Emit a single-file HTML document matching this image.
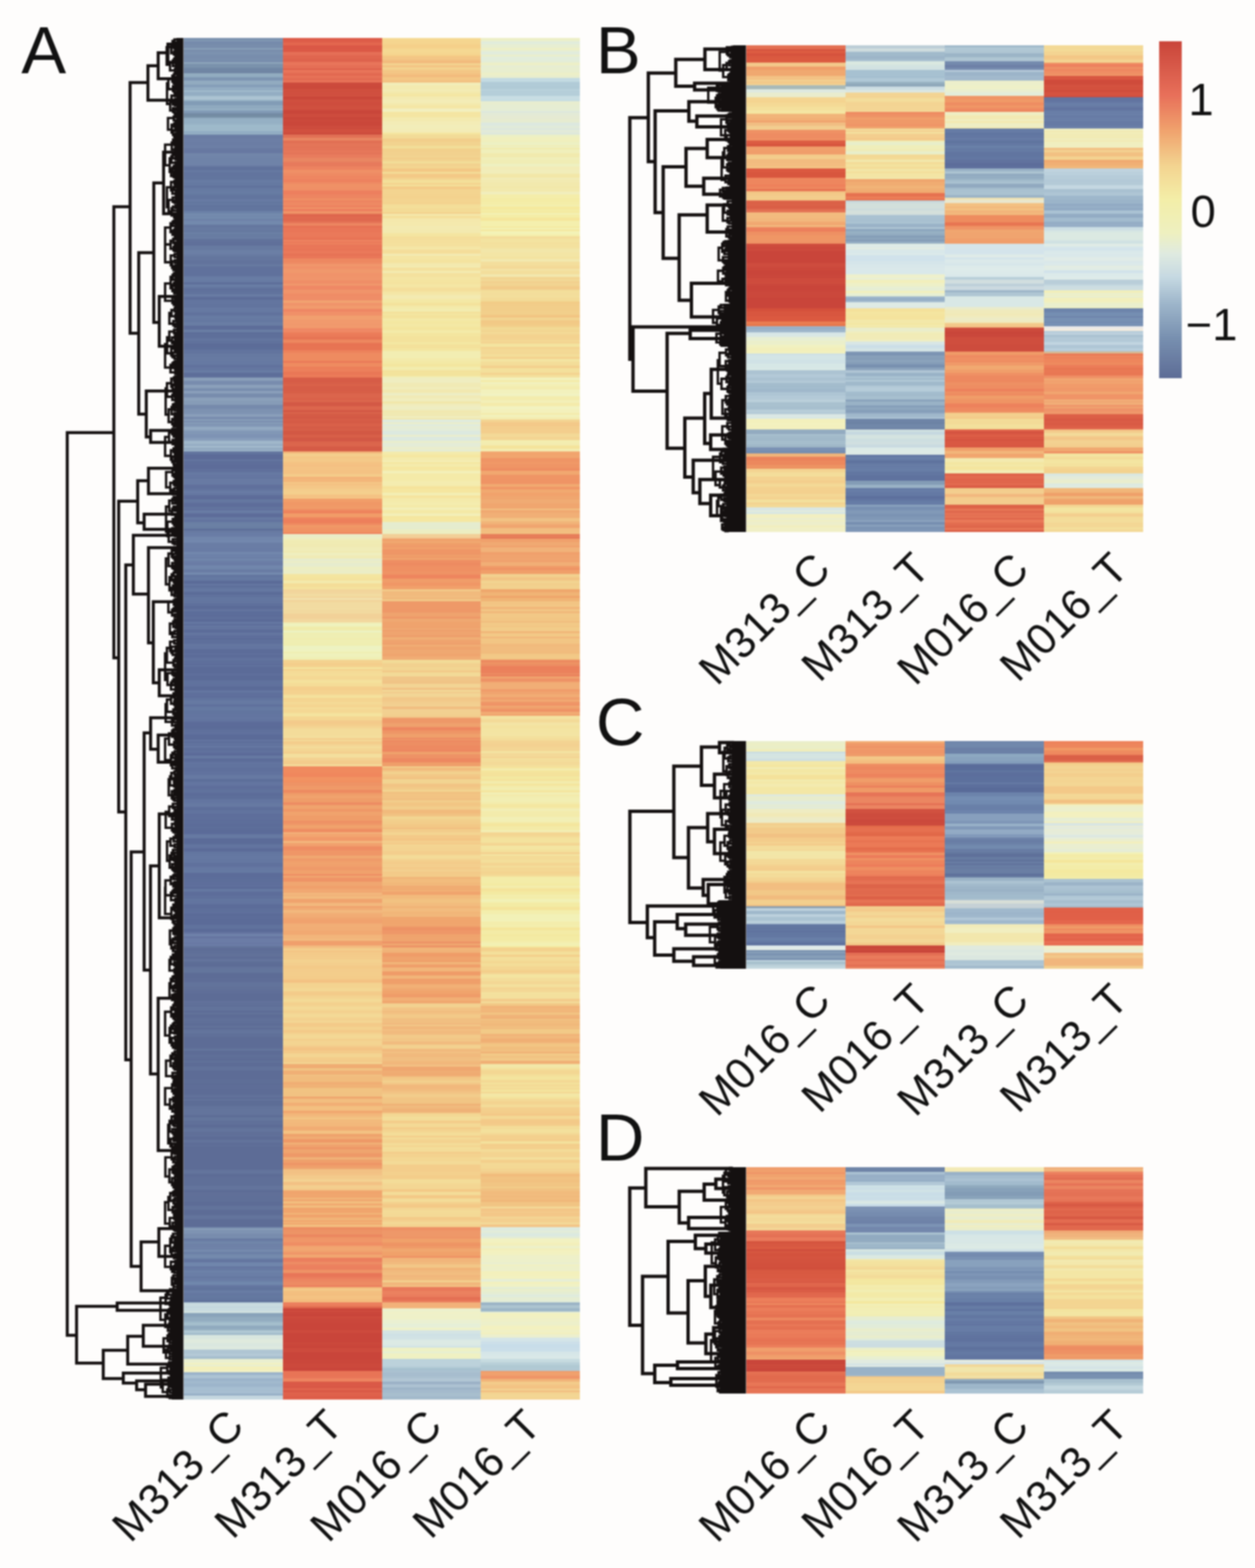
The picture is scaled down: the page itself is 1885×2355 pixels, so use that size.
<!DOCTYPE html>
<html><head><meta charset="utf-8"><title>Heatmaps</title>
<style>html,body{margin:0;padding:0;background:#fefdfc;}svg{display:block;}#wrap{filter:blur(1px);}</style></head>
<body><div id="wrap"><svg width="1885" height="2355" viewBox="0 0 1885 2355" >
<rect width="1885" height="2355" fill="#fefdfc"/>
<g shape-rendering="crispEdges">
<g transform="translate(276.00,0) scale(149.15,1)">
<rect y="57" width="1" height="3.4" fill="#798fad"/>
<rect y="60" width="1" height="2.4" fill="#8198b3"/>
<rect y="62" width="1" height="5.4" fill="#768bab"/>
<rect y="67" width="1" height="5.4" fill="#788dac"/>
<rect y="72" width="1" height="3.4" fill="#869db6"/>
<rect y="75" width="1" height="2.4" fill="#7589a9"/>
<rect y="77" width="1" height="5.4" fill="#7c92af"/>
<rect y="82" width="1" height="2.4" fill="#788ead"/>
<rect y="84" width="1" height="4.4" fill="#788dac"/>
<rect y="88" width="1" height="3.4" fill="#7a90ae"/>
<rect y="91" width="1" height="2.4" fill="#758aaa"/>
<rect y="93" width="1" height="3.4" fill="#8ba2b9"/>
<rect y="96" width="1" height="6.4" fill="#7a92ac"/>
<rect y="102" width="1" height="5.4" fill="#7086a4"/>
<rect y="107" width="1" height="3.4" fill="#7085a3"/>
<rect y="110" width="1" height="6.4" fill="#92acc0"/>
<rect y="116" width="1" height="5.4" fill="#7d95b2"/>
<rect y="121" width="1" height="6.4" fill="#92abc0"/>
<rect y="127" width="1" height="4.4" fill="#859eb8"/>
<rect y="131" width="1" height="5.4" fill="#92acc2"/>
<rect y="136" width="1" height="2.4" fill="#a3bdcd"/>
<rect y="138" width="1" height="6.4" fill="#93adc3"/>
<rect y="144" width="1" height="2.4" fill="#aac2d1"/>
<rect y="146" width="1" height="4.4" fill="#acc4d2"/>
<rect y="150" width="1" height="2.4" fill="#94aec3"/>
<rect y="152" width="1" height="6.4" fill="#829cb6"/>
<rect y="158" width="1" height="5.4" fill="#8fa9bf"/>
<rect y="163" width="1" height="3.4" fill="#95afc3"/>
<rect y="166" width="1" height="4.4" fill="#819ab6"/>
<rect y="170" width="1" height="5.4" fill="#748ba3"/>
<rect y="175" width="1" height="2.4" fill="#7a93a9"/>
<rect y="177" width="1" height="2.4" fill="#93aec2"/>
<rect y="179" width="1" height="5.4" fill="#95b0c4"/>
<rect y="184" width="1" height="3.4" fill="#96b1c5"/>
<rect y="187" width="1" height="4.4" fill="#9ebaca"/>
<rect y="191" width="1" height="6.4" fill="#9eb9ca"/>
<rect y="197" width="1" height="3.4" fill="#91acc2"/>
<rect y="200" width="1" height="2.4" fill="#96b1c5"/>
<rect y="202" width="1" height="2.4" fill="#6d81a6"/>
<rect y="204" width="1" height="4.4" fill="#6a7ca3"/>
<rect y="208" width="1" height="6.4" fill="#6c7ea5"/>
<rect y="214" width="1" height="5.4" fill="#6b7da4"/>
<rect y="219" width="1" height="3.4" fill="#6d80a6"/>
<rect y="222" width="1" height="2.4" fill="#697ba2"/>
<rect y="224" width="1" height="6.4" fill="#6778a1"/>
<rect y="230" width="1" height="6.4" fill="#7185a9"/>
<rect y="236" width="1" height="6.4" fill="#6f83a8"/>
<rect y="242" width="1" height="6.4" fill="#6f83a8"/>
<rect y="248" width="1" height="2.4" fill="#6b7da4"/>
<rect y="250" width="1" height="6.4" fill="#60729c"/>
<rect y="256" width="1" height="2.4" fill="#687ca4"/>
<rect y="258" width="1" height="6.4" fill="#62749e"/>
<rect y="264" width="1" height="6.4" fill="#62759e"/>
<rect y="270" width="1" height="3.4" fill="#677ba3"/>
<rect y="273" width="1" height="2.4" fill="#667aa2"/>
<rect y="275" width="1" height="4.4" fill="#6579a1"/>
<rect y="279" width="1" height="3.4" fill="#60729c"/>
<rect y="282" width="1" height="5.4" fill="#667aa2"/>
<rect y="287" width="1" height="4.4" fill="#677ca3"/>
<rect y="291" width="1" height="2.4" fill="#6579a1"/>
<rect y="293" width="1" height="6.4" fill="#62759e"/>
<rect y="299" width="1" height="4.4" fill="#677ba3"/>
<rect y="303" width="1" height="2.4" fill="#62759e"/>
<rect y="305" width="1" height="3.4" fill="#6579a1"/>
<rect y="308" width="1" height="3.4" fill="#61749d"/>
<rect y="311" width="1" height="6.4" fill="#62759e"/>
<rect y="317" width="1" height="4.4" fill="#6c82a8"/>
<rect y="321" width="1" height="2.4" fill="#768daf"/>
<rect y="323" width="1" height="2.4" fill="#7186ab"/>
<rect y="325" width="1" height="4.4" fill="#738aad"/>
<rect y="329" width="1" height="2.4" fill="#6c80a6"/>
<rect y="331" width="1" height="3.4" fill="#7288ac"/>
<rect y="334" width="1" height="2.4" fill="#748bae"/>
<rect y="336" width="1" height="2.4" fill="#7085aa"/>
<rect y="338" width="1" height="3.4" fill="#64769e"/>
<rect y="341" width="1" height="4.4" fill="#677aa1"/>
<rect y="345" width="1" height="4.4" fill="#6679a0"/>
<rect y="349" width="1" height="2.4" fill="#6c82a6"/>
<rect y="351" width="1" height="5.4" fill="#687ca2"/>
<rect y="356" width="1" height="3.4" fill="#697da3"/>
<rect y="359" width="1" height="4.4" fill="#61729b"/>
<rect y="363" width="1" height="6.4" fill="#60709a"/>
<rect y="369" width="1" height="6.4" fill="#677aa1"/>
<rect y="375" width="1" height="2.4" fill="#6a7ea4"/>
<rect y="377" width="1" height="5.4" fill="#6b7fa5"/>
<rect y="382" width="1" height="3.4" fill="#677aa1"/>
<rect y="385" width="1" height="6.4" fill="#64769e"/>
<rect y="391" width="1" height="6.4" fill="#62739c"/>
<rect y="397" width="1" height="3.4" fill="#677aa1"/>
<rect y="400" width="1" height="6.4" fill="#60719c"/>
<rect y="406" width="1" height="5.4" fill="#60719c"/>
<rect y="411" width="1" height="4.4" fill="#60719c"/>
<rect y="415" width="1" height="5.4" fill="#687ca4"/>
<rect y="420" width="1" height="4.4" fill="#677ba3"/>
<rect y="424" width="1" height="3.4" fill="#5d6d99"/>
<rect y="427" width="1" height="4.4" fill="#687ca4"/>
<rect y="431" width="1" height="2.4" fill="#6577a0"/>
<rect y="433" width="1" height="4.4" fill="#5f709b"/>
<rect y="437" width="1" height="5.4" fill="#61739d"/>
<rect y="442" width="1" height="3.4" fill="#697da4"/>
<rect y="445" width="1" height="2.4" fill="#61729d"/>
<rect y="447" width="1" height="3.4" fill="#5c6c98"/>
<rect y="450" width="1" height="6.4" fill="#63759f"/>
<rect y="456" width="1" height="6.4" fill="#62749e"/>
<rect y="462" width="1" height="5.4" fill="#6679a2"/>
<rect y="467" width="1" height="2.4" fill="#6679a2"/>
<rect y="469" width="1" height="5.4" fill="#61729d"/>
<rect y="474" width="1" height="5.4" fill="#677ba3"/>
<rect y="479" width="1" height="5.4" fill="#6578a1"/>
<rect y="484" width="1" height="5.4" fill="#697da4"/>
<rect y="489" width="1" height="6.4" fill="#5d6d99"/>
<rect y="495" width="1" height="4.4" fill="#697da4"/>
<rect y="499" width="1" height="3.4" fill="#5d6e99"/>
<rect y="502" width="1" height="6.4" fill="#5e6f9a"/>
<rect y="508" width="1" height="4.4" fill="#63759f"/>
<rect y="512" width="1" height="4.4" fill="#60719c"/>
<rect y="516" width="1" height="5.4" fill="#5c6c98"/>
<rect y="521" width="1" height="4.4" fill="#5c6d99"/>
<rect y="525" width="1" height="6.4" fill="#62749e"/>
<rect y="531" width="1" height="6.4" fill="#6679a1"/>
<rect y="537" width="1" height="2.4" fill="#687ba3"/>
<rect y="539" width="1" height="3.4" fill="#677aa2"/>
<rect y="542" width="1" height="6.4" fill="#6679a2"/>
<rect y="548" width="1" height="4.4" fill="#61729d"/>
<rect y="552" width="1" height="4.4" fill="#6476a0"/>
<rect y="556" width="1" height="4.4" fill="#677ba3"/>
<rect y="560" width="1" height="3.4" fill="#5d6d99"/>
<rect y="563" width="1" height="4.4" fill="#5e6f9a"/>
<rect y="567" width="1" height="5.4" fill="#899eb9"/>
<rect y="572" width="1" height="6.4" fill="#788cae"/>
<rect y="578" width="1" height="4.4" fill="#8ca1bb"/>
<rect y="582" width="1" height="2.4" fill="#8297b4"/>
<rect y="584" width="1" height="3.4" fill="#778bad"/>
<rect y="587" width="1" height="4.4" fill="#8a9fba"/>
<rect y="591" width="1" height="6.4" fill="#788cad"/>
<rect y="597" width="1" height="5.4" fill="#8ba0ba"/>
<rect y="602" width="1" height="6.4" fill="#869cb7"/>
<rect y="608" width="1" height="2.4" fill="#7689ab"/>
<rect y="610" width="1" height="4.4" fill="#768aac"/>
<rect y="614" width="1" height="6.4" fill="#7d92b1"/>
<rect y="620" width="1" height="2.4" fill="#7f94b3"/>
<rect y="622" width="1" height="4.4" fill="#8a9fba"/>
<rect y="626" width="1" height="2.4" fill="#778bad"/>
<rect y="628" width="1" height="2.4" fill="#7b8fb0"/>
<rect y="630" width="1" height="2.4" fill="#8aa0ba"/>
<rect y="632" width="1" height="2.4" fill="#778bad"/>
<rect y="634" width="1" height="2.4" fill="#879db8"/>
<rect y="636" width="1" height="4.4" fill="#8095b4"/>
<rect y="640" width="1" height="2.4" fill="#8ba2bd"/>
<rect y="642" width="1" height="3.4" fill="#94abc3"/>
<rect y="645" width="1" height="2.4" fill="#8ca2bd"/>
<rect y="647" width="1" height="5.4" fill="#8197b6"/>
<rect y="652" width="1" height="6.4" fill="#7e93b4"/>
<rect y="658" width="1" height="4.4" fill="#889ebb"/>
<rect y="662" width="1" height="5.4" fill="#a0b7ca"/>
<rect y="667" width="1" height="3.4" fill="#95acc3"/>
<rect y="670" width="1" height="2.4" fill="#a8bfcf"/>
<rect y="672" width="1" height="4.4" fill="#93aac2"/>
<rect y="676" width="1" height="2.4" fill="#9cb3c7"/>
<rect y="678" width="1" height="4.4" fill="#63759f"/>
<rect y="682" width="1" height="2.4" fill="#5c6c99"/>
<rect y="684" width="1" height="6.4" fill="#5c6b98"/>
<rect y="690" width="1" height="2.4" fill="#6577a1"/>
<rect y="692" width="1" height="6.4" fill="#5e6e9a"/>
<rect y="698" width="1" height="6.4" fill="#5d6c99"/>
<rect y="704" width="1" height="5.4" fill="#60709c"/>
<rect y="709" width="1" height="4.4" fill="#6679a2"/>
<rect y="713" width="1" height="3.4" fill="#6576a1"/>
<rect y="716" width="1" height="3.4" fill="#6476a0"/>
<rect y="719" width="1" height="4.4" fill="#687aa3"/>
<rect y="723" width="1" height="5.4" fill="#687aa3"/>
<rect y="728" width="1" height="6.4" fill="#60709c"/>
<rect y="734" width="1" height="3.4" fill="#63759f"/>
<rect y="737" width="1" height="4.4" fill="#687ba4"/>
<rect y="741" width="1" height="3.4" fill="#6476a0"/>
<rect y="744" width="1" height="6.4" fill="#5d6c99"/>
<rect y="750" width="1" height="4.4" fill="#6578a1"/>
<rect y="754" width="1" height="2.4" fill="#61729d"/>
<rect y="756" width="1" height="6.4" fill="#5e6d9a"/>
<rect y="762" width="1" height="2.4" fill="#6578a1"/>
<rect y="764" width="1" height="2.4" fill="#5e6d9a"/>
<rect y="766" width="1" height="5.4" fill="#687ba4"/>
<rect y="771" width="1" height="6.4" fill="#5d6c99"/>
<rect y="777" width="1" height="2.4" fill="#687ca4"/>
<rect y="779" width="1" height="2.4" fill="#6577a1"/>
<rect y="781" width="1" height="3.4" fill="#62739e"/>
<rect y="784" width="1" height="3.4" fill="#6a7fa4"/>
<rect y="787" width="1" height="4.4" fill="#6b80a4"/>
<rect y="791" width="1" height="3.4" fill="#697ea3"/>
<rect y="794" width="1" height="3.4" fill="#5e6f99"/>
<rect y="797" width="1" height="3.4" fill="#687ba2"/>
<rect y="800" width="1" height="6.4" fill="#697ca5"/>
<rect y="806" width="1" height="6.4" fill="#7186ac"/>
<rect y="812" width="1" height="3.4" fill="#7388ae"/>
<rect y="815" width="1" height="2.4" fill="#6a7da5"/>
<rect y="817" width="1" height="6.4" fill="#6a7da5"/>
<rect y="823" width="1" height="6.4" fill="#697ca5"/>
<rect y="829" width="1" height="3.4" fill="#7288ad"/>
<rect y="832" width="1" height="5.4" fill="#6d81a9"/>
<rect y="837" width="1" height="2.4" fill="#6b7ea6"/>
<rect y="839" width="1" height="3.4" fill="#7186ac"/>
<rect y="842" width="1" height="2.4" fill="#6c7fa7"/>
<rect y="844" width="1" height="5.4" fill="#6a7ca5"/>
<rect y="849" width="1" height="6.4" fill="#7186ac"/>
<rect y="855" width="1" height="5.4" fill="#697ca4"/>
<rect y="860" width="1" height="3.4" fill="#758baf"/>
<rect y="863" width="1" height="4.4" fill="#6376a0"/>
<rect y="867" width="1" height="5.4" fill="#6579a2"/>
<rect y="872" width="1" height="5.4" fill="#5b6b98"/>
<rect y="877" width="1" height="2.4" fill="#6578a2"/>
<rect y="879" width="1" height="4.4" fill="#5e6f9b"/>
<rect y="883" width="1" height="6.4" fill="#6477a1"/>
<rect y="889" width="1" height="4.4" fill="#5b6b98"/>
<rect y="893" width="1" height="4.4" fill="#60729d"/>
<rect y="897" width="1" height="5.4" fill="#6376a0"/>
<rect y="902" width="1" height="2.4" fill="#63759f"/>
<rect y="904" width="1" height="2.4" fill="#6376a0"/>
<rect y="906" width="1" height="4.4" fill="#5f709c"/>
<rect y="910" width="1" height="5.4" fill="#5b6b98"/>
<rect y="915" width="1" height="3.4" fill="#63759f"/>
<rect y="918" width="1" height="5.4" fill="#5c6d9a"/>
<rect y="923" width="1" height="3.4" fill="#5c6c99"/>
<rect y="926" width="1" height="4.4" fill="#5e6f9b"/>
<rect y="930" width="1" height="4.4" fill="#5b6b98"/>
<rect y="934" width="1" height="3.4" fill="#6578a2"/>
<rect y="937" width="1" height="2.4" fill="#5b6b99"/>
<rect y="939" width="1" height="4.4" fill="#6476a0"/>
<rect y="943" width="1" height="3.4" fill="#62739e"/>
<rect y="946" width="1" height="4.4" fill="#5b6b98"/>
<rect y="950" width="1" height="4.4" fill="#6476a0"/>
<rect y="954" width="1" height="5.4" fill="#5e6e9b"/>
<rect y="959" width="1" height="2.4" fill="#5b6b98"/>
<rect y="961" width="1" height="6.4" fill="#5e6f9b"/>
<rect y="967" width="1" height="3.4" fill="#6476a0"/>
<rect y="970" width="1" height="5.4" fill="#6375a0"/>
<rect y="975" width="1" height="6.4" fill="#5c6c99"/>
<rect y="981" width="1" height="2.4" fill="#5f709c"/>
<rect y="983" width="1" height="5.4" fill="#5c6c99"/>
<rect y="988" width="1" height="4.4" fill="#61729e"/>
<rect y="992" width="1" height="3.4" fill="#5e6f9b"/>
<rect y="995" width="1" height="2.4" fill="#5f709c"/>
<rect y="997" width="1" height="2.4" fill="#5b6b98"/>
<rect y="999" width="1" height="2.4" fill="#62749f"/>
<rect y="1001" width="1" height="2.4" fill="#5b6b98"/>
<rect y="1003" width="1" height="3.4" fill="#5b6b98"/>
<rect y="1006" width="1" height="6.4" fill="#5b6b98"/>
<rect y="1012" width="1" height="2.4" fill="#60719d"/>
<rect y="1014" width="1" height="3.4" fill="#5b6b98"/>
<rect y="1017" width="1" height="5.4" fill="#5b6b98"/>
<rect y="1022" width="1" height="5.4" fill="#60729d"/>
<rect y="1027" width="1" height="4.4" fill="#60719d"/>
<rect y="1031" width="1" height="6.4" fill="#5b6b98"/>
<rect y="1037" width="1" height="3.4" fill="#6477a1"/>
<rect y="1040" width="1" height="6.4" fill="#5f6f9c"/>
<rect y="1046" width="1" height="2.4" fill="#5d6d9a"/>
<rect y="1048" width="1" height="4.4" fill="#62759f"/>
<rect y="1052" width="1" height="6.4" fill="#6679a2"/>
<rect y="1058" width="1" height="3.4" fill="#5f6f9c"/>
<rect y="1061" width="1" height="6.4" fill="#6579a2"/>
<rect y="1067" width="1" height="6.4" fill="#62759f"/>
<rect y="1073" width="1" height="4.4" fill="#6375a0"/>
<rect y="1077" width="1" height="4.4" fill="#6476a1"/>
<rect y="1081" width="1" height="3.4" fill="#62749f"/>
<rect y="1084" width="1" height="6.4" fill="#5c6b99"/>
<rect y="1090" width="1" height="5.4" fill="#5b6b98"/>
<rect y="1095" width="1" height="3.4" fill="#5e6f9b"/>
<rect y="1098" width="1" height="5.4" fill="#60719d"/>
<rect y="1103" width="1" height="2.4" fill="#5b6b99"/>
<rect y="1105" width="1" height="6.4" fill="#5b6b98"/>
<rect y="1111" width="1" height="3.4" fill="#62749f"/>
<rect y="1114" width="1" height="2.4" fill="#5b6b98"/>
<rect y="1116" width="1" height="2.4" fill="#6477a1"/>
<rect y="1118" width="1" height="2.4" fill="#5e6f9b"/>
<rect y="1120" width="1" height="3.4" fill="#6578a2"/>
<rect y="1123" width="1" height="4.4" fill="#5e6f9b"/>
<rect y="1127" width="1" height="4.4" fill="#60719d"/>
<rect y="1131" width="1" height="4.4" fill="#5c6b99"/>
<rect y="1135" width="1" height="4.4" fill="#6679a2"/>
<rect y="1139" width="1" height="5.4" fill="#5c6c99"/>
<rect y="1144" width="1" height="4.4" fill="#62749f"/>
<rect y="1148" width="1" height="5.4" fill="#61739e"/>
<rect y="1153" width="1" height="6.4" fill="#5f709c"/>
<rect y="1159" width="1" height="5.4" fill="#61729e"/>
<rect y="1164" width="1" height="6.4" fill="#6679a2"/>
<rect y="1170" width="1" height="4.4" fill="#5d6e9a"/>
<rect y="1174" width="1" height="6.4" fill="#6375a0"/>
<rect y="1180" width="1" height="5.4" fill="#5e6e9b"/>
<rect y="1185" width="1" height="6.4" fill="#60729d"/>
<rect y="1191" width="1" height="4.4" fill="#5c6c99"/>
<rect y="1195" width="1" height="5.4" fill="#5d6e9a"/>
<rect y="1200" width="1" height="6.4" fill="#6375a0"/>
<rect y="1206" width="1" height="6.4" fill="#6679a2"/>
<rect y="1212" width="1" height="5.4" fill="#5e6f9b"/>
<rect y="1217" width="1" height="5.4" fill="#61739e"/>
<rect y="1222" width="1" height="6.4" fill="#5e6e9b"/>
<rect y="1228" width="1" height="2.4" fill="#5f709c"/>
<rect y="1230" width="1" height="3.4" fill="#5d6d9a"/>
<rect y="1233" width="1" height="4.4" fill="#5d6e9a"/>
<rect y="1237" width="1" height="5.4" fill="#5c6c99"/>
<rect y="1242" width="1" height="3.4" fill="#5d6e9a"/>
<rect y="1245" width="1" height="5.4" fill="#5b6b98"/>
<rect y="1250" width="1" height="3.4" fill="#5b6b99"/>
<rect y="1253" width="1" height="6.4" fill="#6679a2"/>
<rect y="1259" width="1" height="4.4" fill="#5b6b98"/>
<rect y="1263" width="1" height="5.4" fill="#5b6b98"/>
<rect y="1268" width="1" height="6.4" fill="#62749f"/>
<rect y="1274" width="1" height="5.4" fill="#5b6b98"/>
<rect y="1279" width="1" height="5.4" fill="#6376a0"/>
<rect y="1284" width="1" height="6.4" fill="#6578a2"/>
<rect y="1290" width="1" height="6.4" fill="#6477a1"/>
<rect y="1296" width="1" height="6.4" fill="#60719d"/>
<rect y="1302" width="1" height="4.4" fill="#6578a2"/>
<rect y="1306" width="1" height="5.4" fill="#6579a2"/>
<rect y="1311" width="1" height="6.4" fill="#5c6c99"/>
<rect y="1317" width="1" height="3.4" fill="#5c6d9a"/>
<rect y="1320" width="1" height="5.4" fill="#5d6e9a"/>
<rect y="1325" width="1" height="4.4" fill="#5e6e9b"/>
<rect y="1329" width="1" height="3.4" fill="#5f6f9c"/>
<rect y="1332" width="1" height="3.4" fill="#5b6b98"/>
<rect y="1335" width="1" height="4.4" fill="#6578a2"/>
<rect y="1339" width="1" height="6.4" fill="#5d6d9a"/>
<rect y="1345" width="1" height="5.4" fill="#5f709c"/>
<rect y="1350" width="1" height="2.4" fill="#6376a0"/>
<rect y="1352" width="1" height="6.4" fill="#62749f"/>
<rect y="1358" width="1" height="6.4" fill="#5c6c99"/>
<rect y="1364" width="1" height="5.4" fill="#5e6f9b"/>
<rect y="1369" width="1" height="3.4" fill="#5f709c"/>
<rect y="1372" width="1" height="4.4" fill="#5b6b98"/>
<rect y="1376" width="1" height="4.4" fill="#5c6c99"/>
<rect y="1380" width="1" height="4.4" fill="#5b6b98"/>
<rect y="1384" width="1" height="3.4" fill="#5b6b98"/>
<rect y="1387" width="1" height="2.4" fill="#5b6b98"/>
<rect y="1389" width="1" height="6.4" fill="#60729d"/>
<rect y="1395" width="1" height="5.4" fill="#5b6b98"/>
<rect y="1400" width="1" height="3.4" fill="#6676a1"/>
<rect y="1403" width="1" height="3.4" fill="#7083ab"/>
<rect y="1406" width="1" height="3.4" fill="#6574a0"/>
<rect y="1409" width="1" height="6.4" fill="#6b7ca6"/>
<rect y="1415" width="1" height="3.4" fill="#6979a4"/>
<rect y="1418" width="1" height="3.4" fill="#6b7ca6"/>
<rect y="1421" width="1" height="3.4" fill="#62739b"/>
<rect y="1424" width="1" height="3.4" fill="#5d6c96"/>
<rect y="1427" width="1" height="5.4" fill="#5f6f98"/>
<rect y="1432" width="1" height="5.4" fill="#617199"/>
<rect y="1437" width="1" height="3.4" fill="#5d6c96"/>
<rect y="1440" width="1" height="4.4" fill="#63749c"/>
<rect y="1444" width="1" height="3.4" fill="#5e6e97"/>
<rect y="1447" width="1" height="5.4" fill="#5d6c96"/>
<rect y="1452" width="1" height="3.4" fill="#63749c"/>
<rect y="1455" width="1" height="6.4" fill="#63759c"/>
<rect y="1461" width="1" height="3.4" fill="#5d6c96"/>
<rect y="1464" width="1" height="5.4" fill="#5d6c96"/>
<rect y="1469" width="1" height="6.4" fill="#5e6d97"/>
<rect y="1475" width="1" height="4.4" fill="#62739b"/>
<rect y="1479" width="1" height="3.4" fill="#62739b"/>
<rect y="1482" width="1" height="5.4" fill="#617199"/>
<rect y="1487" width="1" height="5.4" fill="#5f6e98"/>
<rect y="1492" width="1" height="3.4" fill="#5d6c96"/>
<rect y="1495" width="1" height="3.4" fill="#5d6c96"/>
<rect y="1498" width="1" height="5.4" fill="#5d6c96"/>
<rect y="1503" width="1" height="5.4" fill="#61719a"/>
<rect y="1508" width="1" height="4.4" fill="#5f6f98"/>
<rect y="1512" width="1" height="6.4" fill="#62739b"/>
<rect y="1518" width="1" height="3.4" fill="#5d6c96"/>
<rect y="1521" width="1" height="2.4" fill="#64759c"/>
<rect y="1523" width="1" height="2.4" fill="#5d6c96"/>
<rect y="1525" width="1" height="4.4" fill="#5d6c96"/>
<rect y="1529" width="1" height="6.4" fill="#607099"/>
<rect y="1535" width="1" height="3.4" fill="#5e6e97"/>
<rect y="1538" width="1" height="3.4" fill="#5d6c96"/>
<rect y="1541" width="1" height="2.4" fill="#64759c"/>
<rect y="1543" width="1" height="3.4" fill="#5d6c96"/>
<rect y="1546" width="1" height="6.4" fill="#63749c"/>
<rect y="1552" width="1" height="5.4" fill="#607099"/>
<rect y="1557" width="1" height="2.4" fill="#5e6d96"/>
<rect y="1559" width="1" height="4.4" fill="#5d6c96"/>
<rect y="1563" width="1" height="2.4" fill="#5d6c96"/>
<rect y="1565" width="1" height="6.4" fill="#5d6c96"/>
<rect y="1571" width="1" height="2.4" fill="#5d6c96"/>
<rect y="1573" width="1" height="2.4" fill="#5e6d97"/>
<rect y="1575" width="1" height="3.4" fill="#63759c"/>
<rect y="1578" width="1" height="3.4" fill="#5d6c96"/>
<rect y="1581" width="1" height="3.4" fill="#5d6c96"/>
<rect y="1584" width="1" height="5.4" fill="#5f6f98"/>
<rect y="1589" width="1" height="4.4" fill="#5d6c96"/>
<rect y="1593" width="1" height="3.4" fill="#607199"/>
<rect y="1596" width="1" height="6.4" fill="#5d6c96"/>
<rect y="1602" width="1" height="6.4" fill="#61729a"/>
<rect y="1608" width="1" height="5.4" fill="#5d6c96"/>
<rect y="1613" width="1" height="6.4" fill="#5d6c96"/>
<rect y="1619" width="1" height="2.4" fill="#5d6c96"/>
<rect y="1621" width="1" height="6.4" fill="#5e6e97"/>
<rect y="1627" width="1" height="3.4" fill="#5d6c96"/>
<rect y="1630" width="1" height="6.4" fill="#5e6d97"/>
<rect y="1636" width="1" height="2.4" fill="#5d6c96"/>
<rect y="1638" width="1" height="6.4" fill="#5d6c96"/>
<rect y="1644" width="1" height="2.4" fill="#607099"/>
<rect y="1646" width="1" height="2.4" fill="#62729b"/>
<rect y="1648" width="1" height="3.4" fill="#5d6c96"/>
<rect y="1651" width="1" height="2.4" fill="#63749c"/>
<rect y="1653" width="1" height="2.4" fill="#5d6c96"/>
<rect y="1655" width="1" height="6.4" fill="#5d6d96"/>
<rect y="1661" width="1" height="4.4" fill="#62739b"/>
<rect y="1665" width="1" height="4.4" fill="#63749c"/>
<rect y="1669" width="1" height="6.4" fill="#63749c"/>
<rect y="1675" width="1" height="3.4" fill="#5d6c96"/>
<rect y="1678" width="1" height="5.4" fill="#63759c"/>
<rect y="1683" width="1" height="6.4" fill="#607099"/>
<rect y="1689" width="1" height="4.4" fill="#5d6c96"/>
<rect y="1693" width="1" height="2.4" fill="#607099"/>
<rect y="1695" width="1" height="5.4" fill="#63749c"/>
<rect y="1700" width="1" height="4.4" fill="#606f98"/>
<rect y="1704" width="1" height="3.4" fill="#607099"/>
<rect y="1707" width="1" height="5.4" fill="#5d6c96"/>
<rect y="1712" width="1" height="4.4" fill="#62739b"/>
<rect y="1716" width="1" height="3.4" fill="#5d6c96"/>
<rect y="1719" width="1" height="3.4" fill="#5f6f98"/>
<rect y="1722" width="1" height="4.4" fill="#5d6c96"/>
<rect y="1726" width="1" height="5.4" fill="#5d6c96"/>
<rect y="1731" width="1" height="6.4" fill="#5d6c96"/>
<rect y="1737" width="1" height="3.4" fill="#5d6c96"/>
<rect y="1740" width="1" height="5.4" fill="#5d6c96"/>
<rect y="1745" width="1" height="6.4" fill="#5d6c96"/>
<rect y="1751" width="1" height="6.4" fill="#5d6c96"/>
<rect y="1757" width="1" height="6.4" fill="#63749c"/>
<rect y="1763" width="1" height="4.4" fill="#5d6c96"/>
<rect y="1767" width="1" height="3.4" fill="#5f6e98"/>
<rect y="1770" width="1" height="6.4" fill="#5f6f98"/>
<rect y="1776" width="1" height="5.4" fill="#5f6f98"/>
<rect y="1781" width="1" height="6.4" fill="#63749c"/>
<rect y="1787" width="1" height="4.4" fill="#5d6c96"/>
<rect y="1791" width="1" height="6.4" fill="#606f98"/>
<rect y="1797" width="1" height="4.4" fill="#5f6f98"/>
<rect y="1801" width="1" height="4.4" fill="#5f6f98"/>
<rect y="1805" width="1" height="6.4" fill="#5d6c96"/>
<rect y="1811" width="1" height="6.4" fill="#62739b"/>
<rect y="1817" width="1" height="4.4" fill="#5d6c96"/>
<rect y="1821" width="1" height="4.4" fill="#5d6c96"/>
<rect y="1825" width="1" height="6.4" fill="#63749c"/>
<rect y="1831" width="1" height="4.4" fill="#5d6c96"/>
<rect y="1835" width="1" height="4.4" fill="#5d6c96"/>
<rect y="1839" width="1" height="4.4" fill="#5d6c96"/>
<rect y="1843" width="1" height="2.4" fill="#768aac"/>
<rect y="1845" width="1" height="2.4" fill="#899eb9"/>
<rect y="1847" width="1" height="6.4" fill="#7e93b2"/>
<rect y="1853" width="1" height="4.4" fill="#788cad"/>
<rect y="1857" width="1" height="3.4" fill="#788dae"/>
<rect y="1860" width="1" height="4.4" fill="#687aa2"/>
<rect y="1864" width="1" height="4.4" fill="#7085a9"/>
<rect y="1868" width="1" height="5.4" fill="#6e81a7"/>
<rect y="1873" width="1" height="4.4" fill="#6f82a8"/>
<rect y="1877" width="1" height="3.4" fill="#758bae"/>
<rect y="1880" width="1" height="4.4" fill="#6c80a6"/>
<rect y="1884" width="1" height="5.4" fill="#748aad"/>
<rect y="1889" width="1" height="2.4" fill="#6e84aa"/>
<rect y="1891" width="1" height="5.4" fill="#6476a0"/>
<rect y="1896" width="1" height="6.4" fill="#7086ac"/>
<rect y="1902" width="1" height="2.4" fill="#6475a0"/>
<rect y="1904" width="1" height="4.4" fill="#677aa3"/>
<rect y="1908" width="1" height="3.4" fill="#6d82a9"/>
<rect y="1911" width="1" height="6.4" fill="#6a7ea6"/>
<rect y="1917" width="1" height="2.4" fill="#6578a1"/>
<rect y="1919" width="1" height="3.4" fill="#687ba4"/>
<rect y="1922" width="1" height="3.4" fill="#6a7ea6"/>
<rect y="1925" width="1" height="5.4" fill="#7087ac"/>
<rect y="1930" width="1" height="3.4" fill="#6577a1"/>
<rect y="1933" width="1" height="5.4" fill="#61749d"/>
<rect y="1938" width="1" height="4.4" fill="#687da4"/>
<rect y="1942" width="1" height="3.4" fill="#63769f"/>
<rect y="1945" width="1" height="3.4" fill="#6579a1"/>
<rect y="1948" width="1" height="4.4" fill="#63779f"/>
<rect y="1952" width="1" height="4.4" fill="#60739c"/>
<rect y="1956" width="1" height="2.4" fill="#c0d5dd"/>
<rect y="1958" width="1" height="4.4" fill="#cadce0"/>
<rect y="1962" width="1" height="2.4" fill="#c2d6de"/>
<rect y="1964" width="1" height="5.4" fill="#c8dbe0"/>
<rect y="1969" width="1" height="3.4" fill="#d1e1df"/>
<rect y="1972" width="1" height="6.4" fill="#89a3ba"/>
<rect y="1978" width="1" height="6.4" fill="#92acc0"/>
<rect y="1984" width="1" height="2.4" fill="#99b4c5"/>
<rect y="1986" width="1" height="5.4" fill="#a4becc"/>
<rect y="1991" width="1" height="4.4" fill="#8fa9be"/>
<rect y="1995" width="1" height="3.4" fill="#94aec1"/>
<rect y="1998" width="1" height="4.4" fill="#b0c8d4"/>
<rect y="2002" width="1" height="3.4" fill="#a2bccb"/>
<rect y="2005" width="1" height="6.4" fill="#d8e6df"/>
<rect y="2011" width="1" height="6.4" fill="#dfeadd"/>
<rect y="2017" width="1" height="5.4" fill="#dae7df"/>
<rect y="2022" width="1" height="5.4" fill="#dde9df"/>
<rect y="2027" width="1" height="6.4" fill="#afc5d3"/>
<rect y="2033" width="1" height="4.4" fill="#b4c9d6"/>
<rect y="2037" width="1" height="4.4" fill="#a6becd"/>
<rect y="2041" width="1" height="6.4" fill="#eaefd0"/>
<rect y="2047" width="1" height="3.4" fill="#f2f1c1"/>
<rect y="2050" width="1" height="2.4" fill="#e6eed6"/>
<rect y="2052" width="1" height="6.4" fill="#f3efba"/>
<rect y="2058" width="1" height="3.4" fill="#f0f0c5"/>
<rect y="2061" width="1" height="2.4" fill="#99b1c8"/>
<rect y="2063" width="1" height="2.4" fill="#9bb3c9"/>
<rect y="2065" width="1" height="5.4" fill="#acc3d4"/>
<rect y="2070" width="1" height="4.4" fill="#9cb4ca"/>
<rect y="2074" width="1" height="4.4" fill="#a1b9cd"/>
<rect y="2078" width="1" height="5.4" fill="#9db5cb"/>
<rect y="2083" width="1" height="5.4" fill="#a6bed1"/>
<rect y="2088" width="1" height="2.4" fill="#a5bdd0"/>
<rect y="2090" width="1" height="3.4" fill="#a8bfd2"/>
<rect y="2093" width="1" height="3.4" fill="#96aec6"/>
<rect y="2096" width="1" height="6.4" fill="#c4d6df"/>
</g>
<g transform="translate(424.75,0) scale(149.15,1)">
<rect y="57" width="1" height="4.4" fill="#dc5a47"/>
<rect y="61" width="1" height="3.4" fill="#de5e49"/>
<rect y="64" width="1" height="4.4" fill="#e3674f"/>
<rect y="68" width="1" height="5.4" fill="#da5846"/>
<rect y="73" width="1" height="5.4" fill="#db5946"/>
<rect y="78" width="1" height="5.4" fill="#e56f56"/>
<rect y="83" width="1" height="5.4" fill="#e0664f"/>
<rect y="88" width="1" height="5.4" fill="#de634d"/>
<rect y="93" width="1" height="5.4" fill="#e8755a"/>
<rect y="98" width="1" height="5.4" fill="#e56f56"/>
<rect y="103" width="1" height="2.4" fill="#dc5f4a"/>
<rect y="105" width="1" height="3.4" fill="#e9765b"/>
<rect y="108" width="1" height="3.4" fill="#e57056"/>
<rect y="111" width="1" height="2.4" fill="#df644d"/>
<rect y="113" width="1" height="5.4" fill="#e67157"/>
<rect y="118" width="1" height="2.4" fill="#e16750"/>
<rect y="120" width="1" height="4.4" fill="#e77258"/>
<rect y="124" width="1" height="2.4" fill="#cb493b"/>
<rect y="126" width="1" height="2.4" fill="#cd4b3c"/>
<rect y="128" width="1" height="6.4" fill="#cb493b"/>
<rect y="134" width="1" height="2.4" fill="#d1513f"/>
<rect y="136" width="1" height="2.4" fill="#cf4e3e"/>
<rect y="138" width="1" height="5.4" fill="#d04f3f"/>
<rect y="143" width="1" height="2.4" fill="#d15240"/>
<rect y="145" width="1" height="4.4" fill="#c9463a"/>
<rect y="149" width="1" height="2.4" fill="#cf4e3e"/>
<rect y="151" width="1" height="2.4" fill="#d0503f"/>
<rect y="153" width="1" height="2.4" fill="#ce4d3d"/>
<rect y="155" width="1" height="4.4" fill="#ce4d3d"/>
<rect y="159" width="1" height="5.4" fill="#d0503f"/>
<rect y="164" width="1" height="2.4" fill="#cd4c3d"/>
<rect y="166" width="1" height="5.4" fill="#c9463a"/>
<rect y="171" width="1" height="5.4" fill="#cd4c3d"/>
<rect y="176" width="1" height="3.4" fill="#c9463a"/>
<rect y="179" width="1" height="4.4" fill="#cb493b"/>
<rect y="183" width="1" height="6.4" fill="#ca473a"/>
<rect y="189" width="1" height="5.4" fill="#cd4c3d"/>
<rect y="194" width="1" height="6.4" fill="#d1503f"/>
<rect y="200" width="1" height="2.4" fill="#ca483b"/>
<rect y="202" width="1" height="5.4" fill="#e17055"/>
<rect y="207" width="1" height="4.4" fill="#e98762"/>
<rect y="211" width="1" height="4.4" fill="#e16f54"/>
<rect y="215" width="1" height="5.4" fill="#e47558"/>
<rect y="220" width="1" height="2.4" fill="#e37357"/>
<rect y="222" width="1" height="4.4" fill="#e47458"/>
<rect y="226" width="1" height="3.4" fill="#e6785a"/>
<rect y="229" width="1" height="3.4" fill="#e47458"/>
<rect y="232" width="1" height="5.4" fill="#e87c5d"/>
<rect y="237" width="1" height="6.4" fill="#e98662"/>
<rect y="243" width="1" height="2.4" fill="#e77b5d"/>
<rect y="245" width="1" height="5.4" fill="#e77a5c"/>
<rect y="250" width="1" height="5.4" fill="#ed8360"/>
<rect y="255" width="1" height="5.4" fill="#ef9066"/>
<rect y="260" width="1" height="4.4" fill="#ee8a63"/>
<rect y="264" width="1" height="5.4" fill="#ee8661"/>
<rect y="269" width="1" height="5.4" fill="#ed825f"/>
<rect y="274" width="1" height="3.4" fill="#ee8d64"/>
<rect y="277" width="1" height="3.4" fill="#ef9266"/>
<rect y="280" width="1" height="6.4" fill="#ef9066"/>
<rect y="286" width="1" height="6.4" fill="#ed7f5e"/>
<rect y="292" width="1" height="6.4" fill="#ed8561"/>
<rect y="298" width="1" height="3.4" fill="#ef8f65"/>
<rect y="301" width="1" height="3.4" fill="#ed8460"/>
<rect y="304" width="1" height="5.4" fill="#ee8963"/>
<rect y="309" width="1" height="2.4" fill="#ed7e5e"/>
<rect y="311" width="1" height="3.4" fill="#ef9066"/>
<rect y="314" width="1" height="3.4" fill="#ed7d5d"/>
<rect y="317" width="1" height="4.4" fill="#ef9468"/>
<rect y="321" width="1" height="2.4" fill="#e16c51"/>
<rect y="323" width="1" height="2.4" fill="#dc634b"/>
<rect y="325" width="1" height="3.4" fill="#e06a50"/>
<rect y="328" width="1" height="4.4" fill="#df684f"/>
<rect y="332" width="1" height="3.4" fill="#e47155"/>
<rect y="335" width="1" height="4.4" fill="#ed8661"/>
<rect y="339" width="1" height="3.4" fill="#e67154"/>
<rect y="342" width="1" height="3.4" fill="#e97658"/>
<rect y="345" width="1" height="4.4" fill="#e97658"/>
<rect y="349" width="1" height="6.4" fill="#ea795a"/>
<rect y="355" width="1" height="2.4" fill="#ea7859"/>
<rect y="357" width="1" height="3.4" fill="#e77255"/>
<rect y="360" width="1" height="3.4" fill="#ed825f"/>
<rect y="363" width="1" height="2.4" fill="#ea7859"/>
<rect y="365" width="1" height="2.4" fill="#ed835f"/>
<rect y="367" width="1" height="2.4" fill="#e97758"/>
<rect y="369" width="1" height="3.4" fill="#e97658"/>
<rect y="372" width="1" height="2.4" fill="#ea7859"/>
<rect y="374" width="1" height="2.4" fill="#e77355"/>
<rect y="376" width="1" height="5.4" fill="#ea795a"/>
<rect y="381" width="1" height="3.4" fill="#e67255"/>
<rect y="384" width="1" height="4.4" fill="#e97658"/>
<rect y="388" width="1" height="7.4" fill="#ed8861"/>
<rect y="395" width="1" height="2.4" fill="#ef8f68"/>
<rect y="397" width="1" height="3.4" fill="#f0976b"/>
<rect y="400" width="1" height="4.4" fill="#f09169"/>
<rect y="404" width="1" height="6.4" fill="#f0986c"/>
<rect y="410" width="1" height="6.4" fill="#f0936a"/>
<rect y="416" width="1" height="5.4" fill="#f0956b"/>
<rect y="421" width="1" height="5.4" fill="#ef8e67"/>
<rect y="426" width="1" height="3.4" fill="#f0986c"/>
<rect y="429" width="1" height="6.4" fill="#ef8865"/>
<rect y="435" width="1" height="6.4" fill="#f0946a"/>
<rect y="441" width="1" height="3.4" fill="#ef8c66"/>
<rect y="444" width="1" height="5.4" fill="#ef8d67"/>
<rect y="449" width="1" height="2.4" fill="#ef8c67"/>
<rect y="451" width="1" height="4.4" fill="#f1a271"/>
<rect y="455" width="1" height="4.4" fill="#f0936a"/>
<rect y="459" width="1" height="5.4" fill="#f19b6d"/>
<rect y="464" width="1" height="4.4" fill="#ee8664"/>
<rect y="468" width="1" height="6.4" fill="#f09068"/>
<rect y="474" width="1" height="6.4" fill="#f19f6f"/>
<rect y="480" width="1" height="6.4" fill="#f19a6d"/>
<rect y="486" width="1" height="2.4" fill="#f0986c"/>
<rect y="488" width="1" height="5.4" fill="#f19a6d"/>
<rect y="493" width="1" height="3.4" fill="#ef8764"/>
<rect y="496" width="1" height="3.4" fill="#ef8965"/>
<rect y="499" width="1" height="3.4" fill="#ec7d5a"/>
<rect y="502" width="1" height="4.4" fill="#ea7a58"/>
<rect y="506" width="1" height="4.4" fill="#e77454"/>
<rect y="510" width="1" height="5.4" fill="#ed875f"/>
<rect y="515" width="1" height="5.4" fill="#e77353"/>
<rect y="520" width="1" height="6.4" fill="#e77453"/>
<rect y="526" width="1" height="4.4" fill="#ed825c"/>
<rect y="530" width="1" height="6.4" fill="#ee8b60"/>
<rect y="536" width="1" height="6.4" fill="#ee8b60"/>
<rect y="542" width="1" height="3.4" fill="#ea7a58"/>
<rect y="545" width="1" height="6.4" fill="#ee8b60"/>
<rect y="551" width="1" height="2.4" fill="#eb7c59"/>
<rect y="553" width="1" height="5.4" fill="#ec805b"/>
<rect y="558" width="1" height="5.4" fill="#e97756"/>
<rect y="563" width="1" height="4.4" fill="#eb7b58"/>
<rect y="567" width="1" height="6.4" fill="#d65c47"/>
<rect y="573" width="1" height="2.4" fill="#d65d47"/>
<rect y="575" width="1" height="2.4" fill="#d85f48"/>
<rect y="577" width="1" height="2.4" fill="#da634a"/>
<rect y="579" width="1" height="2.4" fill="#d75e48"/>
<rect y="581" width="1" height="6.4" fill="#d65d47"/>
<rect y="587" width="1" height="4.4" fill="#d75e47"/>
<rect y="591" width="1" height="6.4" fill="#db654c"/>
<rect y="597" width="1" height="4.4" fill="#da624a"/>
<rect y="601" width="1" height="3.4" fill="#db664d"/>
<rect y="604" width="1" height="6.4" fill="#d35945"/>
<rect y="610" width="1" height="6.4" fill="#dc664d"/>
<rect y="616" width="1" height="3.4" fill="#d25744"/>
<rect y="619" width="1" height="2.4" fill="#db654c"/>
<rect y="621" width="1" height="4.4" fill="#d55c46"/>
<rect y="625" width="1" height="4.4" fill="#d35945"/>
<rect y="629" width="1" height="2.4" fill="#d75f48"/>
<rect y="631" width="1" height="5.4" fill="#d55b46"/>
<rect y="636" width="1" height="4.4" fill="#d96149"/>
<rect y="640" width="1" height="4.4" fill="#d55c47"/>
<rect y="644" width="1" height="3.4" fill="#d75f48"/>
<rect y="647" width="1" height="6.4" fill="#d25844"/>
<rect y="653" width="1" height="4.4" fill="#d86048"/>
<rect y="657" width="1" height="6.4" fill="#d25845"/>
<rect y="663" width="1" height="5.4" fill="#db654c"/>
<rect y="668" width="1" height="2.4" fill="#dc674d"/>
<rect y="670" width="1" height="2.4" fill="#d65d47"/>
<rect y="672" width="1" height="3.4" fill="#d55b46"/>
<rect y="675" width="1" height="3.4" fill="#d55b46"/>
<rect y="678" width="1" height="3.4" fill="#f3b67a"/>
<rect y="681" width="1" height="4.4" fill="#f4cf8d"/>
<rect y="685" width="1" height="4.4" fill="#f4c786"/>
<rect y="689" width="1" height="5.4" fill="#f4c988"/>
<rect y="694" width="1" height="4.4" fill="#f4c283"/>
<rect y="698" width="1" height="3.4" fill="#f4c082"/>
<rect y="701" width="1" height="5.4" fill="#f4c384"/>
<rect y="706" width="1" height="6.4" fill="#f4c283"/>
<rect y="712" width="1" height="4.4" fill="#f4cc8a"/>
<rect y="716" width="1" height="3.4" fill="#f3b378"/>
<rect y="719" width="1" height="5.4" fill="#f3b67a"/>
<rect y="724" width="1" height="2.4" fill="#f4c786"/>
<rect y="726" width="1" height="3.4" fill="#f4c182"/>
<rect y="729" width="1" height="5.4" fill="#f4c787"/>
<rect y="734" width="1" height="4.4" fill="#f4cd8c"/>
<rect y="738" width="1" height="3.4" fill="#f4cf8d"/>
<rect y="741" width="1" height="2.4" fill="#f4ce8d"/>
<rect y="743" width="1" height="2.4" fill="#f4c182"/>
<rect y="745" width="1" height="4.4" fill="#f4c384"/>
<rect y="749" width="1" height="5.4" fill="#f19d69"/>
<rect y="754" width="1" height="6.4" fill="#f09866"/>
<rect y="760" width="1" height="5.4" fill="#f09b68"/>
<rect y="765" width="1" height="3.4" fill="#ee8960"/>
<rect y="768" width="1" height="3.4" fill="#ee815c"/>
<rect y="771" width="1" height="6.4" fill="#f19c68"/>
<rect y="777" width="1" height="3.4" fill="#ee845d"/>
<rect y="780" width="1" height="6.4" fill="#ed7f5b"/>
<rect y="786" width="1" height="3.4" fill="#ef8c61"/>
<rect y="789" width="1" height="2.4" fill="#f19c68"/>
<rect y="791" width="1" height="3.4" fill="#f09465"/>
<rect y="794" width="1" height="6.4" fill="#f09364"/>
<rect y="800" width="1" height="2.4" fill="#ee815c"/>
<rect y="802" width="1" height="5.4" fill="#eaedc8"/>
<rect y="807" width="1" height="2.4" fill="#edeec2"/>
<rect y="809" width="1" height="2.4" fill="#efeebd"/>
<rect y="811" width="1" height="6.4" fill="#f0ebb3"/>
<rect y="817" width="1" height="5.4" fill="#f0eab2"/>
<rect y="822" width="1" height="6.4" fill="#f0ecb8"/>
<rect y="828" width="1" height="2.4" fill="#f0eab1"/>
<rect y="830" width="1" height="4.4" fill="#efeebf"/>
<rect y="834" width="1" height="5.4" fill="#f0ebb6"/>
<rect y="839" width="1" height="3.4" fill="#e6ecce"/>
<rect y="842" width="1" height="4.4" fill="#eaedc8"/>
<rect y="846" width="1" height="5.4" fill="#e6ecce"/>
<rect y="851" width="1" height="5.4" fill="#edeec2"/>
<rect y="856" width="1" height="6.4" fill="#ebedc6"/>
<rect y="862" width="1" height="3.4" fill="#f4e6a2"/>
<rect y="865" width="1" height="4.4" fill="#f4e49e"/>
<rect y="869" width="1" height="3.4" fill="#f4e19c"/>
<rect y="872" width="1" height="4.4" fill="#f3eaad"/>
<rect y="876" width="1" height="6.4" fill="#f4dd98"/>
<rect y="882" width="1" height="3.4" fill="#f4e39e"/>
<rect y="885" width="1" height="3.4" fill="#f2d49b"/>
<rect y="888" width="1" height="4.4" fill="#f2d69d"/>
<rect y="892" width="1" height="4.4" fill="#f2dca1"/>
<rect y="896" width="1" height="2.4" fill="#f2d299"/>
<rect y="898" width="1" height="3.4" fill="#f2e2ac"/>
<rect y="901" width="1" height="3.4" fill="#f2d39a"/>
<rect y="904" width="1" height="6.4" fill="#f2dba1"/>
<rect y="910" width="1" height="3.4" fill="#f2dba1"/>
<rect y="913" width="1" height="3.4" fill="#f2dca2"/>
<rect y="916" width="1" height="6.4" fill="#f2d99f"/>
<rect y="922" width="1" height="3.4" fill="#f2d097"/>
<rect y="925" width="1" height="2.4" fill="#f2d299"/>
<rect y="927" width="1" height="2.4" fill="#f2cf96"/>
<rect y="929" width="1" height="6.4" fill="#f2d79e"/>
<rect y="935" width="1" height="3.4" fill="#eff1bb"/>
<rect y="938" width="1" height="3.4" fill="#eff2be"/>
<rect y="941" width="1" height="6.4" fill="#f0ebaa"/>
<rect y="947" width="1" height="3.4" fill="#ecf2c3"/>
<rect y="950" width="1" height="3.4" fill="#efeeb1"/>
<rect y="953" width="1" height="5.4" fill="#efeeb3"/>
<rect y="958" width="1" height="3.4" fill="#f0edaf"/>
<rect y="961" width="1" height="3.4" fill="#efeeb3"/>
<rect y="964" width="1" height="6.4" fill="#efeeb1"/>
<rect y="970" width="1" height="6.4" fill="#edf2c2"/>
<rect y="976" width="1" height="3.4" fill="#eff2bf"/>
<rect y="979" width="1" height="2.4" fill="#efeeb1"/>
<rect y="981" width="1" height="6.4" fill="#eff1bb"/>
<rect y="987" width="1" height="4.4" fill="#efefb4"/>
<rect y="991" width="1" height="5.4" fill="#f4d28f"/>
<rect y="996" width="1" height="2.4" fill="#f4cd8b"/>
<rect y="998" width="1" height="4.4" fill="#f4d08d"/>
<rect y="1002" width="1" height="3.4" fill="#f4e39e"/>
<rect y="1005" width="1" height="2.4" fill="#f4cf8c"/>
<rect y="1007" width="1" height="5.4" fill="#f4db97"/>
<rect y="1012" width="1" height="3.4" fill="#f4de99"/>
<rect y="1015" width="1" height="6.4" fill="#f4d894"/>
<rect y="1021" width="1" height="2.4" fill="#f4e29d"/>
<rect y="1023" width="1" height="3.4" fill="#f4e09b"/>
<rect y="1026" width="1" height="5.4" fill="#f4dc97"/>
<rect y="1031" width="1" height="6.4" fill="#f4cf8c"/>
<rect y="1037" width="1" height="6.4" fill="#f4d28f"/>
<rect y="1043" width="1" height="2.4" fill="#f4dd99"/>
<rect y="1045" width="1" height="3.4" fill="#f4e39e"/>
<rect y="1048" width="1" height="6.4" fill="#f4d591"/>
<rect y="1054" width="1" height="5.4" fill="#f4d995"/>
<rect y="1059" width="1" height="3.4" fill="#f4d38f"/>
<rect y="1062" width="1" height="3.4" fill="#f4dc98"/>
<rect y="1065" width="1" height="6.4" fill="#f4d894"/>
<rect y="1071" width="1" height="5.4" fill="#f4e39e"/>
<rect y="1076" width="1" height="6.4" fill="#f4d692"/>
<rect y="1082" width="1" height="5.4" fill="#f3ca8b"/>
<rect y="1087" width="1" height="3.4" fill="#f3cd8c"/>
<rect y="1090" width="1" height="2.4" fill="#f3d392"/>
<rect y="1092" width="1" height="2.4" fill="#f3d493"/>
<rect y="1094" width="1" height="5.4" fill="#f3dc9a"/>
<rect y="1099" width="1" height="6.4" fill="#f3dc9a"/>
<rect y="1105" width="1" height="4.4" fill="#f3de9c"/>
<rect y="1109" width="1" height="2.4" fill="#f3ca8a"/>
<rect y="1111" width="1" height="2.4" fill="#f3dc9a"/>
<rect y="1113" width="1" height="5.4" fill="#f3cd8c"/>
<rect y="1118" width="1" height="3.4" fill="#f3d695"/>
<rect y="1121" width="1" height="3.4" fill="#f3dc9a"/>
<rect y="1124" width="1" height="5.4" fill="#f3d593"/>
<rect y="1129" width="1" height="3.4" fill="#f3ce8d"/>
<rect y="1132" width="1" height="6.4" fill="#f3df9d"/>
<rect y="1138" width="1" height="2.4" fill="#f3d090"/>
<rect y="1140" width="1" height="2.4" fill="#f3d392"/>
<rect y="1142" width="1" height="6.4" fill="#f3cc8c"/>
<rect y="1148" width="1" height="3.4" fill="#f3dc9a"/>
<rect y="1151" width="1" height="4.4" fill="#f0895e"/>
<rect y="1155" width="1" height="6.4" fill="#f08a5e"/>
<rect y="1161" width="1" height="6.4" fill="#f0875d"/>
<rect y="1167" width="1" height="5.4" fill="#f19362"/>
<rect y="1172" width="1" height="3.4" fill="#f18f60"/>
<rect y="1175" width="1" height="5.4" fill="#ee9365"/>
<rect y="1180" width="1" height="4.4" fill="#ef9968"/>
<rect y="1184" width="1" height="2.4" fill="#ef9c69"/>
<rect y="1186" width="1" height="5.4" fill="#ed8b61"/>
<rect y="1191" width="1" height="4.4" fill="#ef9d69"/>
<rect y="1195" width="1" height="4.4" fill="#f0a36d"/>
<rect y="1199" width="1" height="6.4" fill="#ef9d69"/>
<rect y="1205" width="1" height="4.4" fill="#ed8c62"/>
<rect y="1209" width="1" height="6.4" fill="#f0a36d"/>
<rect y="1215" width="1" height="4.4" fill="#ef9767"/>
<rect y="1219" width="1" height="6.4" fill="#f0a36d"/>
<rect y="1225" width="1" height="6.4" fill="#ef9d69"/>
<rect y="1231" width="1" height="2.4" fill="#ef9c69"/>
<rect y="1233" width="1" height="2.4" fill="#ee8d62"/>
<rect y="1235" width="1" height="4.4" fill="#ee9566"/>
<rect y="1239" width="1" height="4.4" fill="#f0a26c"/>
<rect y="1243" width="1" height="2.4" fill="#ef9e6a"/>
<rect y="1245" width="1" height="5.4" fill="#ee8d62"/>
<rect y="1250" width="1" height="2.4" fill="#f3b57c"/>
<rect y="1252" width="1" height="5.4" fill="#f2a570"/>
<rect y="1257" width="1" height="6.4" fill="#f19a6a"/>
<rect y="1263" width="1" height="3.4" fill="#f3b77d"/>
<rect y="1266" width="1" height="5.4" fill="#f1a16e"/>
<rect y="1271" width="1" height="6.4" fill="#ee8d63"/>
<rect y="1277" width="1" height="2.4" fill="#ef9567"/>
<rect y="1279" width="1" height="6.4" fill="#ef9667"/>
<rect y="1285" width="1" height="4.4" fill="#f0a871"/>
<rect y="1289" width="1" height="4.4" fill="#ef9b6a"/>
<rect y="1293" width="1" height="2.4" fill="#f09f6b"/>
<rect y="1295" width="1" height="3.4" fill="#f0a26d"/>
<rect y="1298" width="1" height="4.4" fill="#f0a06c"/>
<rect y="1302" width="1" height="5.4" fill="#ef9a69"/>
<rect y="1307" width="1" height="6.4" fill="#f0a16c"/>
<rect y="1313" width="1" height="2.4" fill="#ee8b62"/>
<rect y="1315" width="1" height="3.4" fill="#f0a56f"/>
<rect y="1318" width="1" height="4.4" fill="#ef9567"/>
<rect y="1322" width="1" height="2.4" fill="#ee9165"/>
<rect y="1324" width="1" height="4.4" fill="#f0a670"/>
<rect y="1328" width="1" height="2.4" fill="#f0a771"/>
<rect y="1330" width="1" height="5.4" fill="#f0a06c"/>
<rect y="1335" width="1" height="6.4" fill="#f1a872"/>
<rect y="1341" width="1" height="3.4" fill="#f2b87d"/>
<rect y="1344" width="1" height="2.4" fill="#f1b077"/>
<rect y="1346" width="1" height="4.4" fill="#f2bb7f"/>
<rect y="1350" width="1" height="6.4" fill="#f0a36e"/>
<rect y="1356" width="1" height="5.4" fill="#f2b87d"/>
<rect y="1361" width="1" height="2.4" fill="#f09f6c"/>
<rect y="1363" width="1" height="4.4" fill="#f1ab74"/>
<rect y="1367" width="1" height="3.4" fill="#f2ba7e"/>
<rect y="1370" width="1" height="2.4" fill="#f1b47b"/>
<rect y="1372" width="1" height="6.4" fill="#f1ac74"/>
<rect y="1378" width="1" height="3.4" fill="#f0a670"/>
<rect y="1381" width="1" height="6.4" fill="#f0a26e"/>
<rect y="1387" width="1" height="6.4" fill="#f1ae76"/>
<rect y="1393" width="1" height="4.4" fill="#f1ad75"/>
<rect y="1397" width="1" height="2.4" fill="#f1aa73"/>
<rect y="1399" width="1" height="5.4" fill="#f1a972"/>
<rect y="1404" width="1" height="6.4" fill="#f2b57b"/>
<rect y="1410" width="1" height="3.4" fill="#f2bb7f"/>
<rect y="1413" width="1" height="2.4" fill="#f09f6c"/>
<rect y="1415" width="1" height="5.4" fill="#f09f6c"/>
<rect y="1420" width="1" height="3.4" fill="#f2ba7f"/>
<rect y="1423" width="1" height="2.4" fill="#f3c485"/>
<rect y="1425" width="1" height="2.4" fill="#f3d290"/>
<rect y="1427" width="1" height="3.4" fill="#f3c585"/>
<rect y="1430" width="1" height="6.4" fill="#f3ca89"/>
<rect y="1436" width="1" height="5.4" fill="#f3cc8b"/>
<rect y="1441" width="1" height="5.4" fill="#f3d18f"/>
<rect y="1446" width="1" height="4.4" fill="#f3ce8d"/>
<rect y="1450" width="1" height="2.4" fill="#f3ca89"/>
<rect y="1452" width="1" height="3.4" fill="#f3ca88"/>
<rect y="1455" width="1" height="5.4" fill="#f3cc8b"/>
<rect y="1460" width="1" height="6.4" fill="#f3cd8b"/>
<rect y="1466" width="1" height="5.4" fill="#f3cc8a"/>
<rect y="1471" width="1" height="5.4" fill="#f3c283"/>
<rect y="1476" width="1" height="2.4" fill="#f3d390"/>
<rect y="1478" width="1" height="6.4" fill="#f3d390"/>
<rect y="1484" width="1" height="5.4" fill="#f3d794"/>
<rect y="1489" width="1" height="6.4" fill="#f3cb8a"/>
<rect y="1495" width="1" height="2.4" fill="#f3d290"/>
<rect y="1497" width="1" height="3.4" fill="#f3d491"/>
<rect y="1500" width="1" height="5.4" fill="#f3da96"/>
<rect y="1505" width="1" height="6.4" fill="#f3d18e"/>
<rect y="1511" width="1" height="6.4" fill="#f3d996"/>
<rect y="1517" width="1" height="5.4" fill="#f3d18f"/>
<rect y="1522" width="1" height="6.4" fill="#f3d996"/>
<rect y="1528" width="1" height="5.4" fill="#f3d18f"/>
<rect y="1533" width="1" height="3.4" fill="#f3d794"/>
<rect y="1536" width="1" height="6.4" fill="#f3ca89"/>
<rect y="1542" width="1" height="5.4" fill="#f3d28f"/>
<rect y="1547" width="1" height="4.4" fill="#f3c988"/>
<rect y="1551" width="1" height="2.4" fill="#f3d18f"/>
<rect y="1553" width="1" height="2.4" fill="#f3d693"/>
<rect y="1555" width="1" height="5.4" fill="#f3d895"/>
<rect y="1560" width="1" height="3.4" fill="#f3cf8d"/>
<rect y="1563" width="1" height="3.4" fill="#f3d491"/>
<rect y="1566" width="1" height="4.4" fill="#f3d491"/>
<rect y="1570" width="1" height="3.4" fill="#f3cc8b"/>
<rect y="1573" width="1" height="5.4" fill="#f3c384"/>
<rect y="1578" width="1" height="2.4" fill="#f3cc8a"/>
<rect y="1580" width="1" height="2.4" fill="#f3c988"/>
<rect y="1582" width="1" height="6.4" fill="#f3d592"/>
<rect y="1588" width="1" height="4.4" fill="#f3cc8a"/>
<rect y="1592" width="1" height="4.4" fill="#f3cb8a"/>
<rect y="1596" width="1" height="2.4" fill="#f3d895"/>
<rect y="1598" width="1" height="2.4" fill="#efab72"/>
<rect y="1600" width="1" height="2.4" fill="#f0af74"/>
<rect y="1602" width="1" height="2.4" fill="#efa870"/>
<rect y="1604" width="1" height="4.4" fill="#f1c282"/>
<rect y="1608" width="1" height="6.4" fill="#f0af75"/>
<rect y="1614" width="1" height="2.4" fill="#f1c282"/>
<rect y="1616" width="1" height="3.4" fill="#f1bc7e"/>
<rect y="1619" width="1" height="6.4" fill="#f1bc7d"/>
<rect y="1625" width="1" height="4.4" fill="#f0ae74"/>
<rect y="1629" width="1" height="5.4" fill="#f0b276"/>
<rect y="1634" width="1" height="6.4" fill="#f1c382"/>
<rect y="1640" width="1" height="2.4" fill="#f1c282"/>
<rect y="1642" width="1" height="5.4" fill="#f1c282"/>
<rect y="1647" width="1" height="3.4" fill="#efa66e"/>
<rect y="1650" width="1" height="3.4" fill="#f2bc7e"/>
<rect y="1653" width="1" height="3.4" fill="#f2bf80"/>
<rect y="1656" width="1" height="5.4" fill="#f1af75"/>
<rect y="1661" width="1" height="3.4" fill="#f3bf80"/>
<rect y="1664" width="1" height="4.4" fill="#f3c080"/>
<rect y="1668" width="1" height="4.4" fill="#f1a870"/>
<rect y="1672" width="1" height="4.4" fill="#f2b67a"/>
<rect y="1676" width="1" height="3.4" fill="#f2bd7f"/>
<rect y="1679" width="1" height="2.4" fill="#f3c786"/>
<rect y="1681" width="1" height="5.4" fill="#f2ba7c"/>
<rect y="1686" width="1" height="6.4" fill="#f2b87b"/>
<rect y="1692" width="1" height="6.4" fill="#f1ac73"/>
<rect y="1698" width="1" height="5.4" fill="#f3c282"/>
<rect y="1703" width="1" height="4.4" fill="#efa26c"/>
<rect y="1707" width="1" height="4.4" fill="#f0ac73"/>
<rect y="1711" width="1" height="5.4" fill="#ee9867"/>
<rect y="1716" width="1" height="3.4" fill="#f0b076"/>
<rect y="1719" width="1" height="4.4" fill="#efa26d"/>
<rect y="1723" width="1" height="3.4" fill="#ee9667"/>
<rect y="1726" width="1" height="6.4" fill="#efa46e"/>
<rect y="1732" width="1" height="6.4" fill="#ee9968"/>
<rect y="1738" width="1" height="4.4" fill="#f0b177"/>
<rect y="1742" width="1" height="2.4" fill="#ee9b69"/>
<rect y="1744" width="1" height="2.4" fill="#efa26c"/>
<rect y="1746" width="1" height="2.4" fill="#ee9667"/>
<rect y="1748" width="1" height="2.4" fill="#ee9566"/>
<rect y="1750" width="1" height="4.4" fill="#ef9f6b"/>
<rect y="1754" width="1" height="2.4" fill="#efa770"/>
<rect y="1756" width="1" height="6.4" fill="#f2c184"/>
<rect y="1762" width="1" height="3.4" fill="#f3c285"/>
<rect y="1765" width="1" height="6.4" fill="#f3ca8b"/>
<rect y="1771" width="1" height="4.4" fill="#f3d292"/>
<rect y="1775" width="1" height="3.4" fill="#f2c184"/>
<rect y="1778" width="1" height="2.4" fill="#f3c184"/>
<rect y="1780" width="1" height="6.4" fill="#f3ce8e"/>
<rect y="1786" width="1" height="2.4" fill="#f3c486"/>
<rect y="1788" width="1" height="5.4" fill="#f0a46d"/>
<rect y="1793" width="1" height="6.4" fill="#f0a66e"/>
<rect y="1799" width="1" height="2.4" fill="#f2b87b"/>
<rect y="1801" width="1" height="3.4" fill="#f0a76f"/>
<rect y="1804" width="1" height="4.4" fill="#f2bd7e"/>
<rect y="1808" width="1" height="2.4" fill="#f0a26b"/>
<rect y="1810" width="1" height="4.4" fill="#f2bc7d"/>
<rect y="1814" width="1" height="3.4" fill="#f0a26b"/>
<rect y="1817" width="1" height="5.4" fill="#f0a56d"/>
<rect y="1822" width="1" height="2.4" fill="#f2b87a"/>
<rect y="1824" width="1" height="4.4" fill="#f0a26b"/>
<rect y="1828" width="1" height="2.4" fill="#f1ae74"/>
<rect y="1830" width="1" height="3.4" fill="#f1b579"/>
<rect y="1833" width="1" height="2.4" fill="#f0a26b"/>
<rect y="1835" width="1" height="2.4" fill="#f2b87a"/>
<rect y="1837" width="1" height="2.4" fill="#f0a36c"/>
<rect y="1839" width="1" height="4.4" fill="#f2be7f"/>
<rect y="1843" width="1" height="4.4" fill="#ec8d62"/>
<rect y="1847" width="1" height="3.4" fill="#ed9365"/>
<rect y="1850" width="1" height="4.4" fill="#ed9466"/>
<rect y="1854" width="1" height="4.4" fill="#eb8760"/>
<rect y="1858" width="1" height="2.4" fill="#ed9466"/>
<rect y="1860" width="1" height="6.4" fill="#f09668"/>
<rect y="1866" width="1" height="5.4" fill="#ef8d64"/>
<rect y="1871" width="1" height="3.4" fill="#f1a470"/>
<rect y="1874" width="1" height="5.4" fill="#f1a671"/>
<rect y="1879" width="1" height="3.4" fill="#f09d6b"/>
<rect y="1882" width="1" height="2.4" fill="#ef9266"/>
<rect y="1884" width="1" height="5.4" fill="#f1a671"/>
<rect y="1889" width="1" height="6.4" fill="#eb7e5d"/>
<rect y="1895" width="1" height="4.4" fill="#ed8c64"/>
<rect y="1899" width="1" height="4.4" fill="#ec815f"/>
<rect y="1903" width="1" height="4.4" fill="#eb7f5e"/>
<rect y="1907" width="1" height="5.4" fill="#ee9266"/>
<rect y="1912" width="1" height="6.4" fill="#e87658"/>
<rect y="1918" width="1" height="3.4" fill="#eb7e5d"/>
<rect y="1921" width="1" height="4.4" fill="#ec8661"/>
<rect y="1925" width="1" height="6.4" fill="#ed8b63"/>
<rect y="1931" width="1" height="2.4" fill="#ea7a5b"/>
<rect y="1933" width="1" height="3.4" fill="#f3bd7e"/>
<rect y="1936" width="1" height="2.4" fill="#f4cf8d"/>
<rect y="1938" width="1" height="4.4" fill="#f3c080"/>
<rect y="1942" width="1" height="4.4" fill="#f3be7f"/>
<rect y="1946" width="1" height="5.4" fill="#f4c282"/>
<rect y="1951" width="1" height="5.4" fill="#f3bd7e"/>
<rect y="1956" width="1" height="4.4" fill="#eb7e5d"/>
<rect y="1960" width="1" height="2.4" fill="#eb7d5c"/>
<rect y="1962" width="1" height="3.4" fill="#e0694e"/>
<rect y="1965" width="1" height="3.4" fill="#c9453a"/>
<rect y="1968" width="1" height="2.4" fill="#ce4c3e"/>
<rect y="1970" width="1" height="3.4" fill="#cb473b"/>
<rect y="1973" width="1" height="4.4" fill="#c9453a"/>
<rect y="1977" width="1" height="4.4" fill="#cd4a3d"/>
<rect y="1981" width="1" height="6.4" fill="#ca473b"/>
<rect y="1987" width="1" height="4.4" fill="#c9453a"/>
<rect y="1991" width="1" height="2.4" fill="#c9453a"/>
<rect y="1993" width="1" height="5.4" fill="#c9453a"/>
<rect y="1998" width="1" height="4.4" fill="#cd4b3d"/>
<rect y="2002" width="1" height="3.4" fill="#c9453a"/>
<rect y="2005" width="1" height="4.4" fill="#c9453a"/>
<rect y="2009" width="1" height="5.4" fill="#c9453a"/>
<rect y="2014" width="1" height="2.4" fill="#c9453a"/>
<rect y="2016" width="1" height="4.4" fill="#cb483b"/>
<rect y="2020" width="1" height="2.4" fill="#c9453a"/>
<rect y="2022" width="1" height="3.4" fill="#c9453a"/>
<rect y="2025" width="1" height="6.4" fill="#cd4b3d"/>
<rect y="2031" width="1" height="3.4" fill="#c9453a"/>
<rect y="2034" width="1" height="2.4" fill="#c9453a"/>
<rect y="2036" width="1" height="6.4" fill="#c9453a"/>
<rect y="2042" width="1" height="6.4" fill="#ca473b"/>
<rect y="2048" width="1" height="6.4" fill="#cc493c"/>
<rect y="2054" width="1" height="5.4" fill="#ca463b"/>
<rect y="2059" width="1" height="5.4" fill="#e87456"/>
<rect y="2064" width="1" height="4.4" fill="#e87456"/>
<rect y="2068" width="1" height="2.4" fill="#e97658"/>
<rect y="2070" width="1" height="3.4" fill="#ed8460"/>
<rect y="2073" width="1" height="2.4" fill="#ed8560"/>
<rect y="2075" width="1" height="2.4" fill="#da5947"/>
<rect y="2077" width="1" height="4.4" fill="#da5947"/>
<rect y="2081" width="1" height="4.4" fill="#d95846"/>
<rect y="2085" width="1" height="3.4" fill="#e0644d"/>
<rect y="2088" width="1" height="3.4" fill="#d95846"/>
<rect y="2091" width="1" height="3.4" fill="#df624c"/>
<rect y="2094" width="1" height="3.4" fill="#df614b"/>
<rect y="2097" width="1" height="2.4" fill="#db5a47"/>
<rect y="2099" width="1" height="3.4" fill="#df604b"/>
</g>
<g transform="translate(573.50,0) scale(149.15,1)">
<rect y="57" width="1" height="2.4" fill="#f5dc95"/>
<rect y="59" width="1" height="5.4" fill="#f5d58f"/>
<rect y="64" width="1" height="3.4" fill="#f5d48e"/>
<rect y="67" width="1" height="6.4" fill="#f5d08a"/>
<rect y="73" width="1" height="6.4" fill="#f5d892"/>
<rect y="79" width="1" height="4.4" fill="#f5d690"/>
<rect y="83" width="1" height="2.4" fill="#f5ca85"/>
<rect y="85" width="1" height="4.4" fill="#f3c685"/>
<rect y="89" width="1" height="2.4" fill="#f2c282"/>
<rect y="91" width="1" height="4.4" fill="#f2ba7d"/>
<rect y="95" width="1" height="3.4" fill="#f3d390"/>
<rect y="98" width="1" height="3.4" fill="#f3c383"/>
<rect y="101" width="1" height="4.4" fill="#f3d28f"/>
<rect y="105" width="1" height="5.4" fill="#f3c685"/>
<rect y="110" width="1" height="2.4" fill="#f3c383"/>
<rect y="112" width="1" height="4.4" fill="#f2bb7d"/>
<rect y="116" width="1" height="5.4" fill="#f3c785"/>
<rect y="121" width="1" height="3.4" fill="#f2c081"/>
<rect y="124" width="1" height="4.4" fill="#f2edb9"/>
<rect y="128" width="1" height="6.4" fill="#f3eab0"/>
<rect y="134" width="1" height="4.4" fill="#f3ebb3"/>
<rect y="138" width="1" height="3.4" fill="#f3e8aa"/>
<rect y="141" width="1" height="4.4" fill="#f4e6a3"/>
<rect y="145" width="1" height="4.4" fill="#f3eab1"/>
<rect y="149" width="1" height="6.4" fill="#f3ecb6"/>
<rect y="155" width="1" height="3.4" fill="#f3e9ad"/>
<rect y="158" width="1" height="5.4" fill="#f4e6a5"/>
<rect y="163" width="1" height="5.4" fill="#f2efbf"/>
<rect y="168" width="1" height="3.4" fill="#f4e5a1"/>
<rect y="171" width="1" height="3.4" fill="#f4e5a3"/>
<rect y="174" width="1" height="2.4" fill="#f4e5a1"/>
<rect y="176" width="1" height="6.4" fill="#f3eaaf"/>
<rect y="182" width="1" height="5.4" fill="#f3ecb6"/>
<rect y="187" width="1" height="6.4" fill="#f2edb9"/>
<rect y="193" width="1" height="6.4" fill="#f3ecb7"/>
<rect y="199" width="1" height="3.4" fill="#f4e5a0"/>
<rect y="202" width="1" height="6.4" fill="#f2db97"/>
<rect y="208" width="1" height="5.4" fill="#f2ce8b"/>
<rect y="213" width="1" height="6.4" fill="#f2d38f"/>
<rect y="219" width="1" height="4.4" fill="#f2de99"/>
<rect y="223" width="1" height="5.4" fill="#f2d08c"/>
<rect y="228" width="1" height="6.4" fill="#f2d18e"/>
<rect y="234" width="1" height="2.4" fill="#f2d591"/>
<rect y="236" width="1" height="4.4" fill="#f2cf8c"/>
<rect y="240" width="1" height="3.4" fill="#f2d591"/>
<rect y="243" width="1" height="2.4" fill="#f2e19c"/>
<rect y="245" width="1" height="5.4" fill="#f2d28f"/>
<rect y="250" width="1" height="3.4" fill="#f3d590"/>
<rect y="253" width="1" height="5.4" fill="#f3c785"/>
<rect y="258" width="1" height="3.4" fill="#f3dc97"/>
<rect y="261" width="1" height="6.4" fill="#f3c986"/>
<rect y="267" width="1" height="3.4" fill="#f3d38f"/>
<rect y="270" width="1" height="5.4" fill="#f3df99"/>
<rect y="275" width="1" height="2.4" fill="#f3cf8b"/>
<rect y="277" width="1" height="3.4" fill="#f3df99"/>
<rect y="280" width="1" height="4.4" fill="#f3ca87"/>
<rect y="284" width="1" height="6.4" fill="#f3d490"/>
<rect y="290" width="1" height="3.4" fill="#f3d490"/>
<rect y="293" width="1" height="5.4" fill="#f3d28e"/>
<rect y="298" width="1" height="6.4" fill="#f3d490"/>
<rect y="304" width="1" height="3.4" fill="#f3d38f"/>
<rect y="307" width="1" height="6.4" fill="#f3de99"/>
<rect y="313" width="1" height="6.4" fill="#f3db96"/>
<rect y="319" width="1" height="2.4" fill="#f3ce8a"/>
<rect y="321" width="1" height="3.4" fill="#f4e8ab"/>
<rect y="324" width="1" height="4.4" fill="#f4df9b"/>
<rect y="328" width="1" height="5.4" fill="#f4e8ac"/>
<rect y="333" width="1" height="6.4" fill="#f4e9ad"/>
<rect y="339" width="1" height="6.4" fill="#f3eab1"/>
<rect y="345" width="1" height="5.4" fill="#f3e9af"/>
<rect y="350" width="1" height="5.4" fill="#f4e5a1"/>
<rect y="355" width="1" height="3.4" fill="#f4dd9a"/>
<rect y="358" width="1" height="2.4" fill="#f4de9b"/>
<rect y="360" width="1" height="5.4" fill="#f4df9c"/>
<rect y="365" width="1" height="5.4" fill="#f4e09d"/>
<rect y="370" width="1" height="5.4" fill="#f4e6a6"/>
<rect y="375" width="1" height="6.4" fill="#f4dd9a"/>
<rect y="381" width="1" height="3.4" fill="#f3ebb3"/>
<rect y="384" width="1" height="6.4" fill="#f4e5a3"/>
<rect y="390" width="1" height="5.4" fill="#f4e39f"/>
<rect y="395" width="1" height="4.4" fill="#f3e9ae"/>
<rect y="399" width="1" height="3.4" fill="#f3eab0"/>
<rect y="402" width="1" height="4.4" fill="#f4e09d"/>
<rect y="406" width="1" height="2.4" fill="#f4e7a7"/>
<rect y="408" width="1" height="2.4" fill="#f3ebb4"/>
<rect y="410" width="1" height="6.4" fill="#f4e19e"/>
<rect y="416" width="1" height="4.4" fill="#f4e5a3"/>
<rect y="420" width="1" height="2.4" fill="#f4e5a1"/>
<rect y="422" width="1" height="5.4" fill="#f4e39f"/>
<rect y="427" width="1" height="5.4" fill="#f4e6a4"/>
<rect y="432" width="1" height="6.4" fill="#f4de9b"/>
<rect y="438" width="1" height="5.4" fill="#f4e6a6"/>
<rect y="443" width="1" height="5.4" fill="#f3eab1"/>
<rect y="448" width="1" height="2.4" fill="#f4e9ad"/>
<rect y="450" width="1" height="5.4" fill="#f3e8a4"/>
<rect y="455" width="1" height="4.4" fill="#f3e19b"/>
<rect y="459" width="1" height="3.4" fill="#f3e9a8"/>
<rect y="462" width="1" height="3.4" fill="#f2ebad"/>
<rect y="465" width="1" height="3.4" fill="#f2ecb0"/>
<rect y="468" width="1" height="3.4" fill="#f3e09a"/>
<rect y="471" width="1" height="2.4" fill="#f3e7a2"/>
<rect y="473" width="1" height="5.4" fill="#f3e29b"/>
<rect y="478" width="1" height="4.4" fill="#f3e9a6"/>
<rect y="482" width="1" height="4.4" fill="#f3e7a1"/>
<rect y="486" width="1" height="5.4" fill="#f3e8a4"/>
<rect y="491" width="1" height="5.4" fill="#f3e59e"/>
<rect y="496" width="1" height="4.4" fill="#f3eaa9"/>
<rect y="500" width="1" height="5.4" fill="#f3e59f"/>
<rect y="505" width="1" height="4.4" fill="#f3e29c"/>
<rect y="509" width="1" height="5.4" fill="#f3e29c"/>
<rect y="514" width="1" height="3.4" fill="#f3e8a3"/>
<rect y="517" width="1" height="6.4" fill="#f3e19b"/>
<rect y="523" width="1" height="4.4" fill="#f3e59f"/>
<rect y="527" width="1" height="5.4" fill="#f2edb2"/>
<rect y="532" width="1" height="6.4" fill="#f2edb2"/>
<rect y="538" width="1" height="4.4" fill="#f3eaab"/>
<rect y="542" width="1" height="4.4" fill="#f3e9a6"/>
<rect y="546" width="1" height="5.4" fill="#f3e69f"/>
<rect y="551" width="1" height="5.4" fill="#f2ecae"/>
<rect y="556" width="1" height="3.4" fill="#f3e29b"/>
<rect y="559" width="1" height="6.4" fill="#f3e39c"/>
<rect y="565" width="1" height="2.4" fill="#f2edb2"/>
<rect y="567" width="1" height="2.4" fill="#efedc1"/>
<rect y="569" width="1" height="6.4" fill="#efedc0"/>
<rect y="575" width="1" height="4.4" fill="#f0eab5"/>
<rect y="579" width="1" height="2.4" fill="#f0e9b3"/>
<rect y="581" width="1" height="4.4" fill="#f0ecbb"/>
<rect y="585" width="1" height="5.4" fill="#f1e8af"/>
<rect y="590" width="1" height="4.4" fill="#ededc4"/>
<rect y="594" width="1" height="4.4" fill="#f0eab5"/>
<rect y="598" width="1" height="5.4" fill="#f0edbd"/>
<rect y="603" width="1" height="3.4" fill="#f1e6a8"/>
<rect y="606" width="1" height="4.4" fill="#f0ecbb"/>
<rect y="610" width="1" height="6.4" fill="#eeedc2"/>
<rect y="616" width="1" height="3.4" fill="#f1e8af"/>
<rect y="619" width="1" height="6.4" fill="#f0e9b2"/>
<rect y="625" width="1" height="3.4" fill="#f0edbf"/>
<rect y="628" width="1" height="2.4" fill="#f1e7ab"/>
<rect y="630" width="1" height="2.4" fill="#dfebdf"/>
<rect y="632" width="1" height="2.4" fill="#dfebdf"/>
<rect y="634" width="1" height="3.4" fill="#eaedcb"/>
<rect y="637" width="1" height="3.4" fill="#e0ebdd"/>
<rect y="640" width="1" height="3.4" fill="#e6ecd3"/>
<rect y="643" width="1" height="4.4" fill="#e3ecd7"/>
<rect y="647" width="1" height="6.4" fill="#dce9e0"/>
<rect y="653" width="1" height="3.4" fill="#e9edcd"/>
<rect y="656" width="1" height="3.4" fill="#dce9e0"/>
<rect y="659" width="1" height="3.4" fill="#dce9e0"/>
<rect y="662" width="1" height="3.4" fill="#eaedcb"/>
<rect y="665" width="1" height="6.4" fill="#e4ecd7"/>
<rect y="671" width="1" height="5.4" fill="#eaedcc"/>
<rect y="676" width="1" height="2.4" fill="#e2ecd9"/>
<rect y="678" width="1" height="4.4" fill="#f4ebac"/>
<rect y="682" width="1" height="2.4" fill="#f4e8a4"/>
<rect y="684" width="1" height="3.4" fill="#f5e7a0"/>
<rect y="687" width="1" height="5.4" fill="#f4ebac"/>
<rect y="692" width="1" height="2.4" fill="#f3efb7"/>
<rect y="694" width="1" height="2.4" fill="#f5e59e"/>
<rect y="696" width="1" height="5.4" fill="#f4ebab"/>
<rect y="701" width="1" height="3.4" fill="#f5e7a0"/>
<rect y="704" width="1" height="3.4" fill="#f4e8a2"/>
<rect y="707" width="1" height="4.4" fill="#f3efb8"/>
<rect y="711" width="1" height="5.4" fill="#f4eaa8"/>
<rect y="716" width="1" height="6.4" fill="#f4eaa8"/>
<rect y="722" width="1" height="3.4" fill="#f4ecb0"/>
<rect y="725" width="1" height="3.4" fill="#f4ecaf"/>
<rect y="728" width="1" height="2.4" fill="#f4ecb0"/>
<rect y="730" width="1" height="4.4" fill="#f5e39c"/>
<rect y="734" width="1" height="6.4" fill="#f5e69f"/>
<rect y="740" width="1" height="2.4" fill="#f3edb3"/>
<rect y="742" width="1" height="2.4" fill="#f3eeb5"/>
<rect y="744" width="1" height="4.4" fill="#f5e49e"/>
<rect y="748" width="1" height="6.4" fill="#f4eaaa"/>
<rect y="754" width="1" height="5.4" fill="#f4ecae"/>
<rect y="759" width="1" height="3.4" fill="#f4e9a7"/>
<rect y="762" width="1" height="4.4" fill="#f3efb7"/>
<rect y="766" width="1" height="5.4" fill="#f4e9a6"/>
<rect y="771" width="1" height="4.4" fill="#f3efb8"/>
<rect y="775" width="1" height="3.4" fill="#f5e69f"/>
<rect y="778" width="1" height="3.4" fill="#f5e7a1"/>
<rect y="781" width="1" height="3.4" fill="#f5e7a1"/>
<rect y="784" width="1" height="5.4" fill="#e5eccf"/>
<rect y="789" width="1" height="6.4" fill="#e5ecce"/>
<rect y="795" width="1" height="2.4" fill="#ebeec4"/>
<rect y="797" width="1" height="5.4" fill="#eceec2"/>
<rect y="802" width="1" height="5.4" fill="#f2d098"/>
<rect y="807" width="1" height="2.4" fill="#f2c68f"/>
<rect y="809" width="1" height="3.4" fill="#f0a06b"/>
<rect y="812" width="1" height="4.4" fill="#f0a76f"/>
<rect y="816" width="1" height="4.4" fill="#ef9d69"/>
<rect y="820" width="1" height="2.4" fill="#ef9a68"/>
<rect y="822" width="1" height="3.4" fill="#f0a06b"/>
<rect y="825" width="1" height="6.4" fill="#ef9666"/>
<rect y="831" width="1" height="2.4" fill="#ee9566"/>
<rect y="833" width="1" height="3.4" fill="#ef9e6a"/>
<rect y="836" width="1" height="2.4" fill="#ef9867"/>
<rect y="838" width="1" height="3.4" fill="#f0a46d"/>
<rect y="841" width="1" height="4.4" fill="#ee8e63"/>
<rect y="845" width="1" height="5.4" fill="#ed8b61"/>
<rect y="850" width="1" height="2.4" fill="#ef9164"/>
<rect y="852" width="1" height="6.4" fill="#ef9063"/>
<rect y="858" width="1" height="5.4" fill="#ef9365"/>
<rect y="863" width="1" height="6.4" fill="#ee855e"/>
<rect y="869" width="1" height="6.4" fill="#f09d69"/>
<rect y="875" width="1" height="5.4" fill="#f09766"/>
<rect y="880" width="1" height="5.4" fill="#f1a06a"/>
<rect y="885" width="1" height="3.4" fill="#f2ca89"/>
<rect y="888" width="1" height="6.4" fill="#f1ba7d"/>
<rect y="894" width="1" height="4.4" fill="#f1bc7f"/>
<rect y="898" width="1" height="2.4" fill="#f0b57a"/>
<rect y="900" width="1" height="3.4" fill="#f2c988"/>
<rect y="903" width="1" height="4.4" fill="#ee9968"/>
<rect y="907" width="1" height="4.4" fill="#ee9968"/>
<rect y="911" width="1" height="3.4" fill="#ee9968"/>
<rect y="914" width="1" height="6.4" fill="#ee9868"/>
<rect y="920" width="1" height="6.4" fill="#efa36e"/>
<rect y="926" width="1" height="3.4" fill="#ee9868"/>
<rect y="929" width="1" height="5.4" fill="#efa871"/>
<rect y="934" width="1" height="6.4" fill="#efa36d"/>
<rect y="940" width="1" height="4.4" fill="#efa26d"/>
<rect y="944" width="1" height="2.4" fill="#efaa73"/>
<rect y="946" width="1" height="2.4" fill="#ee9e6b"/>
<rect y="948" width="1" height="6.4" fill="#efa46f"/>
<rect y="954" width="1" height="3.4" fill="#ee9e6b"/>
<rect y="957" width="1" height="4.4" fill="#f0ae75"/>
<rect y="961" width="1" height="5.4" fill="#efa36e"/>
<rect y="966" width="1" height="2.4" fill="#ee9e6b"/>
<rect y="968" width="1" height="3.4" fill="#f0ad74"/>
<rect y="971" width="1" height="5.4" fill="#efa46e"/>
<rect y="976" width="1" height="6.4" fill="#efa871"/>
<rect y="982" width="1" height="4.4" fill="#efa56f"/>
<rect y="986" width="1" height="5.4" fill="#f0ad75"/>
<rect y="991" width="1" height="5.4" fill="#f2db97"/>
<rect y="996" width="1" height="6.4" fill="#f2d18f"/>
<rect y="1002" width="1" height="5.4" fill="#f2d592"/>
<rect y="1007" width="1" height="3.4" fill="#f2ca89"/>
<rect y="1010" width="1" height="2.4" fill="#f2db97"/>
<rect y="1012" width="1" height="4.4" fill="#f2da97"/>
<rect y="1016" width="1" height="2.4" fill="#f0c587"/>
<rect y="1018" width="1" height="4.4" fill="#f0c688"/>
<rect y="1022" width="1" height="5.4" fill="#f0c486"/>
<rect y="1027" width="1" height="6.4" fill="#f2d494"/>
<rect y="1033" width="1" height="3.4" fill="#f1c084"/>
<rect y="1036" width="1" height="3.4" fill="#f2d796"/>
<rect y="1039" width="1" height="2.4" fill="#f2ca8b"/>
<rect y="1041" width="1" height="6.4" fill="#f2d595"/>
<rect y="1047" width="1" height="6.4" fill="#f2c889"/>
<rect y="1053" width="1" height="2.4" fill="#f2cc8d"/>
<rect y="1055" width="1" height="4.4" fill="#f2ce8f"/>
<rect y="1059" width="1" height="2.4" fill="#f2d292"/>
<rect y="1061" width="1" height="4.4" fill="#f1bd81"/>
<rect y="1065" width="1" height="4.4" fill="#f2d091"/>
<rect y="1069" width="1" height="6.4" fill="#f2d090"/>
<rect y="1075" width="1" height="3.4" fill="#f2c98a"/>
<rect y="1078" width="1" height="2.4" fill="#ef9a69"/>
<rect y="1080" width="1" height="6.4" fill="#ee9868"/>
<rect y="1086" width="1" height="6.4" fill="#efa16d"/>
<rect y="1092" width="1" height="5.4" fill="#ed8760"/>
<rect y="1097" width="1" height="5.4" fill="#ee9566"/>
<rect y="1102" width="1" height="6.4" fill="#efa06b"/>
<rect y="1108" width="1" height="2.4" fill="#ed8a62"/>
<rect y="1110" width="1" height="2.4" fill="#ee9868"/>
<rect y="1112" width="1" height="2.4" fill="#ed8861"/>
<rect y="1114" width="1" height="6.4" fill="#ed8e63"/>
<rect y="1120" width="1" height="3.4" fill="#ed8961"/>
<rect y="1123" width="1" height="3.4" fill="#ed8b62"/>
<rect y="1126" width="1" height="3.4" fill="#ed8760"/>
<rect y="1129" width="1" height="4.4" fill="#efa16c"/>
<rect y="1133" width="1" height="6.4" fill="#ee9265"/>
<rect y="1139" width="1" height="6.4" fill="#ed8861"/>
<rect y="1145" width="1" height="6.4" fill="#ef9e6a"/>
<rect y="1151" width="1" height="2.4" fill="#f2d18e"/>
<rect y="1153" width="1" height="4.4" fill="#f1bb7d"/>
<rect y="1157" width="1" height="2.4" fill="#f2c786"/>
<rect y="1159" width="1" height="4.4" fill="#f2d18e"/>
<rect y="1163" width="1" height="5.4" fill="#f2c786"/>
<rect y="1168" width="1" height="2.4" fill="#f1bf80"/>
<rect y="1170" width="1" height="2.4" fill="#f2d390"/>
<rect y="1172" width="1" height="5.4" fill="#f2d491"/>
<rect y="1177" width="1" height="5.4" fill="#f2c484"/>
<rect y="1182" width="1" height="4.4" fill="#f2c987"/>
<rect y="1186" width="1" height="3.4" fill="#f2d591"/>
<rect y="1189" width="1" height="3.4" fill="#f1c181"/>
<rect y="1192" width="1" height="2.4" fill="#f2c584"/>
<rect y="1194" width="1" height="5.4" fill="#f2c383"/>
<rect y="1199" width="1" height="3.4" fill="#f1c081"/>
<rect y="1202" width="1" height="3.4" fill="#f2ce8b"/>
<rect y="1205" width="1" height="6.4" fill="#f2c584"/>
<rect y="1211" width="1" height="5.4" fill="#f2cd8b"/>
<rect y="1216" width="1" height="6.4" fill="#f1ba7c"/>
<rect y="1222" width="1" height="4.4" fill="#f1c282"/>
<rect y="1226" width="1" height="4.4" fill="#f2d591"/>
<rect y="1230" width="1" height="3.4" fill="#f2d08d"/>
<rect y="1233" width="1" height="5.4" fill="#f2cd8a"/>
<rect y="1238" width="1" height="5.4" fill="#f2c886"/>
<rect y="1243" width="1" height="2.4" fill="#f1be7f"/>
<rect y="1245" width="1" height="5.4" fill="#f2cc8a"/>
<rect y="1250" width="1" height="4.4" fill="#f3d592"/>
<rect y="1254" width="1" height="5.4" fill="#f3c988"/>
<rect y="1259" width="1" height="4.4" fill="#f3c685"/>
<rect y="1263" width="1" height="3.4" fill="#f3d08e"/>
<rect y="1266" width="1" height="2.4" fill="#f3c887"/>
<rect y="1268" width="1" height="4.4" fill="#f3d592"/>
<rect y="1272" width="1" height="6.4" fill="#f3d391"/>
<rect y="1278" width="1" height="6.4" fill="#f3ce8d"/>
<rect y="1284" width="1" height="6.4" fill="#f3db98"/>
<rect y="1290" width="1" height="2.4" fill="#f3d391"/>
<rect y="1292" width="1" height="3.4" fill="#f3ce8c"/>
<rect y="1295" width="1" height="2.4" fill="#f3cb8a"/>
<rect y="1297" width="1" height="6.4" fill="#f3ce8d"/>
<rect y="1303" width="1" height="2.4" fill="#f3c988"/>
<rect y="1305" width="1" height="4.4" fill="#f3cf8e"/>
<rect y="1309" width="1" height="5.4" fill="#f3ca89"/>
<rect y="1314" width="1" height="3.4" fill="#f3cc8a"/>
<rect y="1317" width="1" height="3.4" fill="#f1b578"/>
<rect y="1320" width="1" height="6.4" fill="#f2bc7d"/>
<rect y="1326" width="1" height="2.4" fill="#f1b578"/>
<rect y="1328" width="1" height="2.4" fill="#f2bb7d"/>
<rect y="1330" width="1" height="5.4" fill="#f0ac72"/>
<rect y="1335" width="1" height="2.4" fill="#f0ac72"/>
<rect y="1337" width="1" height="2.4" fill="#f1b075"/>
<rect y="1339" width="1" height="5.4" fill="#f0a46d"/>
<rect y="1344" width="1" height="6.4" fill="#f2ba7c"/>
<rect y="1350" width="1" height="6.4" fill="#f2c281"/>
<rect y="1356" width="1" height="5.4" fill="#f2bc7e"/>
<rect y="1361" width="1" height="3.4" fill="#f1b377"/>
<rect y="1364" width="1" height="5.4" fill="#f2bc7e"/>
<rect y="1369" width="1" height="5.4" fill="#f1b679"/>
<rect y="1374" width="1" height="3.4" fill="#f1b87b"/>
<rect y="1377" width="1" height="5.4" fill="#f0a66e"/>
<rect y="1382" width="1" height="6.4" fill="#f0a56d"/>
<rect y="1388" width="1" height="3.4" fill="#f0a66e"/>
<rect y="1391" width="1" height="2.4" fill="#ee9b69"/>
<rect y="1393" width="1" height="4.4" fill="#ed9265"/>
<rect y="1397" width="1" height="6.4" fill="#ee9768"/>
<rect y="1403" width="1" height="4.4" fill="#efa36d"/>
<rect y="1407" width="1" height="3.4" fill="#efa46e"/>
<rect y="1410" width="1" height="4.4" fill="#efa46e"/>
<rect y="1414" width="1" height="3.4" fill="#ed9366"/>
<rect y="1417" width="1" height="3.4" fill="#efa770"/>
<rect y="1420" width="1" height="3.4" fill="#ed9265"/>
<rect y="1423" width="1" height="4.4" fill="#f1b579"/>
<rect y="1427" width="1" height="4.4" fill="#f0b277"/>
<rect y="1431" width="1" height="6.4" fill="#ef9c68"/>
<rect y="1437" width="1" height="5.4" fill="#efa36d"/>
<rect y="1442" width="1" height="3.4" fill="#efa06a"/>
<rect y="1445" width="1" height="3.4" fill="#f1b67a"/>
<rect y="1448" width="1" height="2.4" fill="#efa46d"/>
<rect y="1450" width="1" height="3.4" fill="#ef9d69"/>
<rect y="1453" width="1" height="6.4" fill="#f1b67a"/>
<rect y="1459" width="1" height="6.4" fill="#ef9b68"/>
<rect y="1465" width="1" height="5.4" fill="#f1b579"/>
<rect y="1470" width="1" height="3.4" fill="#ef9d6a"/>
<rect y="1473" width="1" height="5.4" fill="#ef9f6a"/>
<rect y="1478" width="1" height="2.4" fill="#f0ae74"/>
<rect y="1480" width="1" height="4.4" fill="#f1b076"/>
<rect y="1484" width="1" height="4.4" fill="#f0a870"/>
<rect y="1488" width="1" height="5.4" fill="#f0a36c"/>
<rect y="1493" width="1" height="2.4" fill="#ef9b68"/>
<rect y="1495" width="1" height="3.4" fill="#ef9c69"/>
<rect y="1498" width="1" height="5.4" fill="#f1af75"/>
<rect y="1503" width="1" height="4.4" fill="#f0a76f"/>
<rect y="1507" width="1" height="6.4" fill="#f2d190"/>
<rect y="1513" width="1" height="5.4" fill="#f2c485"/>
<rect y="1518" width="1" height="2.4" fill="#f1bc7f"/>
<rect y="1520" width="1" height="3.4" fill="#f2c082"/>
<rect y="1523" width="1" height="6.4" fill="#f2c988"/>
<rect y="1529" width="1" height="4.4" fill="#f1bf81"/>
<rect y="1533" width="1" height="4.4" fill="#f1bf81"/>
<rect y="1537" width="1" height="2.4" fill="#f1b77c"/>
<rect y="1539" width="1" height="2.4" fill="#f2ca89"/>
<rect y="1541" width="1" height="5.4" fill="#f1b87c"/>
<rect y="1546" width="1" height="2.4" fill="#f2c082"/>
<rect y="1548" width="1" height="4.4" fill="#f1ba7e"/>
<rect y="1552" width="1" height="2.4" fill="#f1bc7f"/>
<rect y="1554" width="1" height="3.4" fill="#f2ca89"/>
<rect y="1557" width="1" height="3.4" fill="#f2c989"/>
<rect y="1560" width="1" height="2.4" fill="#f2c485"/>
<rect y="1562" width="1" height="2.4" fill="#f2c887"/>
<rect y="1564" width="1" height="5.4" fill="#f1bc7f"/>
<rect y="1569" width="1" height="6.4" fill="#f2d18f"/>
<rect y="1575" width="1" height="2.4" fill="#f1bd80"/>
<rect y="1577" width="1" height="2.4" fill="#f1b77b"/>
<rect y="1579" width="1" height="3.4" fill="#f2c082"/>
<rect y="1582" width="1" height="6.4" fill="#f1b97d"/>
<rect y="1588" width="1" height="6.4" fill="#f1bf81"/>
<rect y="1594" width="1" height="5.4" fill="#f1b77b"/>
<rect y="1599" width="1" height="3.4" fill="#f2c183"/>
<rect y="1602" width="1" height="6.4" fill="#efa770"/>
<rect y="1608" width="1" height="5.4" fill="#efac73"/>
<rect y="1613" width="1" height="3.4" fill="#efaa71"/>
<rect y="1616" width="1" height="2.4" fill="#f1bc7f"/>
<rect y="1618" width="1" height="5.4" fill="#f2c887"/>
<rect y="1623" width="1" height="3.4" fill="#f2d08e"/>
<rect y="1626" width="1" height="3.4" fill="#f2c787"/>
<rect y="1629" width="1" height="6.4" fill="#f1b87c"/>
<rect y="1635" width="1" height="4.4" fill="#f1bb7e"/>
<rect y="1639" width="1" height="4.4" fill="#f2c384"/>
<rect y="1643" width="1" height="5.4" fill="#f2cc8b"/>
<rect y="1648" width="1" height="2.4" fill="#f2c585"/>
<rect y="1650" width="1" height="6.4" fill="#f1c584"/>
<rect y="1656" width="1" height="2.4" fill="#f1c282"/>
<rect y="1658" width="1" height="2.4" fill="#efae74"/>
<rect y="1660" width="1" height="5.4" fill="#f0ba7d"/>
<rect y="1665" width="1" height="6.4" fill="#efb277"/>
<rect y="1671" width="1" height="2.4" fill="#f3cc8a"/>
<rect y="1673" width="1" height="4.4" fill="#f3d894"/>
<rect y="1677" width="1" height="4.4" fill="#f3dd99"/>
<rect y="1681" width="1" height="2.4" fill="#f3dd99"/>
<rect y="1683" width="1" height="4.4" fill="#f3cc8a"/>
<rect y="1687" width="1" height="6.4" fill="#f3d995"/>
<rect y="1693" width="1" height="3.4" fill="#f3cd8a"/>
<rect y="1696" width="1" height="3.4" fill="#f3d390"/>
<rect y="1699" width="1" height="2.4" fill="#f3d793"/>
<rect y="1701" width="1" height="5.4" fill="#f3dc98"/>
<rect y="1706" width="1" height="2.4" fill="#f3cb89"/>
<rect y="1708" width="1" height="2.4" fill="#f3db97"/>
<rect y="1710" width="1" height="2.4" fill="#f3d894"/>
<rect y="1712" width="1" height="5.4" fill="#f3d28f"/>
<rect y="1717" width="1" height="3.4" fill="#f3dd99"/>
<rect y="1720" width="1" height="3.4" fill="#f3d591"/>
<rect y="1723" width="1" height="2.4" fill="#f3de9a"/>
<rect y="1725" width="1" height="5.4" fill="#f3dc98"/>
<rect y="1730" width="1" height="2.4" fill="#f3ca88"/>
<rect y="1732" width="1" height="6.4" fill="#f3d28f"/>
<rect y="1738" width="1" height="6.4" fill="#f3d793"/>
<rect y="1744" width="1" height="5.4" fill="#f3da97"/>
<rect y="1749" width="1" height="6.4" fill="#f3cd8b"/>
<rect y="1755" width="1" height="5.4" fill="#f3cd8b"/>
<rect y="1760" width="1" height="5.4" fill="#f3d08d"/>
<rect y="1765" width="1" height="6.4" fill="#f3cd8a"/>
<rect y="1771" width="1" height="6.4" fill="#f3dc98"/>
<rect y="1777" width="1" height="3.4" fill="#f3d794"/>
<rect y="1780" width="1" height="6.4" fill="#f3d693"/>
<rect y="1786" width="1" height="4.4" fill="#f3c987"/>
<rect y="1790" width="1" height="5.4" fill="#f3dc98"/>
<rect y="1795" width="1" height="5.4" fill="#f3c987"/>
<rect y="1800" width="1" height="5.4" fill="#f3dc98"/>
<rect y="1805" width="1" height="3.4" fill="#f3d28f"/>
<rect y="1808" width="1" height="6.4" fill="#f3c987"/>
<rect y="1814" width="1" height="4.4" fill="#f3d794"/>
<rect y="1818" width="1" height="4.4" fill="#f3db97"/>
<rect y="1822" width="1" height="6.4" fill="#f3d996"/>
<rect y="1828" width="1" height="4.4" fill="#f3ca88"/>
<rect y="1832" width="1" height="3.4" fill="#f3d18f"/>
<rect y="1835" width="1" height="4.4" fill="#f3d895"/>
<rect y="1839" width="1" height="4.4" fill="#f3d390"/>
<rect y="1843" width="1" height="5.4" fill="#ed9165"/>
<rect y="1848" width="1" height="6.4" fill="#ee9869"/>
<rect y="1854" width="1" height="4.4" fill="#ee9869"/>
<rect y="1858" width="1" height="2.4" fill="#ee9366"/>
<rect y="1860" width="1" height="6.4" fill="#f0a16a"/>
<rect y="1866" width="1" height="3.4" fill="#ee9565"/>
<rect y="1869" width="1" height="2.4" fill="#ee9263"/>
<rect y="1871" width="1" height="4.4" fill="#ef9967"/>
<rect y="1875" width="1" height="5.4" fill="#f0a76f"/>
<rect y="1880" width="1" height="5.4" fill="#f0a16a"/>
<rect y="1885" width="1" height="2.4" fill="#ef9e69"/>
<rect y="1887" width="1" height="2.4" fill="#ee8f62"/>
<rect y="1889" width="1" height="2.4" fill="#f1b57a"/>
<rect y="1891" width="1" height="4.4" fill="#f1b57a"/>
<rect y="1895" width="1" height="4.4" fill="#f1b97d"/>
<rect y="1899" width="1" height="5.4" fill="#f2c787"/>
<rect y="1904" width="1" height="4.4" fill="#f1b479"/>
<rect y="1908" width="1" height="4.4" fill="#f1bb7e"/>
<rect y="1912" width="1" height="3.4" fill="#f2be81"/>
<rect y="1915" width="1" height="2.4" fill="#f1b47a"/>
<rect y="1917" width="1" height="6.4" fill="#f1ba7d"/>
<rect y="1923" width="1" height="3.4" fill="#f2d08e"/>
<rect y="1926" width="1" height="3.4" fill="#f1b67b"/>
<rect y="1929" width="1" height="2.4" fill="#f1b97d"/>
<rect y="1931" width="1" height="2.4" fill="#f2c283"/>
<rect y="1933" width="1" height="6.4" fill="#e8795a"/>
<rect y="1939" width="1" height="2.4" fill="#eb825f"/>
<rect y="1941" width="1" height="3.4" fill="#eb815f"/>
<rect y="1944" width="1" height="4.4" fill="#ea7d5d"/>
<rect y="1948" width="1" height="5.4" fill="#e47054"/>
<rect y="1953" width="1" height="3.4" fill="#e97b5c"/>
<rect y="1956" width="1" height="5.4" fill="#f2b17a"/>
<rect y="1961" width="1" height="4.4" fill="#f2b27a"/>
<rect y="1965" width="1" height="5.4" fill="#edf1cd"/>
<rect y="1970" width="1" height="2.4" fill="#f1f1c6"/>
<rect y="1972" width="1" height="5.4" fill="#eff1c9"/>
<rect y="1977" width="1" height="5.4" fill="#eff1c8"/>
<rect y="1982" width="1" height="6.4" fill="#eaf0d2"/>
<rect y="1988" width="1" height="6.4" fill="#e6efd8"/>
<rect y="1994" width="1" height="4.4" fill="#eff1c9"/>
<rect y="1998" width="1" height="5.4" fill="#d4e4e4"/>
<rect y="2003" width="1" height="4.4" fill="#cfe1e5"/>
<rect y="2007" width="1" height="5.4" fill="#d1e2e5"/>
<rect y="2012" width="1" height="6.4" fill="#dceae4"/>
<rect y="2018" width="1" height="3.4" fill="#dceae4"/>
<rect y="2021" width="1" height="3.4" fill="#d2e3e5"/>
<rect y="2024" width="1" height="6.4" fill="#eef1c4"/>
<rect y="2030" width="1" height="2.4" fill="#e4efd6"/>
<rect y="2032" width="1" height="2.4" fill="#eef1c5"/>
<rect y="2034" width="1" height="5.4" fill="#eff1c2"/>
<rect y="2039" width="1" height="2.4" fill="#eef1c5"/>
<rect y="2041" width="1" height="2.4" fill="#bad1db"/>
<rect y="2043" width="1" height="5.4" fill="#bcd2db"/>
<rect y="2048" width="1" height="3.4" fill="#bcd2db"/>
<rect y="2051" width="1" height="2.4" fill="#bad0da"/>
<rect y="2053" width="1" height="2.4" fill="#b1c9d5"/>
<rect y="2055" width="1" height="4.4" fill="#a7c1cf"/>
<rect y="2059" width="1" height="2.4" fill="#adc2d1"/>
<rect y="2061" width="1" height="6.4" fill="#a7bdce"/>
<rect y="2067" width="1" height="3.4" fill="#aac0d0"/>
<rect y="2070" width="1" height="5.4" fill="#b2c6d4"/>
<rect y="2075" width="1" height="4.4" fill="#9bb1c6"/>
<rect y="2079" width="1" height="5.4" fill="#acc1d1"/>
<rect y="2084" width="1" height="3.4" fill="#9cb3c7"/>
<rect y="2087" width="1" height="5.4" fill="#a4bacc"/>
<rect y="2092" width="1" height="5.4" fill="#a8bece"/>
<rect y="2097" width="1" height="5.4" fill="#a3bacb"/>
</g>
<g transform="translate(722.25,0) scale(149.15,1)">
<rect y="57" width="1" height="3.4" fill="#edefc5"/>
<rect y="60" width="1" height="2.4" fill="#ebefca"/>
<rect y="62" width="1" height="4.4" fill="#e1ecdc"/>
<rect y="66" width="1" height="2.4" fill="#e6eed3"/>
<rect y="68" width="1" height="4.4" fill="#e7eed1"/>
<rect y="72" width="1" height="3.4" fill="#eeefc5"/>
<rect y="75" width="1" height="2.4" fill="#e8eed0"/>
<rect y="77" width="1" height="5.4" fill="#e1ecdc"/>
<rect y="82" width="1" height="3.4" fill="#eaeecb"/>
<rect y="85" width="1" height="6.4" fill="#e2eddb"/>
<rect y="91" width="1" height="3.4" fill="#e4edd7"/>
<rect y="94" width="1" height="4.4" fill="#edefc6"/>
<rect y="98" width="1" height="3.4" fill="#e6edd3"/>
<rect y="101" width="1" height="5.4" fill="#e8eecf"/>
<rect y="106" width="1" height="2.4" fill="#e7eed0"/>
<rect y="108" width="1" height="2.4" fill="#eaeecb"/>
<rect y="110" width="1" height="3.4" fill="#edefc7"/>
<rect y="113" width="1" height="4.4" fill="#e9eecd"/>
<rect y="117" width="1" height="6.4" fill="#c3dae2"/>
<rect y="123" width="1" height="6.4" fill="#b1cbd7"/>
<rect y="129" width="1" height="5.4" fill="#b0cad6"/>
<rect y="134" width="1" height="2.4" fill="#b9d2dc"/>
<rect y="136" width="1" height="2.4" fill="#b4cdd9"/>
<rect y="138" width="1" height="6.4" fill="#b5ced9"/>
<rect y="144" width="1" height="3.4" fill="#c7dde3"/>
<rect y="147" width="1" height="2.4" fill="#c9dee3"/>
<rect y="149" width="1" height="3.4" fill="#c5dce3"/>
<rect y="152" width="1" height="5.4" fill="#e8edcf"/>
<rect y="157" width="1" height="6.4" fill="#e6edd2"/>
<rect y="163" width="1" height="4.4" fill="#e5edd4"/>
<rect y="167" width="1" height="2.4" fill="#dbe7df"/>
<rect y="169" width="1" height="5.4" fill="#e3ead6"/>
<rect y="174" width="1" height="4.4" fill="#e5ead3"/>
<rect y="178" width="1" height="6.4" fill="#e6ebd0"/>
<rect y="184" width="1" height="5.4" fill="#dce8df"/>
<rect y="189" width="1" height="4.4" fill="#e1ead9"/>
<rect y="193" width="1" height="2.4" fill="#dbe7df"/>
<rect y="195" width="1" height="5.4" fill="#e2ead8"/>
<rect y="200" width="1" height="2.4" fill="#dae6df"/>
<rect y="202" width="1" height="4.4" fill="#ecf0c5"/>
<rect y="206" width="1" height="5.4" fill="#f0f0be"/>
<rect y="211" width="1" height="2.4" fill="#f0efbb"/>
<rect y="213" width="1" height="5.4" fill="#edf0c3"/>
<rect y="218" width="1" height="2.4" fill="#f0edb6"/>
<rect y="220" width="1" height="2.4" fill="#edf0c3"/>
<rect y="222" width="1" height="2.4" fill="#f1e9a8"/>
<rect y="224" width="1" height="6.4" fill="#f0efbb"/>
<rect y="230" width="1" height="4.4" fill="#f1eaae"/>
<rect y="234" width="1" height="2.4" fill="#f1eaad"/>
<rect y="236" width="1" height="4.4" fill="#f0eeb9"/>
<rect y="240" width="1" height="6.4" fill="#f0edb5"/>
<rect y="246" width="1" height="4.4" fill="#eef0c1"/>
<rect y="250" width="1" height="5.4" fill="#f2ecb7"/>
<rect y="255" width="1" height="6.4" fill="#f1edba"/>
<rect y="261" width="1" height="6.4" fill="#f2e7a8"/>
<rect y="267" width="1" height="2.4" fill="#f1edb9"/>
<rect y="269" width="1" height="5.4" fill="#f2eab1"/>
<rect y="274" width="1" height="6.4" fill="#f2e9ad"/>
<rect y="280" width="1" height="3.4" fill="#f2e8aa"/>
<rect y="283" width="1" height="5.4" fill="#f2e9ad"/>
<rect y="288" width="1" height="4.4" fill="#f1eebd"/>
<rect y="292" width="1" height="3.4" fill="#f4eda8"/>
<rect y="295" width="1" height="2.4" fill="#f4eeab"/>
<rect y="297" width="1" height="6.4" fill="#f4eca5"/>
<rect y="303" width="1" height="5.4" fill="#f4eda8"/>
<rect y="308" width="1" height="2.4" fill="#f3f0b2"/>
<rect y="310" width="1" height="4.4" fill="#f5e99e"/>
<rect y="314" width="1" height="4.4" fill="#f4eca4"/>
<rect y="318" width="1" height="2.4" fill="#f4eaa0"/>
<rect y="320" width="1" height="2.4" fill="#f3f2b7"/>
<rect y="322" width="1" height="2.4" fill="#f4eda7"/>
<rect y="324" width="1" height="3.4" fill="#f4eda7"/>
<rect y="327" width="1" height="3.4" fill="#f5e69b"/>
<rect y="330" width="1" height="2.4" fill="#f5e79d"/>
<rect y="332" width="1" height="2.4" fill="#f4f0af"/>
<rect y="334" width="1" height="6.4" fill="#f4efad"/>
<rect y="340" width="1" height="2.4" fill="#f4eaa0"/>
<rect y="342" width="1" height="3.4" fill="#f3f0b2"/>
<rect y="345" width="1" height="2.4" fill="#f5e69b"/>
<rect y="347" width="1" height="5.4" fill="#f3f2b7"/>
<rect y="352" width="1" height="3.4" fill="#f4eeac"/>
<rect y="355" width="1" height="3.4" fill="#f3db99"/>
<rect y="358" width="1" height="6.4" fill="#f3e3a0"/>
<rect y="364" width="1" height="3.4" fill="#f3e09d"/>
<rect y="367" width="1" height="6.4" fill="#f3e19e"/>
<rect y="373" width="1" height="6.4" fill="#f2e6a9"/>
<rect y="379" width="1" height="6.4" fill="#f3e5a5"/>
<rect y="385" width="1" height="4.4" fill="#f3e3a1"/>
<rect y="389" width="1" height="2.4" fill="#f2e8ae"/>
<rect y="391" width="1" height="2.4" fill="#f2e8af"/>
<rect y="393" width="1" height="6.4" fill="#f3de9c"/>
<rect y="399" width="1" height="5.4" fill="#f3d997"/>
<rect y="404" width="1" height="2.4" fill="#f3e6a8"/>
<rect y="406" width="1" height="6.4" fill="#f3de9c"/>
<rect y="412" width="1" height="4.4" fill="#f2e8ae"/>
<rect y="416" width="1" height="4.4" fill="#f2d491"/>
<rect y="420" width="1" height="2.4" fill="#f2dc99"/>
<rect y="422" width="1" height="3.4" fill="#f2d08e"/>
<rect y="425" width="1" height="3.4" fill="#f2d592"/>
<rect y="428" width="1" height="2.4" fill="#f2d28f"/>
<rect y="430" width="1" height="5.4" fill="#f2cb89"/>
<rect y="435" width="1" height="2.4" fill="#f2dc99"/>
<rect y="437" width="1" height="3.4" fill="#f3de9b"/>
<rect y="440" width="1" height="4.4" fill="#f3dd9b"/>
<rect y="444" width="1" height="3.4" fill="#f3df9c"/>
<rect y="447" width="1" height="3.4" fill="#f3db98"/>
<rect y="450" width="1" height="3.4" fill="#f2da95"/>
<rect y="453" width="1" height="2.4" fill="#f2ca86"/>
<rect y="455" width="1" height="5.4" fill="#f2cd89"/>
<rect y="460" width="1" height="3.4" fill="#f2ce8a"/>
<rect y="463" width="1" height="4.4" fill="#f2ce8a"/>
<rect y="467" width="1" height="6.4" fill="#f2cf8b"/>
<rect y="473" width="1" height="4.4" fill="#f2c482"/>
<rect y="477" width="1" height="4.4" fill="#f2d591"/>
<rect y="481" width="1" height="4.4" fill="#f2c986"/>
<rect y="485" width="1" height="3.4" fill="#f2ca86"/>
<rect y="488" width="1" height="3.4" fill="#f2cd89"/>
<rect y="491" width="1" height="4.4" fill="#f2d994"/>
<rect y="495" width="1" height="4.4" fill="#f2d692"/>
<rect y="499" width="1" height="3.4" fill="#f3da96"/>
<rect y="502" width="1" height="5.4" fill="#f3d28f"/>
<rect y="507" width="1" height="4.4" fill="#f3d390"/>
<rect y="511" width="1" height="2.4" fill="#f3da96"/>
<rect y="513" width="1" height="3.4" fill="#f3d390"/>
<rect y="516" width="1" height="5.4" fill="#f3e49f"/>
<rect y="521" width="1" height="3.4" fill="#f3d491"/>
<rect y="524" width="1" height="4.4" fill="#f3d995"/>
<rect y="528" width="1" height="4.4" fill="#f3d895"/>
<rect y="532" width="1" height="4.4" fill="#f3de99"/>
<rect y="536" width="1" height="3.4" fill="#f3d18e"/>
<rect y="539" width="1" height="4.4" fill="#f3e5a2"/>
<rect y="543" width="1" height="6.4" fill="#f3dd99"/>
<rect y="549" width="1" height="4.4" fill="#f3d18e"/>
<rect y="553" width="1" height="3.4" fill="#f3e19c"/>
<rect y="556" width="1" height="4.4" fill="#f3df9b"/>
<rect y="560" width="1" height="3.4" fill="#f3d28f"/>
<rect y="563" width="1" height="4.4" fill="#f3e09c"/>
<rect y="567" width="1" height="4.4" fill="#f2f1bc"/>
<rect y="571" width="1" height="3.4" fill="#f4eaa7"/>
<rect y="574" width="1" height="2.4" fill="#f1f2c2"/>
<rect y="576" width="1" height="4.4" fill="#f3efb6"/>
<rect y="580" width="1" height="5.4" fill="#f3ecaf"/>
<rect y="585" width="1" height="6.4" fill="#f2f1bd"/>
<rect y="591" width="1" height="4.4" fill="#f1f2c2"/>
<rect y="595" width="1" height="6.4" fill="#f3ecad"/>
<rect y="601" width="1" height="4.4" fill="#f3efb8"/>
<rect y="605" width="1" height="5.4" fill="#f4ebab"/>
<rect y="610" width="1" height="5.4" fill="#f2f2c0"/>
<rect y="615" width="1" height="4.4" fill="#f3f0bb"/>
<rect y="619" width="1" height="2.4" fill="#f3efb7"/>
<rect y="621" width="1" height="2.4" fill="#f4eaa9"/>
<rect y="623" width="1" height="3.4" fill="#f2f1bd"/>
<rect y="626" width="1" height="4.4" fill="#f3edb2"/>
<rect y="630" width="1" height="4.4" fill="#f3d391"/>
<rect y="634" width="1" height="6.4" fill="#f3c989"/>
<rect y="640" width="1" height="5.4" fill="#f3cd8c"/>
<rect y="645" width="1" height="6.4" fill="#f3ce8d"/>
<rect y="651" width="1" height="5.4" fill="#f3d997"/>
<rect y="656" width="1" height="5.4" fill="#f3d593"/>
<rect y="661" width="1" height="5.4" fill="#f3edb0"/>
<rect y="666" width="1" height="3.4" fill="#f3ecb0"/>
<rect y="669" width="1" height="5.4" fill="#f4e39b"/>
<rect y="674" width="1" height="4.4" fill="#f3edb2"/>
<rect y="678" width="1" height="2.4" fill="#f1a66f"/>
<rect y="680" width="1" height="4.4" fill="#f1a46d"/>
<rect y="684" width="1" height="4.4" fill="#f1a56e"/>
<rect y="688" width="1" height="6.4" fill="#ef9565"/>
<rect y="694" width="1" height="3.4" fill="#f09967"/>
<rect y="697" width="1" height="6.4" fill="#ef9565"/>
<rect y="703" width="1" height="4.4" fill="#ee8d62"/>
<rect y="707" width="1" height="6.4" fill="#f1a870"/>
<rect y="713" width="1" height="6.4" fill="#ef9565"/>
<rect y="719" width="1" height="4.4" fill="#ef9465"/>
<rect y="723" width="1" height="4.4" fill="#ef9465"/>
<rect y="727" width="1" height="4.4" fill="#f1aa71"/>
<rect y="731" width="1" height="4.4" fill="#f09766"/>
<rect y="735" width="1" height="5.4" fill="#f1a970"/>
<rect y="740" width="1" height="5.4" fill="#f1a26c"/>
<rect y="745" width="1" height="5.4" fill="#f0a66f"/>
<rect y="750" width="1" height="6.4" fill="#f0ab73"/>
<rect y="756" width="1" height="4.4" fill="#f0a66f"/>
<rect y="760" width="1" height="4.4" fill="#f0a66f"/>
<rect y="764" width="1" height="2.4" fill="#f2c283"/>
<rect y="766" width="1" height="4.4" fill="#f0a871"/>
<rect y="770" width="1" height="2.4" fill="#f1af76"/>
<rect y="772" width="1" height="6.4" fill="#f1af76"/>
<rect y="778" width="1" height="5.4" fill="#f2c283"/>
<rect y="783" width="1" height="3.4" fill="#f1b579"/>
<rect y="786" width="1" height="2.4" fill="#f1af75"/>
<rect y="788" width="1" height="5.4" fill="#f0a56f"/>
<rect y="793" width="1" height="4.4" fill="#f2bd80"/>
<rect y="797" width="1" height="5.4" fill="#f2be80"/>
<rect y="802" width="1" height="5.4" fill="#e77e59"/>
<rect y="807" width="1" height="2.4" fill="#e47855"/>
<rect y="809" width="1" height="5.4" fill="#f0a06c"/>
<rect y="814" width="1" height="6.4" fill="#f0a972"/>
<rect y="820" width="1" height="2.4" fill="#f09f6c"/>
<rect y="822" width="1" height="5.4" fill="#f1b279"/>
<rect y="827" width="1" height="2.4" fill="#f1b379"/>
<rect y="829" width="1" height="4.4" fill="#f0a06c"/>
<rect y="833" width="1" height="6.4" fill="#f0a36e"/>
<rect y="839" width="1" height="3.4" fill="#f0a570"/>
<rect y="842" width="1" height="2.4" fill="#f09e6b"/>
<rect y="844" width="1" height="6.4" fill="#f1ae76"/>
<rect y="850" width="1" height="3.4" fill="#f09b68"/>
<rect y="853" width="1" height="3.4" fill="#ef9364"/>
<rect y="856" width="1" height="6.4" fill="#f09e69"/>
<rect y="862" width="1" height="5.4" fill="#f2d08e"/>
<rect y="867" width="1" height="3.4" fill="#f2c585"/>
<rect y="870" width="1" height="2.4" fill="#f2c685"/>
<rect y="872" width="1" height="4.4" fill="#f2d390"/>
<rect y="876" width="1" height="3.4" fill="#f2cf8c"/>
<rect y="879" width="1" height="6.4" fill="#f2d18e"/>
<rect y="885" width="1" height="4.4" fill="#efa66b"/>
<rect y="889" width="1" height="2.4" fill="#f0b174"/>
<rect y="891" width="1" height="4.4" fill="#f0b475"/>
<rect y="895" width="1" height="3.4" fill="#efa46a"/>
<rect y="898" width="1" height="5.4" fill="#f0b475"/>
<rect y="903" width="1" height="6.4" fill="#f2c483"/>
<rect y="909" width="1" height="2.4" fill="#f2ca88"/>
<rect y="911" width="1" height="4.4" fill="#f1b77a"/>
<rect y="915" width="1" height="3.4" fill="#f2c785"/>
<rect y="918" width="1" height="3.4" fill="#f1b77a"/>
<rect y="921" width="1" height="6.4" fill="#f2c886"/>
<rect y="927" width="1" height="6.4" fill="#f2c684"/>
<rect y="933" width="1" height="2.4" fill="#f1bb7d"/>
<rect y="935" width="1" height="5.4" fill="#f2c987"/>
<rect y="940" width="1" height="2.4" fill="#f2c584"/>
<rect y="942" width="1" height="6.4" fill="#f2cc89"/>
<rect y="948" width="1" height="3.4" fill="#f1b679"/>
<rect y="951" width="1" height="5.4" fill="#f2c986"/>
<rect y="956" width="1" height="3.4" fill="#f1b97c"/>
<rect y="959" width="1" height="2.4" fill="#f2c785"/>
<rect y="961" width="1" height="6.4" fill="#f2c584"/>
<rect y="967" width="1" height="4.4" fill="#f1ba7c"/>
<rect y="971" width="1" height="6.4" fill="#f1bc7e"/>
<rect y="977" width="1" height="5.4" fill="#f1bc7d"/>
<rect y="982" width="1" height="4.4" fill="#f2c886"/>
<rect y="986" width="1" height="3.4" fill="#f2ca88"/>
<rect y="989" width="1" height="2.4" fill="#f2c080"/>
<rect y="991" width="1" height="4.4" fill="#ec8a60"/>
<rect y="995" width="1" height="3.4" fill="#ed9364"/>
<rect y="998" width="1" height="3.4" fill="#ec8b61"/>
<rect y="1001" width="1" height="2.4" fill="#eb7e5a"/>
<rect y="1003" width="1" height="4.4" fill="#eb805b"/>
<rect y="1007" width="1" height="4.4" fill="#eb815c"/>
<rect y="1011" width="1" height="2.4" fill="#ec8d62"/>
<rect y="1013" width="1" height="3.4" fill="#eb825d"/>
<rect y="1016" width="1" height="3.4" fill="#f0a46f"/>
<rect y="1019" width="1" height="5.4" fill="#ee9266"/>
<rect y="1024" width="1" height="2.4" fill="#f1ab74"/>
<rect y="1026" width="1" height="5.4" fill="#f1ae76"/>
<rect y="1031" width="1" height="4.4" fill="#f1ae76"/>
<rect y="1035" width="1" height="4.4" fill="#f09d6b"/>
<rect y="1039" width="1" height="4.4" fill="#f0a46f"/>
<rect y="1043" width="1" height="4.4" fill="#f1ad75"/>
<rect y="1047" width="1" height="4.4" fill="#f09f6c"/>
<rect y="1051" width="1" height="3.4" fill="#f1a972"/>
<rect y="1054" width="1" height="4.4" fill="#ef9567"/>
<rect y="1058" width="1" height="2.4" fill="#ef9366"/>
<rect y="1060" width="1" height="2.4" fill="#f1a972"/>
<rect y="1062" width="1" height="3.4" fill="#f09f6b"/>
<rect y="1065" width="1" height="4.4" fill="#ee9266"/>
<rect y="1069" width="1" height="4.4" fill="#f1ab73"/>
<rect y="1073" width="1" height="2.4" fill="#f0a06c"/>
<rect y="1075" width="1" height="5.4" fill="#f3e3a1"/>
<rect y="1080" width="1" height="5.4" fill="#f3da98"/>
<rect y="1085" width="1" height="4.4" fill="#f3e4a5"/>
<rect y="1089" width="1" height="5.4" fill="#f3e29f"/>
<rect y="1094" width="1" height="5.4" fill="#f3e4a2"/>
<rect y="1099" width="1" height="4.4" fill="#f3e4a3"/>
<rect y="1103" width="1" height="2.4" fill="#f3e5a5"/>
<rect y="1105" width="1" height="3.4" fill="#f3e19e"/>
<rect y="1108" width="1" height="4.4" fill="#f3de9b"/>
<rect y="1112" width="1" height="5.4" fill="#f3d392"/>
<rect y="1117" width="1" height="5.4" fill="#f3d191"/>
<rect y="1122" width="1" height="6.4" fill="#f3d594"/>
<rect y="1128" width="1" height="3.4" fill="#f3e4a2"/>
<rect y="1131" width="1" height="5.4" fill="#f3d998"/>
<rect y="1136" width="1" height="3.4" fill="#f3d594"/>
<rect y="1139" width="1" height="2.4" fill="#f3e19e"/>
<rect y="1141" width="1" height="4.4" fill="#f3dc9a"/>
<rect y="1145" width="1" height="3.4" fill="#f3d997"/>
<rect y="1148" width="1" height="3.4" fill="#f3dd9b"/>
<rect y="1151" width="1" height="3.4" fill="#f4e39b"/>
<rect y="1154" width="1" height="3.4" fill="#f3ecae"/>
<rect y="1157" width="1" height="3.4" fill="#f4e59d"/>
<rect y="1160" width="1" height="6.4" fill="#f4e29b"/>
<rect y="1166" width="1" height="4.4" fill="#f3e8a1"/>
<rect y="1170" width="1" height="3.4" fill="#f4e39b"/>
<rect y="1173" width="1" height="4.4" fill="#f3ecad"/>
<rect y="1177" width="1" height="3.4" fill="#f4e59d"/>
<rect y="1180" width="1" height="3.4" fill="#f3ebab"/>
<rect y="1183" width="1" height="4.4" fill="#f2edb0"/>
<rect y="1187" width="1" height="3.4" fill="#f4e49c"/>
<rect y="1190" width="1" height="3.4" fill="#f2efb6"/>
<rect y="1193" width="1" height="3.4" fill="#f3ebab"/>
<rect y="1196" width="1" height="3.4" fill="#f2edb1"/>
<rect y="1199" width="1" height="6.4" fill="#f2eeb3"/>
<rect y="1205" width="1" height="3.4" fill="#f3ebab"/>
<rect y="1208" width="1" height="5.4" fill="#f4e7a0"/>
<rect y="1213" width="1" height="2.4" fill="#f3ecae"/>
<rect y="1215" width="1" height="3.4" fill="#f2eeb5"/>
<rect y="1218" width="1" height="6.4" fill="#f3ebac"/>
<rect y="1224" width="1" height="3.4" fill="#f3ebaa"/>
<rect y="1227" width="1" height="2.4" fill="#f2efb8"/>
<rect y="1229" width="1" height="6.4" fill="#f2efb5"/>
<rect y="1235" width="1" height="2.4" fill="#f3e8a3"/>
<rect y="1237" width="1" height="4.4" fill="#f4e69e"/>
<rect y="1241" width="1" height="6.4" fill="#f3eaa7"/>
<rect y="1247" width="1" height="3.4" fill="#f2efb5"/>
<rect y="1250" width="1" height="6.4" fill="#f3d592"/>
<rect y="1256" width="1" height="3.4" fill="#f3dd99"/>
<rect y="1259" width="1" height="2.4" fill="#f3e39e"/>
<rect y="1261" width="1" height="5.4" fill="#f3e29d"/>
<rect y="1266" width="1" height="4.4" fill="#f3d592"/>
<rect y="1270" width="1" height="6.4" fill="#f3e5a2"/>
<rect y="1276" width="1" height="4.4" fill="#f3e09c"/>
<rect y="1280" width="1" height="3.4" fill="#f3d18f"/>
<rect y="1283" width="1" height="2.4" fill="#f3e6a4"/>
<rect y="1285" width="1" height="6.4" fill="#f3db97"/>
<rect y="1291" width="1" height="5.4" fill="#f3de9a"/>
<rect y="1296" width="1" height="4.4" fill="#f3d491"/>
<rect y="1300" width="1" height="3.4" fill="#f3dd99"/>
<rect y="1303" width="1" height="6.4" fill="#f3d793"/>
<rect y="1309" width="1" height="3.4" fill="#f3d390"/>
<rect y="1312" width="1" height="3.4" fill="#f3d793"/>
<rect y="1315" width="1" height="2.4" fill="#f3e09b"/>
<rect y="1317" width="1" height="5.4" fill="#f3eca8"/>
<rect y="1322" width="1" height="4.4" fill="#f3eca8"/>
<rect y="1326" width="1" height="2.4" fill="#f3eba4"/>
<rect y="1328" width="1" height="2.4" fill="#f3eaa2"/>
<rect y="1330" width="1" height="4.4" fill="#f3edac"/>
<rect y="1334" width="1" height="5.4" fill="#f4e49b"/>
<rect y="1339" width="1" height="5.4" fill="#f3eaa2"/>
<rect y="1344" width="1" height="3.4" fill="#f3eead"/>
<rect y="1347" width="1" height="3.4" fill="#f3eca8"/>
<rect y="1350" width="1" height="5.4" fill="#f2f1b6"/>
<rect y="1355" width="1" height="2.4" fill="#f3eca8"/>
<rect y="1357" width="1" height="5.4" fill="#f3eba4"/>
<rect y="1362" width="1" height="5.4" fill="#f4e49b"/>
<rect y="1367" width="1" height="6.4" fill="#f3eead"/>
<rect y="1373" width="1" height="5.4" fill="#f2f1b7"/>
<rect y="1378" width="1" height="6.4" fill="#f2f1b8"/>
<rect y="1384" width="1" height="6.4" fill="#f3edac"/>
<rect y="1390" width="1" height="3.4" fill="#f3eead"/>
<rect y="1393" width="1" height="4.4" fill="#f4e59b"/>
<rect y="1397" width="1" height="3.4" fill="#f3eba6"/>
<rect y="1400" width="1" height="3.4" fill="#f3eba6"/>
<rect y="1403" width="1" height="3.4" fill="#f3e9a0"/>
<rect y="1406" width="1" height="6.4" fill="#f3eba4"/>
<rect y="1412" width="1" height="2.4" fill="#f3eca8"/>
<rect y="1414" width="1" height="2.4" fill="#f3eeae"/>
<rect y="1416" width="1" height="5.4" fill="#f2f0b3"/>
<rect y="1421" width="1" height="2.4" fill="#f4e99f"/>
<rect y="1423" width="1" height="6.4" fill="#f3d28e"/>
<rect y="1429" width="1" height="5.4" fill="#f3df9a"/>
<rect y="1434" width="1" height="3.4" fill="#f3ce8a"/>
<rect y="1437" width="1" height="6.4" fill="#f3df9a"/>
<rect y="1443" width="1" height="4.4" fill="#f3d793"/>
<rect y="1447" width="1" height="4.4" fill="#f3de99"/>
<rect y="1451" width="1" height="6.4" fill="#f3d692"/>
<rect y="1457" width="1" height="3.4" fill="#f3ce8a"/>
<rect y="1460" width="1" height="3.4" fill="#f3d391"/>
<rect y="1463" width="1" height="6.4" fill="#f3e4a0"/>
<rect y="1469" width="1" height="2.4" fill="#f3db99"/>
<rect y="1471" width="1" height="2.4" fill="#f3df9c"/>
<rect y="1473" width="1" height="3.4" fill="#f3d795"/>
<rect y="1476" width="1" height="2.4" fill="#f3d694"/>
<rect y="1478" width="1" height="3.4" fill="#f3e09d"/>
<rect y="1481" width="1" height="2.4" fill="#f3df9c"/>
<rect y="1483" width="1" height="3.4" fill="#f3d492"/>
<rect y="1486" width="1" height="4.4" fill="#f3d795"/>
<rect y="1490" width="1" height="3.4" fill="#f3e19e"/>
<rect y="1493" width="1" height="5.4" fill="#f3e09d"/>
<rect y="1498" width="1" height="2.4" fill="#f3e09e"/>
<rect y="1500" width="1" height="4.4" fill="#f3cc8c"/>
<rect y="1504" width="1" height="3.4" fill="#f3da98"/>
<rect y="1507" width="1" height="4.4" fill="#f2c785"/>
<rect y="1511" width="1" height="2.4" fill="#f0b075"/>
<rect y="1513" width="1" height="5.4" fill="#f1b77a"/>
<rect y="1518" width="1" height="3.4" fill="#f1b77a"/>
<rect y="1521" width="1" height="3.4" fill="#f2c583"/>
<rect y="1524" width="1" height="4.4" fill="#f0b478"/>
<rect y="1528" width="1" height="2.4" fill="#f0af74"/>
<rect y="1530" width="1" height="2.4" fill="#f1c383"/>
<rect y="1532" width="1" height="6.4" fill="#f1bc7d"/>
<rect y="1538" width="1" height="2.4" fill="#f0b679"/>
<rect y="1540" width="1" height="6.4" fill="#f1be7f"/>
<rect y="1546" width="1" height="4.4" fill="#f2cb88"/>
<rect y="1550" width="1" height="3.4" fill="#f2c986"/>
<rect y="1553" width="1" height="2.4" fill="#f0b176"/>
<rect y="1555" width="1" height="5.4" fill="#f1b87b"/>
<rect y="1560" width="1" height="5.4" fill="#f0af74"/>
<rect y="1565" width="1" height="2.4" fill="#f1b77a"/>
<rect y="1567" width="1" height="5.4" fill="#f2c583"/>
<rect y="1572" width="1" height="3.4" fill="#f1be7e"/>
<rect y="1575" width="1" height="5.4" fill="#f1bf7f"/>
<rect y="1580" width="1" height="2.4" fill="#f0ae73"/>
<rect y="1582" width="1" height="3.4" fill="#f2cb88"/>
<rect y="1585" width="1" height="5.4" fill="#f1c383"/>
<rect y="1590" width="1" height="3.4" fill="#f2cb89"/>
<rect y="1593" width="1" height="5.4" fill="#f0b075"/>
<rect y="1598" width="1" height="6.4" fill="#f2e7a7"/>
<rect y="1604" width="1" height="3.4" fill="#f3e09b"/>
<rect y="1607" width="1" height="6.4" fill="#f3d793"/>
<rect y="1613" width="1" height="3.4" fill="#f3dd98"/>
<rect y="1616" width="1" height="6.4" fill="#f3e49e"/>
<rect y="1622" width="1" height="4.4" fill="#f3d894"/>
<rect y="1626" width="1" height="3.4" fill="#f3e29c"/>
<rect y="1629" width="1" height="2.4" fill="#f3d692"/>
<rect y="1631" width="1" height="2.4" fill="#f3e19c"/>
<rect y="1633" width="1" height="4.4" fill="#f3dc97"/>
<rect y="1637" width="1" height="3.4" fill="#f3e49e"/>
<rect y="1640" width="1" height="2.4" fill="#f3d591"/>
<rect y="1642" width="1" height="5.4" fill="#f3e7a6"/>
<rect y="1647" width="1" height="3.4" fill="#f3e49e"/>
<rect y="1650" width="1" height="4.4" fill="#f3d996"/>
<rect y="1654" width="1" height="5.4" fill="#f3d390"/>
<rect y="1659" width="1" height="4.4" fill="#f3dc98"/>
<rect y="1663" width="1" height="4.4" fill="#f3d08e"/>
<rect y="1667" width="1" height="5.4" fill="#f3ce8b"/>
<rect y="1672" width="1" height="4.4" fill="#f3c988"/>
<rect y="1676" width="1" height="3.4" fill="#f3da96"/>
<rect y="1679" width="1" height="2.4" fill="#f3d592"/>
<rect y="1681" width="1" height="2.4" fill="#f3cb89"/>
<rect y="1683" width="1" height="5.4" fill="#f3c988"/>
<rect y="1688" width="1" height="3.4" fill="#f3cc8a"/>
<rect y="1691" width="1" height="5.4" fill="#f3dc98"/>
<rect y="1696" width="1" height="6.4" fill="#f3e09c"/>
<rect y="1702" width="1" height="3.4" fill="#f3d794"/>
<rect y="1705" width="1" height="6.4" fill="#f3d08d"/>
<rect y="1711" width="1" height="3.4" fill="#f3cd8b"/>
<rect y="1714" width="1" height="4.4" fill="#f3e19c"/>
<rect y="1718" width="1" height="2.4" fill="#f3cc8a"/>
<rect y="1720" width="1" height="6.4" fill="#f3cf8c"/>
<rect y="1726" width="1" height="4.4" fill="#f3dc98"/>
<rect y="1730" width="1" height="6.4" fill="#f3d491"/>
<rect y="1736" width="1" height="2.4" fill="#f3d391"/>
<rect y="1738" width="1" height="4.4" fill="#f3df9b"/>
<rect y="1742" width="1" height="3.4" fill="#f3cd8b"/>
<rect y="1745" width="1" height="2.4" fill="#f3d28f"/>
<rect y="1747" width="1" height="3.4" fill="#f3d996"/>
<rect y="1750" width="1" height="5.4" fill="#f3d894"/>
<rect y="1755" width="1" height="5.4" fill="#f3d391"/>
<rect y="1760" width="1" height="3.4" fill="#f3cb89"/>
<rect y="1763" width="1" height="4.4" fill="#f1bb7c"/>
<rect y="1767" width="1" height="4.4" fill="#f1c382"/>
<rect y="1771" width="1" height="5.4" fill="#f1c180"/>
<rect y="1776" width="1" height="6.4" fill="#f1c583"/>
<rect y="1782" width="1" height="3.4" fill="#f2cb88"/>
<rect y="1785" width="1" height="4.4" fill="#f1c181"/>
<rect y="1789" width="1" height="5.4" fill="#f1bb7d"/>
<rect y="1794" width="1" height="2.4" fill="#f1be7f"/>
<rect y="1796" width="1" height="2.4" fill="#f0b77a"/>
<rect y="1798" width="1" height="4.4" fill="#f1bd7e"/>
<rect y="1802" width="1" height="3.4" fill="#f0b679"/>
<rect y="1805" width="1" height="7.4" fill="#f1c483"/>
<rect y="1812" width="1" height="3.4" fill="#f3d897"/>
<rect y="1815" width="1" height="4.4" fill="#f3c587"/>
<rect y="1819" width="1" height="2.4" fill="#f3ca8b"/>
<rect y="1821" width="1" height="6.4" fill="#f3c788"/>
<rect y="1827" width="1" height="3.4" fill="#f3d594"/>
<rect y="1830" width="1" height="6.4" fill="#f3cf8f"/>
<rect y="1836" width="1" height="3.4" fill="#f3da99"/>
<rect y="1839" width="1" height="4.4" fill="#f3c587"/>
<rect y="1843" width="1" height="5.4" fill="#ddebe0"/>
<rect y="1848" width="1" height="4.4" fill="#e2ecd8"/>
<rect y="1852" width="1" height="5.4" fill="#dbe9e0"/>
<rect y="1857" width="1" height="3.4" fill="#e3ecd6"/>
<rect y="1860" width="1" height="6.4" fill="#f2f1c1"/>
<rect y="1866" width="1" height="5.4" fill="#f3efbb"/>
<rect y="1871" width="1" height="4.4" fill="#edf0c9"/>
<rect y="1875" width="1" height="3.4" fill="#f3efbb"/>
<rect y="1878" width="1" height="3.4" fill="#f3f1bf"/>
<rect y="1881" width="1" height="4.4" fill="#f2f1c1"/>
<rect y="1885" width="1" height="6.4" fill="#eef0c9"/>
<rect y="1891" width="1" height="5.4" fill="#edf0ca"/>
<rect y="1896" width="1" height="3.4" fill="#eaefd0"/>
<rect y="1899" width="1" height="2.4" fill="#f2f1c0"/>
<rect y="1901" width="1" height="6.4" fill="#edf0c9"/>
<rect y="1907" width="1" height="2.4" fill="#ecefcc"/>
<rect y="1909" width="1" height="6.4" fill="#f3f0bc"/>
<rect y="1915" width="1" height="2.4" fill="#f3f0be"/>
<rect y="1917" width="1" height="4.4" fill="#f2f1c0"/>
<rect y="1921" width="1" height="4.4" fill="#e6eed6"/>
<rect y="1925" width="1" height="3.4" fill="#f3f0bc"/>
<rect y="1928" width="1" height="5.4" fill="#f0f1c4"/>
<rect y="1933" width="1" height="2.4" fill="#e1ecd9"/>
<rect y="1935" width="1" height="5.4" fill="#e9eecb"/>
<rect y="1940" width="1" height="4.4" fill="#e5edd3"/>
<rect y="1944" width="1" height="4.4" fill="#dfebdd"/>
<rect y="1948" width="1" height="5.4" fill="#e5edd3"/>
<rect y="1953" width="1" height="3.4" fill="#e2ecd8"/>
<rect y="1956" width="1" height="2.4" fill="#9cb5c6"/>
<rect y="1958" width="1" height="2.4" fill="#99b1c4"/>
<rect y="1960" width="1" height="5.4" fill="#acc4d0"/>
<rect y="1965" width="1" height="2.4" fill="#9bb4c5"/>
<rect y="1967" width="1" height="3.4" fill="#a0b9c9"/>
<rect y="1970" width="1" height="2.4" fill="#e7eed4"/>
<rect y="1972" width="1" height="4.4" fill="#f2f1c0"/>
<rect y="1976" width="1" height="4.4" fill="#f1f1c2"/>
<rect y="1980" width="1" height="5.4" fill="#eff0c7"/>
<rect y="1985" width="1" height="6.4" fill="#edf0ca"/>
<rect y="1991" width="1" height="6.4" fill="#f3f1c0"/>
<rect y="1997" width="1" height="5.4" fill="#f0f0c5"/>
<rect y="2002" width="1" height="2.4" fill="#f3efbc"/>
<rect y="2004" width="1" height="5.4" fill="#ebefce"/>
<rect y="2009" width="1" height="6.4" fill="#d4e5e8"/>
<rect y="2015" width="1" height="4.4" fill="#ccdfe9"/>
<rect y="2019" width="1" height="5.4" fill="#c8dde9"/>
<rect y="2024" width="1" height="6.4" fill="#cadee9"/>
<rect y="2030" width="1" height="5.4" fill="#d6e6e8"/>
<rect y="2035" width="1" height="6.4" fill="#d9e8e8"/>
<rect y="2041" width="1" height="5.4" fill="#c6dbe0"/>
<rect y="2046" width="1" height="4.4" fill="#b9d0d8"/>
<rect y="2050" width="1" height="4.4" fill="#b0c9d3"/>
<rect y="2054" width="1" height="5.4" fill="#b1c9d4"/>
<rect y="2059" width="1" height="2.4" fill="#ef9b6a"/>
<rect y="2061" width="1" height="5.4" fill="#f0a16d"/>
<rect y="2066" width="1" height="5.4" fill="#ef9668"/>
<rect y="2071" width="1" height="4.4" fill="#f1b379"/>
<rect y="2075" width="1" height="5.4" fill="#f3cb8a"/>
<rect y="2080" width="1" height="6.4" fill="#f3c384"/>
<rect y="2086" width="1" height="2.4" fill="#f3d694"/>
<rect y="2088" width="1" height="3.4" fill="#f2c082"/>
<rect y="2091" width="1" height="3.4" fill="#f3d391"/>
<rect y="2094" width="1" height="6.4" fill="#f3d694"/>
<rect y="2100" width="1" height="2.4" fill="#f3d18f"/>
</g>
<g transform="translate(1121.00,0) scale(149.40,1)">
<rect y="68" width="1" height="6.4" fill="#e36f52"/>
<rect y="74" width="1" height="2.4" fill="#d4513c"/>
<rect y="76" width="1" height="4.4" fill="#dd5c42"/>
<rect y="80" width="1" height="4.4" fill="#d6533d"/>
<rect y="84" width="1" height="3.4" fill="#da5940"/>
<rect y="87" width="1" height="7.4" fill="#db5a40"/>
<rect y="94" width="1" height="6.4" fill="#f3c78a"/>
<rect y="100" width="1" height="5.4" fill="#ef9e6a"/>
<rect y="105" width="1" height="6.4" fill="#f0a870"/>
<rect y="111" width="1" height="3.4" fill="#f0a870"/>
<rect y="114" width="1" height="6.4" fill="#f3c285"/>
<rect y="120" width="1" height="2.4" fill="#f3d292"/>
<rect y="122" width="1" height="4.4" fill="#f3c889"/>
<rect y="126" width="1" height="2.4" fill="#f3d393"/>
<rect y="128" width="1" height="6.4" fill="#a9b9b8"/>
<rect y="134" width="1" height="5.4" fill="#dee9e0"/>
<rect y="139" width="1" height="7.4" fill="#e9eccd"/>
<rect y="146" width="1" height="3.4" fill="#f4d692"/>
<rect y="149" width="1" height="2.4" fill="#f4d491"/>
<rect y="151" width="1" height="3.4" fill="#f4d390"/>
<rect y="154" width="1" height="6.4" fill="#f4d995"/>
<rect y="160" width="1" height="6.4" fill="#f4e09c"/>
<rect y="166" width="1" height="3.4" fill="#f4e6a4"/>
<rect y="169" width="1" height="2.4" fill="#f4e39e"/>
<rect y="171" width="1" height="6.4" fill="#f1b479"/>
<rect y="177" width="1" height="4.4" fill="#f1b076"/>
<rect y="181" width="1" height="3.4" fill="#f0a36d"/>
<rect y="184" width="1" height="5.4" fill="#f1be83"/>
<rect y="189" width="1" height="6.4" fill="#f2cd8f"/>
<rect y="195" width="1" height="5.4" fill="#ef9164"/>
<rect y="200" width="1" height="3.4" fill="#ee8c62"/>
<rect y="203" width="1" height="5.4" fill="#ee8c62"/>
<rect y="208" width="1" height="3.4" fill="#ef9164"/>
<rect y="211" width="1" height="5.4" fill="#dd5d42"/>
<rect y="216" width="1" height="4.4" fill="#d7553e"/>
<rect y="220" width="1" height="6.4" fill="#f09f6b"/>
<rect y="226" width="1" height="6.4" fill="#f09d6a"/>
<rect y="232" width="1" height="4.4" fill="#f3cc8b"/>
<rect y="236" width="1" height="3.4" fill="#f3cd8c"/>
<rect y="239" width="1" height="6.4" fill="#f2bc7f"/>
<rect y="245" width="1" height="5.4" fill="#f3bd80"/>
<rect y="250" width="1" height="3.4" fill="#f3c585"/>
<rect y="253" width="1" height="6.4" fill="#db5940"/>
<rect y="259" width="1" height="6.4" fill="#d8563e"/>
<rect y="265" width="1" height="2.4" fill="#d9573f"/>
<rect y="267" width="1" height="4.4" fill="#ee875e"/>
<rect y="271" width="1" height="6.4" fill="#ee865e"/>
<rect y="277" width="1" height="4.4" fill="#ee815b"/>
<rect y="281" width="1" height="3.4" fill="#ee895f"/>
<rect y="284" width="1" height="3.4" fill="#e66f50"/>
<rect y="287" width="1" height="2.4" fill="#f2bc7f"/>
<rect y="289" width="1" height="3.4" fill="#f3c888"/>
<rect y="292" width="1" height="2.4" fill="#f3ca89"/>
<rect y="294" width="1" height="3.4" fill="#f3cc8c"/>
<rect y="297" width="1" height="4.4" fill="#f3cc8b"/>
<rect y="301" width="1" height="2.4" fill="#df684d"/>
<rect y="303" width="1" height="2.4" fill="#da5f46"/>
<rect y="305" width="1" height="4.4" fill="#db6248"/>
<rect y="309" width="1" height="2.4" fill="#da5f46"/>
<rect y="311" width="1" height="2.4" fill="#d95e46"/>
<rect y="313" width="1" height="2.4" fill="#de674c"/>
<rect y="315" width="1" height="4.4" fill="#e47254"/>
<rect y="319" width="1" height="3.4" fill="#f3bb7f"/>
<rect y="322" width="1" height="6.4" fill="#f2ba7e"/>
<rect y="328" width="1" height="5.4" fill="#f2b77c"/>
<rect y="333" width="1" height="3.4" fill="#f1a972"/>
<rect y="336" width="1" height="2.4" fill="#f1a56f"/>
<rect y="338" width="1" height="3.4" fill="#f2b87d"/>
<rect y="341" width="1" height="2.4" fill="#ed875f"/>
<rect y="343" width="1" height="5.4" fill="#ec7f5b"/>
<rect y="348" width="1" height="5.4" fill="#ee9063"/>
<rect y="353" width="1" height="6.4" fill="#ef9665"/>
<rect y="359" width="1" height="4.4" fill="#ef9666"/>
<rect y="363" width="1" height="3.4" fill="#ef9465"/>
<rect y="366" width="1" height="5.4" fill="#ce4c3d"/>
<rect y="371" width="1" height="2.4" fill="#cb473b"/>
<rect y="373" width="1" height="4.4" fill="#cd4a3d"/>
<rect y="377" width="1" height="2.4" fill="#c9453a"/>
<rect y="379" width="1" height="3.4" fill="#c9453a"/>
<rect y="382" width="1" height="5.4" fill="#c9453a"/>
<rect y="387" width="1" height="4.4" fill="#c9453a"/>
<rect y="391" width="1" height="4.4" fill="#c9453a"/>
<rect y="395" width="1" height="6.4" fill="#ce4c3e"/>
<rect y="401" width="1" height="2.4" fill="#cb483c"/>
<rect y="403" width="1" height="3.4" fill="#cb483b"/>
<rect y="406" width="1" height="4.4" fill="#c9453a"/>
<rect y="410" width="1" height="3.4" fill="#c9453a"/>
<rect y="413" width="1" height="5.4" fill="#ca473b"/>
<rect y="418" width="1" height="6.4" fill="#ce4b3d"/>
<rect y="424" width="1" height="2.4" fill="#ce4d3e"/>
<rect y="426" width="1" height="3.4" fill="#cb483c"/>
<rect y="429" width="1" height="2.4" fill="#c9453a"/>
<rect y="431" width="1" height="6.4" fill="#c9453a"/>
<rect y="437" width="1" height="6.4" fill="#cb483c"/>
<rect y="443" width="1" height="4.4" fill="#cb483b"/>
<rect y="447" width="1" height="4.4" fill="#c9453a"/>
<rect y="451" width="1" height="2.4" fill="#c9453a"/>
<rect y="453" width="1" height="5.4" fill="#c9453a"/>
<rect y="458" width="1" height="2.4" fill="#c9453a"/>
<rect y="460" width="1" height="3.4" fill="#c9453a"/>
<rect y="463" width="1" height="2.4" fill="#d4503b"/>
<rect y="465" width="1" height="3.4" fill="#d5513c"/>
<rect y="468" width="1" height="2.4" fill="#d9573f"/>
<rect y="470" width="1" height="5.4" fill="#d8563f"/>
<rect y="475" width="1" height="6.4" fill="#db5940"/>
<rect y="481" width="1" height="2.4" fill="#db5a40"/>
<rect y="483" width="1" height="3.4" fill="#eb7f52"/>
<rect y="486" width="1" height="4.4" fill="#e7774d"/>
<rect y="490" width="1" height="2.4" fill="#9db6ca"/>
<rect y="492" width="1" height="2.4" fill="#94acc5"/>
<rect y="494" width="1" height="5.4" fill="#9db5ca"/>
<rect y="499" width="1" height="2.4" fill="#d2e3e6"/>
<rect y="501" width="1" height="5.4" fill="#d9e7e6"/>
<rect y="506" width="1" height="6.4" fill="#e7eed3"/>
<rect y="512" width="1" height="2.4" fill="#ecf0c9"/>
<rect y="514" width="1" height="4.4" fill="#ebefcb"/>
<rect y="518" width="1" height="4.4" fill="#f1f1c1"/>
<rect y="522" width="1" height="5.4" fill="#f2efba"/>
<rect y="527" width="1" height="4.4" fill="#f2f0bd"/>
<rect y="531" width="1" height="2.4" fill="#cbdfe7"/>
<rect y="533" width="1" height="2.4" fill="#d4e5e6"/>
<rect y="535" width="1" height="5.4" fill="#d3e5e6"/>
<rect y="540" width="1" height="6.4" fill="#d0e2e6"/>
<rect y="546" width="1" height="2.4" fill="#d7e7e6"/>
<rect y="548" width="1" height="4.4" fill="#d6e7e6"/>
<rect y="552" width="1" height="2.4" fill="#d8e8e6"/>
<rect y="554" width="1" height="2.4" fill="#d9e9e5"/>
<rect y="556" width="1" height="6.4" fill="#acc3d2"/>
<rect y="562" width="1" height="5.4" fill="#b3c9d7"/>
<rect y="567" width="1" height="4.4" fill="#abc3d2"/>
<rect y="571" width="1" height="2.4" fill="#b0c6d5"/>
<rect y="573" width="1" height="2.4" fill="#b5cbd8"/>
<rect y="575" width="1" height="4.4" fill="#a4bccd"/>
<rect y="579" width="1" height="3.4" fill="#a2bbcc"/>
<rect y="582" width="1" height="2.4" fill="#a4bdce"/>
<rect y="584" width="1" height="5.4" fill="#a0b8cb"/>
<rect y="589" width="1" height="5.4" fill="#aec5d4"/>
<rect y="594" width="1" height="6.4" fill="#b3c9d7"/>
<rect y="600" width="1" height="4.4" fill="#bbd0da"/>
<rect y="604" width="1" height="6.4" fill="#a9c1cf"/>
<rect y="610" width="1" height="5.4" fill="#a7bfce"/>
<rect y="615" width="1" height="4.4" fill="#b7cdd8"/>
<rect y="619" width="1" height="3.4" fill="#b4cad6"/>
<rect y="622" width="1" height="4.4" fill="#dbe8e4"/>
<rect y="626" width="1" height="3.4" fill="#dae8e4"/>
<rect y="629" width="1" height="6.4" fill="#f3f0bc"/>
<rect y="635" width="1" height="4.4" fill="#f3f1bf"/>
<rect y="639" width="1" height="6.4" fill="#f3f0be"/>
<rect y="645" width="1" height="5.4" fill="#93abc0"/>
<rect y="650" width="1" height="2.4" fill="#93aac0"/>
<rect y="652" width="1" height="2.4" fill="#aac1cf"/>
<rect y="654" width="1" height="4.4" fill="#a2baca"/>
<rect y="658" width="1" height="4.4" fill="#a1b9c9"/>
<rect y="662" width="1" height="6.4" fill="#a5bdcc"/>
<rect y="668" width="1" height="4.4" fill="#9eb6c7"/>
<rect y="672" width="1" height="5.4" fill="#7a91b3"/>
<rect y="677" width="1" height="4.4" fill="#778eb0"/>
<rect y="681" width="1" height="5.4" fill="#f0b47a"/>
<rect y="686" width="1" height="6.4" fill="#eb825b"/>
<rect y="692" width="1" height="3.4" fill="#ec895d"/>
<rect y="695" width="1" height="3.4" fill="#ec875d"/>
<rect y="698" width="1" height="4.4" fill="#ed9362"/>
<rect y="702" width="1" height="2.4" fill="#ed9161"/>
<rect y="704" width="1" height="5.4" fill="#f3d391"/>
<rect y="709" width="1" height="2.4" fill="#f3db99"/>
<rect y="711" width="1" height="5.4" fill="#f3dd9a"/>
<rect y="716" width="1" height="3.4" fill="#f3d190"/>
<rect y="719" width="1" height="2.4" fill="#f3d492"/>
<rect y="721" width="1" height="5.4" fill="#f3ce8d"/>
<rect y="726" width="1" height="5.4" fill="#f3d996"/>
<rect y="731" width="1" height="5.4" fill="#f3d18f"/>
<rect y="736" width="1" height="6.4" fill="#f3d08e"/>
<rect y="742" width="1" height="2.4" fill="#f3da97"/>
<rect y="744" width="1" height="3.4" fill="#f3d593"/>
<rect y="747" width="1" height="3.4" fill="#f3d290"/>
<rect y="750" width="1" height="5.4" fill="#f3df9c"/>
<rect y="755" width="1" height="2.4" fill="#f3d08e"/>
<rect y="757" width="1" height="5.4" fill="#f3d996"/>
<rect y="762" width="1" height="5.4" fill="#d9e7e4"/>
<rect y="767" width="1" height="2.4" fill="#e4ecda"/>
<rect y="769" width="1" height="3.4" fill="#d7e6e4"/>
<rect y="772" width="1" height="6.4" fill="#f2efc1"/>
<rect y="778" width="1" height="3.4" fill="#ebeecf"/>
<rect y="781" width="1" height="2.4" fill="#f2efc1"/>
<rect y="783" width="1" height="6.4" fill="#edeecb"/>
<rect y="789" width="1" height="3.4" fill="#f2eebd"/>
<rect y="792" width="1" height="7.4" fill="#f0efc6"/>
</g>
<g transform="translate(1270.00,0) scale(149.40,1)">
<rect y="68" width="1" height="5.4" fill="#bccdd6"/>
<rect y="73" width="1" height="3.4" fill="#d1dede"/>
<rect y="76" width="1" height="2.4" fill="#c6d5dc"/>
<rect y="78" width="1" height="6.4" fill="#a1bacb"/>
<rect y="84" width="1" height="5.4" fill="#9db5c8"/>
<rect y="89" width="1" height="3.4" fill="#a8c0cf"/>
<rect y="92" width="1" height="5.4" fill="#dae8e0"/>
<rect y="97" width="1" height="2.4" fill="#d5e4e0"/>
<rect y="99" width="1" height="6.4" fill="#d2e2e1"/>
<rect y="105" width="1" height="4.4" fill="#a7c1d1"/>
<rect y="109" width="1" height="6.4" fill="#a7c1d1"/>
<rect y="115" width="1" height="2.4" fill="#a3bdce"/>
<rect y="117" width="1" height="4.4" fill="#b0c8d6"/>
<rect y="121" width="1" height="2.4" fill="#adc6d5"/>
<rect y="123" width="1" height="3.4" fill="#97b1c1"/>
<rect y="126" width="1" height="4.4" fill="#8ea7ba"/>
<rect y="130" width="1" height="5.4" fill="#ccdde3"/>
<rect y="135" width="1" height="4.4" fill="#dbe7e2"/>
<rect y="139" width="1" height="6.4" fill="#f3d493"/>
<rect y="145" width="1" height="2.4" fill="#f3d291"/>
<rect y="147" width="1" height="6.4" fill="#f3dd9b"/>
<rect y="153" width="1" height="6.4" fill="#f3d493"/>
<rect y="159" width="1" height="4.4" fill="#f3d594"/>
<rect y="163" width="1" height="3.4" fill="#f3d594"/>
<rect y="166" width="1" height="2.4" fill="#f3da98"/>
<rect y="168" width="1" height="4.4" fill="#ee8b62"/>
<rect y="172" width="1" height="4.4" fill="#ee9265"/>
<rect y="176" width="1" height="4.4" fill="#f09d6a"/>
<rect y="180" width="1" height="5.4" fill="#ef9968"/>
<rect y="185" width="1" height="2.4" fill="#ef9868"/>
<rect y="187" width="1" height="3.4" fill="#ef9566"/>
<rect y="190" width="1" height="3.4" fill="#f0a36d"/>
<rect y="193" width="1" height="3.4" fill="#f3db9a"/>
<rect y="196" width="1" height="2.4" fill="#f3cf90"/>
<rect y="198" width="1" height="3.4" fill="#f3df9d"/>
<rect y="201" width="1" height="6.4" fill="#f3ce8e"/>
<rect y="207" width="1" height="4.4" fill="#f3ca8b"/>
<rect y="211" width="1" height="2.4" fill="#f0ecb4"/>
<rect y="213" width="1" height="5.4" fill="#e8eeca"/>
<rect y="218" width="1" height="3.4" fill="#efeeba"/>
<rect y="221" width="1" height="2.4" fill="#efeebb"/>
<rect y="223" width="1" height="4.4" fill="#f0ecb6"/>
<rect y="227" width="1" height="5.4" fill="#e8eeca"/>
<rect y="232" width="1" height="5.4" fill="#f3d894"/>
<rect y="237" width="1" height="3.4" fill="#f3db96"/>
<rect y="240" width="1" height="3.4" fill="#f2e9ae"/>
<rect y="243" width="1" height="4.4" fill="#f3dc99"/>
<rect y="247" width="1" height="3.4" fill="#f3e39f"/>
<rect y="250" width="1" height="4.4" fill="#f3dd99"/>
<rect y="254" width="1" height="3.4" fill="#f2e7a9"/>
<rect y="257" width="1" height="3.4" fill="#f3df9b"/>
<rect y="260" width="1" height="6.4" fill="#f3e5a4"/>
<rect y="266" width="1" height="3.4" fill="#f2e7aa"/>
<rect y="269" width="1" height="4.4" fill="#efa56d"/>
<rect y="273" width="1" height="6.4" fill="#f0ac72"/>
<rect y="279" width="1" height="4.4" fill="#f1b477"/>
<rect y="283" width="1" height="4.4" fill="#f0ad73"/>
<rect y="287" width="1" height="3.4" fill="#f0a86f"/>
<rect y="290" width="1" height="5.4" fill="#e6714f"/>
<rect y="295" width="1" height="4.4" fill="#ec7d57"/>
<rect y="299" width="1" height="2.4" fill="#e56f4e"/>
<rect y="301" width="1" height="2.4" fill="#bfd1d7"/>
<rect y="303" width="1" height="3.4" fill="#cedcdc"/>
<rect y="306" width="1" height="5.4" fill="#d2dfdb"/>
<rect y="311" width="1" height="2.4" fill="#d3dfdb"/>
<rect y="313" width="1" height="3.4" fill="#cddbdc"/>
<rect y="316" width="1" height="5.4" fill="#d5e0db"/>
<rect y="321" width="1" height="2.4" fill="#d0dddc"/>
<rect y="323" width="1" height="6.4" fill="#aac2d1"/>
<rect y="329" width="1" height="4.4" fill="#a8c0d0"/>
<rect y="333" width="1" height="3.4" fill="#abc3d2"/>
<rect y="336" width="1" height="3.4" fill="#9ab3c7"/>
<rect y="339" width="1" height="2.4" fill="#99b1c6"/>
<rect y="341" width="1" height="3.4" fill="#acc3d2"/>
<rect y="344" width="1" height="3.4" fill="#8ca5bd"/>
<rect y="347" width="1" height="4.4" fill="#96b0c3"/>
<rect y="351" width="1" height="3.4" fill="#92abc0"/>
<rect y="354" width="1" height="3.4" fill="#839cb7"/>
<rect y="357" width="1" height="2.4" fill="#8fa8be"/>
<rect y="359" width="1" height="4.4" fill="#869eb8"/>
<rect y="363" width="1" height="3.4" fill="#97b0c4"/>
<rect y="366" width="1" height="3.4" fill="#e1ece5"/>
<rect y="369" width="1" height="2.4" fill="#ddeaea"/>
<rect y="371" width="1" height="4.4" fill="#e2ece3"/>
<rect y="375" width="1" height="6.4" fill="#d9e8ea"/>
<rect y="381" width="1" height="2.4" fill="#deebe9"/>
<rect y="383" width="1" height="6.4" fill="#d1e2eb"/>
<rect y="389" width="1" height="3.4" fill="#d0e2eb"/>
<rect y="392" width="1" height="5.4" fill="#d5e5ea"/>
<rect y="397" width="1" height="5.4" fill="#d8e7ea"/>
<rect y="402" width="1" height="4.4" fill="#dae8ea"/>
<rect y="406" width="1" height="6.4" fill="#d9e8ea"/>
<rect y="412" width="1" height="6.4" fill="#eef0cc"/>
<rect y="418" width="1" height="2.4" fill="#e6eeda"/>
<rect y="420" width="1" height="5.4" fill="#f2efbc"/>
<rect y="425" width="1" height="5.4" fill="#eef0c7"/>
<rect y="430" width="1" height="2.4" fill="#e8efd1"/>
<rect y="432" width="1" height="5.4" fill="#e6eed4"/>
<rect y="437" width="1" height="3.4" fill="#f2efbb"/>
<rect y="440" width="1" height="5.4" fill="#e7efd2"/>
<rect y="445" width="1" height="2.4" fill="#a2bbce"/>
<rect y="447" width="1" height="5.4" fill="#96afc6"/>
<rect y="452" width="1" height="2.4" fill="#a6bfd1"/>
<rect y="454" width="1" height="4.4" fill="#deebe6"/>
<rect y="458" width="1" height="2.4" fill="#dfebe4"/>
<rect y="460" width="1" height="3.4" fill="#dce9e6"/>
<rect y="463" width="1" height="5.4" fill="#f4e19b"/>
<rect y="468" width="1" height="5.4" fill="#f4e5a0"/>
<rect y="473" width="1" height="5.4" fill="#f4e39d"/>
<rect y="478" width="1" height="2.4" fill="#f4e39d"/>
<rect y="480" width="1" height="6.4" fill="#f3e8a9"/>
<rect y="486" width="1" height="2.4" fill="#f4e59f"/>
<rect y="488" width="1" height="2.4" fill="#f2ecb2"/>
<rect y="490" width="1" height="2.4" fill="#f3e6a3"/>
<rect y="492" width="1" height="6.4" fill="#eaedcb"/>
<rect y="498" width="1" height="3.4" fill="#f0edbc"/>
<rect y="501" width="1" height="2.4" fill="#f1eab4"/>
<rect y="503" width="1" height="2.4" fill="#f1ebb8"/>
<rect y="505" width="1" height="5.4" fill="#f1ebb7"/>
<rect y="510" width="1" height="3.4" fill="#eeeec3"/>
<rect y="513" width="1" height="5.4" fill="#d8e6e6"/>
<rect y="518" width="1" height="5.4" fill="#cbdee7"/>
<rect y="523" width="1" height="5.4" fill="#d4e4e6"/>
<rect y="528" width="1" height="3.4" fill="#7f97b4"/>
<rect y="531" width="1" height="3.4" fill="#7b93b2"/>
<rect y="534" width="1" height="3.4" fill="#89a1ba"/>
<rect y="537" width="1" height="3.4" fill="#859db8"/>
<rect y="540" width="1" height="5.4" fill="#8aa2bb"/>
<rect y="545" width="1" height="3.4" fill="#829ab6"/>
<rect y="548" width="1" height="4.4" fill="#778faf"/>
<rect y="552" width="1" height="4.4" fill="#8ba3bc"/>
<rect y="556" width="1" height="4.4" fill="#afc5d4"/>
<rect y="560" width="1" height="5.4" fill="#99b2c7"/>
<rect y="565" width="1" height="3.4" fill="#aac2d2"/>
<rect y="568" width="1" height="3.4" fill="#a2bbcc"/>
<rect y="571" width="1" height="2.4" fill="#b6ccd9"/>
<rect y="573" width="1" height="6.4" fill="#a0b9cb"/>
<rect y="579" width="1" height="3.4" fill="#b1c8d6"/>
<rect y="582" width="1" height="6.4" fill="#b6ccd9"/>
<rect y="588" width="1" height="3.4" fill="#a4bdce"/>
<rect y="591" width="1" height="4.4" fill="#a2bbcc"/>
<rect y="595" width="1" height="5.4" fill="#a7bfcf"/>
<rect y="600" width="1" height="3.4" fill="#89a2bb"/>
<rect y="603" width="1" height="6.4" fill="#99b2c6"/>
<rect y="609" width="1" height="3.4" fill="#849db8"/>
<rect y="612" width="1" height="3.4" fill="#8fa8bf"/>
<rect y="615" width="1" height="5.4" fill="#869fba"/>
<rect y="620" width="1" height="2.4" fill="#97afc6"/>
<rect y="622" width="1" height="5.4" fill="#a1b9cc"/>
<rect y="627" width="1" height="2.4" fill="#afc6d6"/>
<rect y="629" width="1" height="4.4" fill="#6f85a7"/>
<rect y="633" width="1" height="4.4" fill="#6d83a5"/>
<rect y="637" width="1" height="6.4" fill="#7188a9"/>
<rect y="643" width="1" height="2.4" fill="#6d82a5"/>
<rect y="645" width="1" height="2.4" fill="#d0e0e0"/>
<rect y="647" width="1" height="2.4" fill="#ccdde0"/>
<rect y="649" width="1" height="4.4" fill="#c5d8e0"/>
<rect y="653" width="1" height="2.4" fill="#d5e3e0"/>
<rect y="655" width="1" height="4.4" fill="#d4e3e0"/>
<rect y="659" width="1" height="5.4" fill="#cddee0"/>
<rect y="664" width="1" height="3.4" fill="#d1e0e0"/>
<rect y="667" width="1" height="3.4" fill="#cbdce0"/>
<rect y="670" width="1" height="2.4" fill="#c7d9e1"/>
<rect y="672" width="1" height="4.4" fill="#dceae6"/>
<rect y="676" width="1" height="7.4" fill="#deebe5"/>
<rect y="683" width="1" height="3.4" fill="#6378a2"/>
<rect y="686" width="1" height="5.4" fill="#687fa7"/>
<rect y="691" width="1" height="5.4" fill="#5f739e"/>
<rect y="696" width="1" height="4.4" fill="#677ca5"/>
<rect y="700" width="1" height="3.4" fill="#667ba5"/>
<rect y="703" width="1" height="5.4" fill="#687ea7"/>
<rect y="708" width="1" height="6.4" fill="#6276a1"/>
<rect y="714" width="1" height="6.4" fill="#5f729e"/>
<rect y="720" width="1" height="2.4" fill="#5f729e"/>
<rect y="722" width="1" height="6.4" fill="#839cb6"/>
<rect y="728" width="1" height="5.4" fill="#99b2c5"/>
<rect y="733" width="1" height="2.4" fill="#657aa5"/>
<rect y="735" width="1" height="4.4" fill="#677da7"/>
<rect y="739" width="1" height="6.4" fill="#6479a4"/>
<rect y="745" width="1" height="4.4" fill="#5d6f9d"/>
<rect y="749" width="1" height="2.4" fill="#6276a2"/>
<rect y="751" width="1" height="2.4" fill="#6479a4"/>
<rect y="753" width="1" height="5.4" fill="#667ca6"/>
<rect y="758" width="1" height="3.4" fill="#89a1bd"/>
<rect y="761" width="1" height="5.4" fill="#7890b2"/>
<rect y="766" width="1" height="6.4" fill="#8199b7"/>
<rect y="772" width="1" height="4.4" fill="#7b93b3"/>
<rect y="776" width="1" height="5.4" fill="#8098b6"/>
<rect y="781" width="1" height="3.4" fill="#89a2bd"/>
<rect y="784" width="1" height="4.4" fill="#778eb0"/>
<rect y="788" width="1" height="3.4" fill="#88a0bc"/>
<rect y="791" width="1" height="4.4" fill="#7c94b4"/>
<rect y="795" width="1" height="4.4" fill="#7e96b6"/>
</g>
<g transform="translate(1419.00,0) scale(149.40,1)">
<rect y="68" width="1" height="3.4" fill="#9fb8c9"/>
<rect y="71" width="1" height="6.4" fill="#b0c7d4"/>
<rect y="77" width="1" height="3.4" fill="#aec5d3"/>
<rect y="80" width="1" height="6.4" fill="#9cb5c7"/>
<rect y="86" width="1" height="6.4" fill="#afc6d3"/>
<rect y="92" width="1" height="5.4" fill="#758bae"/>
<rect y="97" width="1" height="5.4" fill="#6e81a7"/>
<rect y="102" width="1" height="3.4" fill="#788eb1"/>
<rect y="105" width="1" height="3.4" fill="#b4c8d8"/>
<rect y="108" width="1" height="6.4" fill="#9cb4c9"/>
<rect y="114" width="1" height="2.4" fill="#a3bacd"/>
<rect y="116" width="1" height="5.4" fill="#a1b8cc"/>
<rect y="121" width="1" height="2.4" fill="#ecefcb"/>
<rect y="123" width="1" height="5.4" fill="#ecefcb"/>
<rect y="128" width="1" height="6.4" fill="#eef0c8"/>
<rect y="134" width="1" height="4.4" fill="#eaefce"/>
<rect y="138" width="1" height="6.4" fill="#e3edda"/>
<rect y="144" width="1" height="5.4" fill="#ef9565"/>
<rect y="149" width="1" height="5.4" fill="#f09967"/>
<rect y="154" width="1" height="3.4" fill="#ee8b61"/>
<rect y="157" width="1" height="2.4" fill="#ef9164"/>
<rect y="159" width="1" height="3.4" fill="#f09766"/>
<rect y="162" width="1" height="3.4" fill="#ee8c62"/>
<rect y="165" width="1" height="3.4" fill="#ed845e"/>
<rect y="168" width="1" height="3.4" fill="#efedc4"/>
<rect y="171" width="1" height="2.4" fill="#efeec4"/>
<rect y="173" width="1" height="6.4" fill="#f2e9b3"/>
<rect y="179" width="1" height="3.4" fill="#f1edbe"/>
<rect y="182" width="1" height="3.4" fill="#f2e9b1"/>
<rect y="185" width="1" height="6.4" fill="#eeedc4"/>
<rect y="191" width="1" height="2.4" fill="#f2e9b2"/>
<rect y="193" width="1" height="6.4" fill="#667ca5"/>
<rect y="199" width="1" height="4.4" fill="#6176a1"/>
<rect y="203" width="1" height="2.4" fill="#6377a2"/>
<rect y="205" width="1" height="2.4" fill="#6377a2"/>
<rect y="207" width="1" height="4.4" fill="#667ba5"/>
<rect y="211" width="1" height="4.4" fill="#60749f"/>
<rect y="215" width="1" height="4.4" fill="#6479a3"/>
<rect y="219" width="1" height="3.4" fill="#6a82a9"/>
<rect y="222" width="1" height="4.4" fill="#657aa4"/>
<rect y="226" width="1" height="2.4" fill="#667ca5"/>
<rect y="228" width="1" height="6.4" fill="#6175a0"/>
<rect y="234" width="1" height="2.4" fill="#6176a1"/>
<rect y="236" width="1" height="4.4" fill="#6377a2"/>
<rect y="240" width="1" height="5.4" fill="#61729e"/>
<rect y="245" width="1" height="3.4" fill="#5c6c99"/>
<rect y="248" width="1" height="3.4" fill="#5e6f9c"/>
<rect y="251" width="1" height="2.4" fill="#5f6f9c"/>
<rect y="253" width="1" height="4.4" fill="#98b1c5"/>
<rect y="257" width="1" height="4.4" fill="#acc3d1"/>
<rect y="261" width="1" height="2.4" fill="#8fa8bf"/>
<rect y="263" width="1" height="6.4" fill="#94adc2"/>
<rect y="269" width="1" height="3.4" fill="#a0b9ca"/>
<rect y="272" width="1" height="4.4" fill="#a9c1d0"/>
<rect y="276" width="1" height="6.4" fill="#91a9c0"/>
<rect y="282" width="1" height="3.4" fill="#a5becd"/>
<rect y="285" width="1" height="3.4" fill="#a9c1d0"/>
<rect y="288" width="1" height="5.4" fill="#aac2d0"/>
<rect y="293" width="1" height="4.4" fill="#9bb3c6"/>
<rect y="297" width="1" height="3.4" fill="#f1e3b2"/>
<rect y="300" width="1" height="5.4" fill="#e9e7ce"/>
<rect y="305" width="1" height="5.4" fill="#f3c182"/>
<rect y="310" width="1" height="3.4" fill="#f2b87c"/>
<rect y="313" width="1" height="3.4" fill="#f3c283"/>
<rect y="316" width="1" height="4.4" fill="#f2b57a"/>
<rect y="320" width="1" height="3.4" fill="#f2b97d"/>
<rect y="323" width="1" height="5.4" fill="#ee8c5e"/>
<rect y="328" width="1" height="6.4" fill="#ee8c5e"/>
<rect y="334" width="1" height="5.4" fill="#e77552"/>
<rect y="339" width="1" height="2.4" fill="#ee8d5f"/>
<rect y="341" width="1" height="4.4" fill="#ef9567"/>
<rect y="345" width="1" height="4.4" fill="#f0a670"/>
<rect y="349" width="1" height="3.4" fill="#f0a46f"/>
<rect y="352" width="1" height="6.4" fill="#f0a46f"/>
<rect y="358" width="1" height="5.4" fill="#f09f6c"/>
<rect y="363" width="1" height="3.4" fill="#f09e6b"/>
<rect y="366" width="1" height="4.4" fill="#d5e5ea"/>
<rect y="370" width="1" height="4.4" fill="#d6e5ea"/>
<rect y="374" width="1" height="2.4" fill="#d4e4eb"/>
<rect y="376" width="1" height="6.4" fill="#d4e4eb"/>
<rect y="382" width="1" height="5.4" fill="#dfebe8"/>
<rect y="387" width="1" height="2.4" fill="#d1e2eb"/>
<rect y="389" width="1" height="6.4" fill="#dbe9ea"/>
<rect y="395" width="1" height="4.4" fill="#d7e6ea"/>
<rect y="399" width="1" height="3.4" fill="#dceaea"/>
<rect y="402" width="1" height="5.4" fill="#deebea"/>
<rect y="407" width="1" height="6.4" fill="#dceaea"/>
<rect y="413" width="1" height="3.4" fill="#dae8ea"/>
<rect y="416" width="1" height="4.4" fill="#b9cfd9"/>
<rect y="420" width="1" height="6.4" fill="#d1dedf"/>
<rect y="426" width="1" height="4.4" fill="#bdcfda"/>
<rect y="430" width="1" height="4.4" fill="#ccdae0"/>
<rect y="434" width="1" height="2.4" fill="#c6d6df"/>
<rect y="436" width="1" height="3.4" fill="#9cb4c7"/>
<rect y="439" width="1" height="6.4" fill="#afc6d3"/>
<rect y="445" width="1" height="6.4" fill="#d9e8e6"/>
<rect y="451" width="1" height="6.4" fill="#d9e8e6"/>
<rect y="457" width="1" height="4.4" fill="#d9e8e6"/>
<rect y="461" width="1" height="4.4" fill="#e9ebcc"/>
<rect y="465" width="1" height="6.4" fill="#f0eabb"/>
<rect y="471" width="1" height="3.4" fill="#f1e9b7"/>
<rect y="474" width="1" height="3.4" fill="#f0ebbd"/>
<rect y="477" width="1" height="5.4" fill="#edebc6"/>
<rect y="482" width="1" height="3.4" fill="#f0ebbd"/>
<rect y="485" width="1" height="4.4" fill="#f3ca8b"/>
<rect y="489" width="1" height="3.4" fill="#f3c286"/>
<rect y="492" width="1" height="4.4" fill="#ce4d3d"/>
<rect y="496" width="1" height="2.4" fill="#cb483b"/>
<rect y="498" width="1" height="2.4" fill="#c9463a"/>
<rect y="500" width="1" height="2.4" fill="#c9463a"/>
<rect y="502" width="1" height="4.4" fill="#ca473b"/>
<rect y="506" width="1" height="4.4" fill="#cf4e3e"/>
<rect y="510" width="1" height="3.4" fill="#cf4e3e"/>
<rect y="513" width="1" height="4.4" fill="#cf4e3e"/>
<rect y="517" width="1" height="6.4" fill="#cd4c3d"/>
<rect y="523" width="1" height="5.4" fill="#cd4c3d"/>
<rect y="528" width="1" height="3.4" fill="#f09867"/>
<rect y="531" width="1" height="2.4" fill="#f09d69"/>
<rect y="533" width="1" height="4.4" fill="#ee8b61"/>
<rect y="537" width="1" height="5.4" fill="#ef8f63"/>
<rect y="542" width="1" height="2.4" fill="#ee8b61"/>
<rect y="544" width="1" height="5.4" fill="#f09968"/>
<rect y="549" width="1" height="6.4" fill="#f1a971"/>
<rect y="555" width="1" height="5.4" fill="#f09e6a"/>
<rect y="560" width="1" height="4.4" fill="#ef9164"/>
<rect y="564" width="1" height="6.4" fill="#ed8960"/>
<rect y="570" width="1" height="4.4" fill="#ed885f"/>
<rect y="574" width="1" height="5.4" fill="#ee9063"/>
<rect y="579" width="1" height="5.4" fill="#ee8d62"/>
<rect y="584" width="1" height="4.4" fill="#ed815c"/>
<rect y="588" width="1" height="3.4" fill="#ee9063"/>
<rect y="591" width="1" height="3.4" fill="#ee8a60"/>
<rect y="594" width="1" height="4.4" fill="#f09d69"/>
<rect y="598" width="1" height="2.4" fill="#ef9a68"/>
<rect y="600" width="1" height="6.4" fill="#ef9464"/>
<rect y="606" width="1" height="6.4" fill="#ed815c"/>
<rect y="612" width="1" height="6.4" fill="#ee8960"/>
<rect y="618" width="1" height="2.4" fill="#ef9565"/>
<rect y="620" width="1" height="6.4" fill="#f3cf8d"/>
<rect y="626" width="1" height="3.4" fill="#f3ca89"/>
<rect y="629" width="1" height="5.4" fill="#f3dc98"/>
<rect y="634" width="1" height="3.4" fill="#f3da97"/>
<rect y="637" width="1" height="6.4" fill="#f3e09c"/>
<rect y="643" width="1" height="2.4" fill="#f3d995"/>
<rect y="645" width="1" height="3.4" fill="#df6249"/>
<rect y="648" width="1" height="3.4" fill="#d45240"/>
<rect y="651" width="1" height="2.4" fill="#da5944"/>
<rect y="653" width="1" height="3.4" fill="#dd5e46"/>
<rect y="656" width="1" height="4.4" fill="#d95843"/>
<rect y="660" width="1" height="2.4" fill="#d55340"/>
<rect y="662" width="1" height="2.4" fill="#d85743"/>
<rect y="664" width="1" height="6.4" fill="#d95843"/>
<rect y="670" width="1" height="2.4" fill="#d65441"/>
<rect y="672" width="1" height="5.4" fill="#f09e6a"/>
<rect y="677" width="1" height="5.4" fill="#f2b579"/>
<rect y="682" width="1" height="2.4" fill="#f0a16b"/>
<rect y="684" width="1" height="4.4" fill="#f1a971"/>
<rect y="688" width="1" height="6.4" fill="#f3eaaf"/>
<rect y="694" width="1" height="4.4" fill="#f3e6a1"/>
<rect y="698" width="1" height="2.4" fill="#f3e9aa"/>
<rect y="700" width="1" height="6.4" fill="#f4e59f"/>
<rect y="706" width="1" height="5.4" fill="#f2edb5"/>
<rect y="711" width="1" height="3.4" fill="#dd6149"/>
<rect y="714" width="1" height="5.4" fill="#e26a4f"/>
<rect y="719" width="1" height="2.4" fill="#df644b"/>
<rect y="721" width="1" height="5.4" fill="#e0664c"/>
<rect y="726" width="1" height="3.4" fill="#e36b50"/>
<rect y="729" width="1" height="4.4" fill="#da5d46"/>
<rect y="733" width="1" height="4.4" fill="#f3cd8d"/>
<rect y="737" width="1" height="2.4" fill="#f3ce8e"/>
<rect y="739" width="1" height="3.4" fill="#f3cd8e"/>
<rect y="742" width="1" height="3.4" fill="#f2b67d"/>
<rect y="745" width="1" height="2.4" fill="#f2be82"/>
<rect y="747" width="1" height="4.4" fill="#f3cc8d"/>
<rect y="751" width="1" height="7.4" fill="#f3cd8e"/>
<rect y="758" width="1" height="6.4" fill="#dd6348"/>
<rect y="764" width="1" height="3.4" fill="#e87857"/>
<rect y="767" width="1" height="3.4" fill="#df674c"/>
<rect y="770" width="1" height="2.4" fill="#e67254"/>
<rect y="772" width="1" height="4.4" fill="#e47052"/>
<rect y="776" width="1" height="2.4" fill="#e77556"/>
<rect y="778" width="1" height="2.4" fill="#dd6348"/>
<rect y="780" width="1" height="5.4" fill="#e97858"/>
<rect y="785" width="1" height="4.4" fill="#e26c4f"/>
<rect y="789" width="1" height="4.4" fill="#df674b"/>
<rect y="793" width="1" height="3.4" fill="#e87857"/>
<rect y="796" width="1" height="3.4" fill="#db5f46"/>
</g>
<g transform="translate(1568.00,0) scale(149.40,1)">
<rect y="68" width="1" height="2.4" fill="#f3d996"/>
<rect y="70" width="1" height="4.4" fill="#f3d996"/>
<rect y="74" width="1" height="3.4" fill="#f3db97"/>
<rect y="77" width="1" height="6.4" fill="#f3d492"/>
<rect y="83" width="1" height="6.4" fill="#f3c786"/>
<rect y="89" width="1" height="3.4" fill="#f3d290"/>
<rect y="92" width="1" height="2.4" fill="#f3d794"/>
<rect y="94" width="1" height="2.4" fill="#ef9667"/>
<rect y="96" width="1" height="5.4" fill="#ed815e"/>
<rect y="101" width="1" height="2.4" fill="#ef9567"/>
<rect y="103" width="1" height="4.4" fill="#ee8861"/>
<rect y="107" width="1" height="5.4" fill="#ef8f64"/>
<rect y="112" width="1" height="2.4" fill="#ef9768"/>
<rect y="114" width="1" height="6.4" fill="#d85741"/>
<rect y="120" width="1" height="2.4" fill="#cf4a3b"/>
<rect y="122" width="1" height="5.4" fill="#cf4b3b"/>
<rect y="127" width="1" height="3.4" fill="#d4523f"/>
<rect y="130" width="1" height="6.4" fill="#d3513e"/>
<rect y="136" width="1" height="2.4" fill="#ce4a3b"/>
<rect y="138" width="1" height="6.4" fill="#d55340"/>
<rect y="144" width="1" height="2.4" fill="#d04b3c"/>
<rect y="146" width="1" height="6.4" fill="#6274a0"/>
<rect y="152" width="1" height="2.4" fill="#6376a2"/>
<rect y="154" width="1" height="4.4" fill="#697ea7"/>
<rect y="158" width="1" height="3.4" fill="#687ca5"/>
<rect y="161" width="1" height="5.4" fill="#6274a0"/>
<rect y="166" width="1" height="5.4" fill="#697ea7"/>
<rect y="171" width="1" height="3.4" fill="#6a7fa8"/>
<rect y="174" width="1" height="2.4" fill="#6579a3"/>
<rect y="176" width="1" height="6.4" fill="#697ea7"/>
<rect y="182" width="1" height="4.4" fill="#667aa4"/>
<rect y="186" width="1" height="3.4" fill="#667aa4"/>
<rect y="189" width="1" height="4.4" fill="#6a7fa8"/>
<rect y="193" width="1" height="3.4" fill="#eeeec4"/>
<rect y="196" width="1" height="3.4" fill="#f1eab3"/>
<rect y="199" width="1" height="2.4" fill="#f1edbb"/>
<rect y="201" width="1" height="5.4" fill="#f1ebb5"/>
<rect y="206" width="1" height="2.4" fill="#f1eab4"/>
<rect y="208" width="1" height="2.4" fill="#f0eec0"/>
<rect y="210" width="1" height="3.4" fill="#f1eab4"/>
<rect y="213" width="1" height="3.4" fill="#f0eebf"/>
<rect y="216" width="1" height="6.4" fill="#f0eec0"/>
<rect y="222" width="1" height="3.4" fill="#f2be81"/>
<rect y="225" width="1" height="4.4" fill="#f3cf8f"/>
<rect y="229" width="1" height="6.4" fill="#f2c082"/>
<rect y="235" width="1" height="5.4" fill="#f3d391"/>
<rect y="240" width="1" height="4.4" fill="#f0aa70"/>
<rect y="244" width="1" height="5.4" fill="#f0b074"/>
<rect y="249" width="1" height="4.4" fill="#f1b87a"/>
<rect y="253" width="1" height="5.4" fill="#bfd3de"/>
<rect y="258" width="1" height="5.4" fill="#bbd0dc"/>
<rect y="263" width="1" height="6.4" fill="#b6ccd9"/>
<rect y="269" width="1" height="5.4" fill="#b3c9d7"/>
<rect y="274" width="1" height="4.4" fill="#b4cad7"/>
<rect y="278" width="1" height="6.4" fill="#c4d7e1"/>
<rect y="284" width="1" height="5.4" fill="#a9c1d1"/>
<rect y="289" width="1" height="5.4" fill="#aec5d4"/>
<rect y="294" width="1" height="6.4" fill="#9eb7cb"/>
<rect y="300" width="1" height="6.4" fill="#9bb4c9"/>
<rect y="306" width="1" height="3.4" fill="#91aac3"/>
<rect y="309" width="1" height="4.4" fill="#96aec6"/>
<rect y="313" width="1" height="3.4" fill="#90a9c3"/>
<rect y="316" width="1" height="5.4" fill="#aac2d3"/>
<rect y="321" width="1" height="6.4" fill="#93acc4"/>
<rect y="327" width="1" height="6.4" fill="#a2bbce"/>
<rect y="333" width="1" height="3.4" fill="#94adc5"/>
<rect y="336" width="1" height="5.4" fill="#96aec6"/>
<rect y="341" width="1" height="3.4" fill="#cbdee3"/>
<rect y="344" width="1" height="2.4" fill="#ccdee3"/>
<rect y="346" width="1" height="3.4" fill="#d7e6e3"/>
<rect y="349" width="1" height="6.4" fill="#dbe9e2"/>
<rect y="355" width="1" height="6.4" fill="#dbe9e2"/>
<rect y="361" width="1" height="5.4" fill="#d0e1e3"/>
<rect y="366" width="1" height="4.4" fill="#e0ece6"/>
<rect y="370" width="1" height="3.4" fill="#d6e6ea"/>
<rect y="373" width="1" height="3.4" fill="#d2e3eb"/>
<rect y="376" width="1" height="3.4" fill="#d9e8ea"/>
<rect y="379" width="1" height="3.4" fill="#dbe9ea"/>
<rect y="382" width="1" height="4.4" fill="#dae8ea"/>
<rect y="386" width="1" height="6.4" fill="#e0ebe7"/>
<rect y="392" width="1" height="2.4" fill="#d8e7ea"/>
<rect y="394" width="1" height="5.4" fill="#dbe9ea"/>
<rect y="399" width="1" height="2.4" fill="#e3ece1"/>
<rect y="401" width="1" height="5.4" fill="#e1ece5"/>
<rect y="406" width="1" height="4.4" fill="#d1e2eb"/>
<rect y="410" width="1" height="2.4" fill="#dce9ea"/>
<rect y="412" width="1" height="3.4" fill="#dceaea"/>
<rect y="415" width="1" height="3.4" fill="#deebea"/>
<rect y="418" width="1" height="2.4" fill="#e0ebe7"/>
<rect y="420" width="1" height="6.4" fill="#b9ced9"/>
<rect y="426" width="1" height="2.4" fill="#bed2dc"/>
<rect y="428" width="1" height="2.4" fill="#c7dae1"/>
<rect y="430" width="1" height="3.4" fill="#cddde1"/>
<rect y="433" width="1" height="3.4" fill="#cedee1"/>
<rect y="436" width="1" height="4.4" fill="#f2eeb9"/>
<rect y="440" width="1" height="3.4" fill="#eaefcd"/>
<rect y="443" width="1" height="2.4" fill="#eff0c4"/>
<rect y="445" width="1" height="2.4" fill="#e7eed3"/>
<rect y="447" width="1" height="6.4" fill="#f2efbc"/>
<rect y="453" width="1" height="2.4" fill="#f0f0c2"/>
<rect y="455" width="1" height="6.4" fill="#eaefcd"/>
<rect y="461" width="1" height="2.4" fill="#eff0c4"/>
<rect y="463" width="1" height="6.4" fill="#6d84ab"/>
<rect y="469" width="1" height="4.4" fill="#758eb2"/>
<rect y="473" width="1" height="2.4" fill="#768fb2"/>
<rect y="475" width="1" height="2.4" fill="#6d83aa"/>
<rect y="477" width="1" height="6.4" fill="#7790b3"/>
<rect y="483" width="1" height="2.4" fill="#738bb0"/>
<rect y="485" width="1" height="2.4" fill="#7790b4"/>
<rect y="487" width="1" height="3.4" fill="#7790b4"/>
<rect y="490" width="1" height="4.4" fill="#ebe9e8"/>
<rect y="494" width="1" height="3.4" fill="#f4ecdd"/>
<rect y="497" width="1" height="3.4" fill="#b7ccda"/>
<rect y="500" width="1" height="3.4" fill="#bdd1dd"/>
<rect y="503" width="1" height="3.4" fill="#a8c0d0"/>
<rect y="506" width="1" height="5.4" fill="#b3c9d7"/>
<rect y="511" width="1" height="2.4" fill="#b2c8d7"/>
<rect y="513" width="1" height="2.4" fill="#bcd1dd"/>
<rect y="515" width="1" height="3.4" fill="#c2d5e1"/>
<rect y="518" width="1" height="3.4" fill="#aec5d5"/>
<rect y="521" width="1" height="3.4" fill="#b0c7d6"/>
<rect y="524" width="1" height="2.4" fill="#bed2de"/>
<rect y="526" width="1" height="2.4" fill="#b1c8d6"/>
<rect y="528" width="1" height="3.4" fill="#d8b890"/>
<rect y="531" width="1" height="3.4" fill="#e97754"/>
<rect y="534" width="1" height="2.4" fill="#ee885e"/>
<rect y="536" width="1" height="3.4" fill="#ed815a"/>
<rect y="539" width="1" height="6.4" fill="#ee865c"/>
<rect y="545" width="1" height="3.4" fill="#ee8c5f"/>
<rect y="548" width="1" height="4.4" fill="#ec7d58"/>
<rect y="552" width="1" height="3.4" fill="#e87653"/>
<rect y="555" width="1" height="5.4" fill="#e97854"/>
<rect y="560" width="1" height="2.4" fill="#e87653"/>
<rect y="562" width="1" height="2.4" fill="#e97854"/>
<rect y="564" width="1" height="4.4" fill="#ef8f65"/>
<rect y="568" width="1" height="4.4" fill="#f1a671"/>
<rect y="572" width="1" height="2.4" fill="#f19e6c"/>
<rect y="574" width="1" height="2.4" fill="#f1a671"/>
<rect y="576" width="1" height="6.4" fill="#f19b6a"/>
<rect y="582" width="1" height="6.4" fill="#f09869"/>
<rect y="588" width="1" height="4.4" fill="#f1a570"/>
<rect y="592" width="1" height="6.4" fill="#f09467"/>
<rect y="598" width="1" height="2.4" fill="#f09467"/>
<rect y="600" width="1" height="2.4" fill="#f1b07a"/>
<rect y="602" width="1" height="3.4" fill="#f0a773"/>
<rect y="605" width="1" height="3.4" fill="#f1af79"/>
<rect y="608" width="1" height="3.4" fill="#ef9469"/>
<rect y="611" width="1" height="2.4" fill="#f0a572"/>
<rect y="613" width="1" height="5.4" fill="#ee9369"/>
<rect y="618" width="1" height="4.4" fill="#ef986b"/>
<rect y="622" width="1" height="4.4" fill="#dc6047"/>
<rect y="626" width="1" height="3.4" fill="#db5e46"/>
<rect y="629" width="1" height="3.4" fill="#d85944"/>
<rect y="632" width="1" height="4.4" fill="#da5c46"/>
<rect y="636" width="1" height="3.4" fill="#d95b45"/>
<rect y="639" width="1" height="4.4" fill="#dc5f47"/>
<rect y="643" width="1" height="2.4" fill="#e26a4f"/>
<rect y="645" width="1" height="2.4" fill="#f3c386"/>
<rect y="647" width="1" height="3.4" fill="#f3cb8c"/>
<rect y="650" width="1" height="5.4" fill="#f3da99"/>
<rect y="655" width="1" height="3.4" fill="#f3c98a"/>
<rect y="658" width="1" height="2.4" fill="#f3c486"/>
<rect y="660" width="1" height="2.4" fill="#f3cd8e"/>
<rect y="662" width="1" height="5.4" fill="#f3d191"/>
<rect y="667" width="1" height="5.4" fill="#f3ce8e"/>
<rect y="672" width="1" height="6.4" fill="#f0a870"/>
<rect y="678" width="1" height="3.4" fill="#ee9063"/>
<rect y="681" width="1" height="3.4" fill="#f3e49f"/>
<rect y="684" width="1" height="2.4" fill="#f3e5a1"/>
<rect y="686" width="1" height="4.4" fill="#f3dc98"/>
<rect y="690" width="1" height="6.4" fill="#f3e5a1"/>
<rect y="696" width="1" height="2.4" fill="#f3e29e"/>
<rect y="698" width="1" height="3.4" fill="#f3e29e"/>
<rect y="701" width="1" height="4.4" fill="#f3d592"/>
<rect y="705" width="1" height="6.4" fill="#f3d28f"/>
<rect y="711" width="1" height="2.4" fill="#dae7e1"/>
<rect y="713" width="1" height="2.4" fill="#dae7e1"/>
<rect y="715" width="1" height="5.4" fill="#e3ebda"/>
<rect y="720" width="1" height="6.4" fill="#eaedcd"/>
<rect y="726" width="1" height="3.4" fill="#dce9e1"/>
<rect y="729" width="1" height="4.4" fill="#dfeae0"/>
<rect y="733" width="1" height="3.4" fill="#f1b87b"/>
<rect y="736" width="1" height="4.4" fill="#f1b578"/>
<rect y="740" width="1" height="2.4" fill="#efa26b"/>
<rect y="742" width="1" height="3.4" fill="#ef9f69"/>
<rect y="745" width="1" height="4.4" fill="#f1b77a"/>
<rect y="749" width="1" height="2.4" fill="#efa56d"/>
<rect y="751" width="1" height="7.4" fill="#efa16a"/>
<rect y="758" width="1" height="4.4" fill="#f3d593"/>
<rect y="762" width="1" height="6.4" fill="#f3e4a0"/>
<rect y="768" width="1" height="3.4" fill="#f3e09d"/>
<rect y="771" width="1" height="5.4" fill="#f3cf8e"/>
<rect y="776" width="1" height="5.4" fill="#f3dc99"/>
<rect y="781" width="1" height="4.4" fill="#f3dd9b"/>
<rect y="785" width="1" height="2.4" fill="#f3d795"/>
<rect y="787" width="1" height="5.4" fill="#f3d795"/>
<rect y="792" width="1" height="3.4" fill="#f3df9c"/>
<rect y="795" width="1" height="4.4" fill="#f3d997"/>
</g>
<g transform="translate(1121.00,0) scale(149.40,1)">
<rect y="1113" width="1" height="3.4" fill="#e9eecb"/>
<rect y="1116" width="1" height="3.4" fill="#eceec4"/>
<rect y="1119" width="1" height="6.4" fill="#eaeec7"/>
<rect y="1125" width="1" height="4.4" fill="#efedbb"/>
<rect y="1129" width="1" height="2.4" fill="#c6dae3"/>
<rect y="1131" width="1" height="5.4" fill="#d4e4e2"/>
<rect y="1136" width="1" height="3.4" fill="#d6e5e1"/>
<rect y="1139" width="1" height="4.4" fill="#cedfe2"/>
<rect y="1143" width="1" height="6.4" fill="#f3e8a7"/>
<rect y="1149" width="1" height="3.4" fill="#f4e59f"/>
<rect y="1152" width="1" height="3.4" fill="#f2ecb4"/>
<rect y="1155" width="1" height="6.4" fill="#f3e7a4"/>
<rect y="1161" width="1" height="2.4" fill="#f3eaad"/>
<rect y="1163" width="1" height="2.4" fill="#f4e49e"/>
<rect y="1165" width="1" height="6.4" fill="#f4e19b"/>
<rect y="1171" width="1" height="2.4" fill="#f2ecb2"/>
<rect y="1173" width="1" height="4.4" fill="#f3e8a7"/>
<rect y="1177" width="1" height="5.4" fill="#f3eaaf"/>
<rect y="1182" width="1" height="5.4" fill="#f3e7a5"/>
<rect y="1187" width="1" height="6.4" fill="#f3e7a6"/>
<rect y="1193" width="1" height="3.4" fill="#dde9e0"/>
<rect y="1196" width="1" height="2.4" fill="#eaedc9"/>
<rect y="1198" width="1" height="5.4" fill="#e7ecce"/>
<rect y="1203" width="1" height="5.4" fill="#dfeade"/>
<rect y="1208" width="1" height="4.4" fill="#e4ebd4"/>
<rect y="1212" width="1" height="3.4" fill="#e2ebd8"/>
<rect y="1215" width="1" height="6.4" fill="#efecc2"/>
<rect y="1221" width="1" height="6.4" fill="#f1e9b7"/>
<rect y="1227" width="1" height="4.4" fill="#edebc5"/>
<rect y="1231" width="1" height="2.4" fill="#eaebca"/>
<rect y="1233" width="1" height="3.4" fill="#edebc5"/>
<rect y="1236" width="1" height="3.4" fill="#f2cd8c"/>
<rect y="1239" width="1" height="4.4" fill="#f2d392"/>
<rect y="1243" width="1" height="6.4" fill="#f2ca89"/>
<rect y="1249" width="1" height="3.4" fill="#f2cb8b"/>
<rect y="1252" width="1" height="6.4" fill="#f1c183"/>
<rect y="1258" width="1" height="2.4" fill="#f3cc8b"/>
<rect y="1260" width="1" height="5.4" fill="#f3cc8b"/>
<rect y="1265" width="1" height="2.4" fill="#f3d492"/>
<rect y="1267" width="1" height="3.4" fill="#f3cb8a"/>
<rect y="1270" width="1" height="6.4" fill="#f3dc9a"/>
<rect y="1276" width="1" height="2.4" fill="#f3d896"/>
<rect y="1278" width="1" height="6.4" fill="#f2e6a8"/>
<rect y="1284" width="1" height="6.4" fill="#f3e5a7"/>
<rect y="1290" width="1" height="4.4" fill="#f3d997"/>
<rect y="1294" width="1" height="4.4" fill="#f3d896"/>
<rect y="1298" width="1" height="2.4" fill="#f3d492"/>
<rect y="1300" width="1" height="2.4" fill="#f3cf8e"/>
<rect y="1302" width="1" height="6.4" fill="#f3cd8c"/>
<rect y="1308" width="1" height="3.4" fill="#f3e3a0"/>
<rect y="1311" width="1" height="4.4" fill="#f3db98"/>
<rect y="1315" width="1" height="3.4" fill="#f3dc9a"/>
<rect y="1318" width="1" height="5.4" fill="#f3d492"/>
<rect y="1323" width="1" height="3.4" fill="#f2cd8b"/>
<rect y="1326" width="1" height="5.4" fill="#f2be80"/>
<rect y="1331" width="1" height="6.4" fill="#f2be81"/>
<rect y="1337" width="1" height="6.4" fill="#f2c887"/>
<rect y="1343" width="1" height="2.4" fill="#f2c686"/>
<rect y="1345" width="1" height="6.4" fill="#f1bb7e"/>
<rect y="1351" width="1" height="3.4" fill="#f2ce8c"/>
<rect y="1354" width="1" height="5.4" fill="#f2cf8d"/>
<rect y="1359" width="1" height="2.4" fill="#f2bc7f"/>
<rect y="1361" width="1" height="3.4" fill="#8aa0b0"/>
<rect y="1364" width="1" height="4.4" fill="#bdd1dd"/>
<rect y="1368" width="1" height="5.4" fill="#9fb8cb"/>
<rect y="1373" width="1" height="4.4" fill="#bdd1dd"/>
<rect y="1377" width="1" height="6.4" fill="#abc3d2"/>
<rect y="1383" width="1" height="3.4" fill="#bbd0dc"/>
<rect y="1386" width="1" height="2.4" fill="#afc6d5"/>
<rect y="1388" width="1" height="4.4" fill="#6377a2"/>
<rect y="1392" width="1" height="4.4" fill="#6175a0"/>
<rect y="1396" width="1" height="2.4" fill="#6377a2"/>
<rect y="1398" width="1" height="2.4" fill="#5e719d"/>
<rect y="1400" width="1" height="4.4" fill="#6277a1"/>
<rect y="1404" width="1" height="4.4" fill="#6377a2"/>
<rect y="1408" width="1" height="4.4" fill="#687fa7"/>
<rect y="1412" width="1" height="3.4" fill="#677ca5"/>
<rect y="1415" width="1" height="5.4" fill="#5f739f"/>
<rect y="1420" width="1" height="4.4" fill="#e0eaea"/>
<rect y="1424" width="1" height="3.4" fill="#e3ebe5"/>
<rect y="1427" width="1" height="2.4" fill="#758cac"/>
<rect y="1429" width="1" height="3.4" fill="#859db8"/>
<rect y="1432" width="1" height="3.4" fill="#7a92b1"/>
<rect y="1435" width="1" height="4.4" fill="#879fb9"/>
<rect y="1439" width="1" height="3.4" fill="#7a92b1"/>
<rect y="1442" width="1" height="2.4" fill="#c1d5de"/>
<rect y="1444" width="1" height="4.4" fill="#a7c0cd"/>
<rect y="1448" width="1" height="3.4" fill="#b7cdd7"/>
<rect y="1451" width="1" height="4.4" fill="#c2d6de"/>
</g>
<g transform="translate(1270.00,0) scale(149.40,1)">
<rect y="1113" width="1" height="3.4" fill="#f1ac74"/>
<rect y="1116" width="1" height="5.4" fill="#ef9969"/>
<rect y="1121" width="1" height="2.4" fill="#ee9165"/>
<rect y="1123" width="1" height="3.4" fill="#ef9a69"/>
<rect y="1126" width="1" height="6.4" fill="#ef9668"/>
<rect y="1132" width="1" height="4.4" fill="#ef9b6a"/>
<rect y="1136" width="1" height="2.4" fill="#f3cb8b"/>
<rect y="1138" width="1" height="4.4" fill="#f3c686"/>
<rect y="1142" width="1" height="5.4" fill="#f3bd7f"/>
<rect y="1147" width="1" height="4.4" fill="#ee8d62"/>
<rect y="1151" width="1" height="5.4" fill="#ed875f"/>
<rect y="1156" width="1" height="6.4" fill="#ee8b61"/>
<rect y="1162" width="1" height="5.4" fill="#ed835d"/>
<rect y="1167" width="1" height="2.4" fill="#ee8d62"/>
<rect y="1169" width="1" height="6.4" fill="#f09d69"/>
<rect y="1175" width="1" height="5.4" fill="#ee9063"/>
<rect y="1180" width="1" height="3.4" fill="#ec7f5b"/>
<rect y="1183" width="1" height="5.4" fill="#ef9967"/>
<rect y="1188" width="1" height="2.4" fill="#f09d68"/>
<rect y="1190" width="1" height="6.4" fill="#e67457"/>
<rect y="1196" width="1" height="3.4" fill="#eb8360"/>
<rect y="1199" width="1" height="6.4" fill="#eb8661"/>
<rect y="1205" width="1" height="2.4" fill="#eb815f"/>
<rect y="1207" width="1" height="2.4" fill="#e16c51"/>
<rect y="1209" width="1" height="6.4" fill="#eb8461"/>
<rect y="1215" width="1" height="5.4" fill="#d15140"/>
<rect y="1220" width="1" height="2.4" fill="#d0503f"/>
<rect y="1222" width="1" height="2.4" fill="#cc4b3d"/>
<rect y="1224" width="1" height="4.4" fill="#cd4c3d"/>
<rect y="1228" width="1" height="2.4" fill="#d0503f"/>
<rect y="1230" width="1" height="5.4" fill="#cb493c"/>
<rect y="1235" width="1" height="5.4" fill="#cc4a3c"/>
<rect y="1240" width="1" height="3.4" fill="#e36b4a"/>
<rect y="1243" width="1" height="6.4" fill="#e6704f"/>
<rect y="1249" width="1" height="2.4" fill="#e46d4c"/>
<rect y="1251" width="1" height="3.4" fill="#e16748"/>
<rect y="1254" width="1" height="2.4" fill="#e16949"/>
<rect y="1256" width="1" height="4.4" fill="#ec7c57"/>
<rect y="1260" width="1" height="3.4" fill="#eb7955"/>
<rect y="1263" width="1" height="2.4" fill="#e6714f"/>
<rect y="1265" width="1" height="6.4" fill="#eb7a56"/>
<rect y="1271" width="1" height="2.4" fill="#ea7854"/>
<rect y="1273" width="1" height="3.4" fill="#e36b4b"/>
<rect y="1276" width="1" height="4.4" fill="#e6714f"/>
<rect y="1280" width="1" height="2.4" fill="#ee8960"/>
<rect y="1282" width="1" height="2.4" fill="#ef9565"/>
<rect y="1284" width="1" height="3.4" fill="#ec7c5a"/>
<rect y="1287" width="1" height="2.4" fill="#ec7c5a"/>
<rect y="1289" width="1" height="2.4" fill="#ef9565"/>
<rect y="1291" width="1" height="2.4" fill="#ee8a60"/>
<rect y="1293" width="1" height="5.4" fill="#ed845d"/>
<rect y="1298" width="1" height="4.4" fill="#ed7d5a"/>
<rect y="1302" width="1" height="5.4" fill="#ef8f62"/>
<rect y="1307" width="1" height="6.4" fill="#ed845d"/>
<rect y="1313" width="1" height="3.4" fill="#ed805c"/>
<rect y="1316" width="1" height="4.4" fill="#e16a4e"/>
<rect y="1320" width="1" height="3.4" fill="#e36d50"/>
<rect y="1323" width="1" height="5.4" fill="#e67354"/>
<rect y="1328" width="1" height="6.4" fill="#dd6449"/>
<rect y="1334" width="1" height="4.4" fill="#e16b4e"/>
<rect y="1338" width="1" height="6.4" fill="#e0694d"/>
<rect y="1344" width="1" height="2.4" fill="#e46f51"/>
<rect y="1346" width="1" height="5.4" fill="#dc6147"/>
<rect y="1351" width="1" height="5.4" fill="#e67354"/>
<rect y="1356" width="1" height="5.4" fill="#e16a4e"/>
<rect y="1361" width="1" height="5.4" fill="#f3cf8f"/>
<rect y="1366" width="1" height="3.4" fill="#f3c98a"/>
<rect y="1369" width="1" height="4.4" fill="#f3d594"/>
<rect y="1373" width="1" height="2.4" fill="#f3d796"/>
<rect y="1375" width="1" height="3.4" fill="#f3ce8e"/>
<rect y="1378" width="1" height="2.4" fill="#f3da99"/>
<rect y="1380" width="1" height="4.4" fill="#f3db9a"/>
<rect y="1384" width="1" height="6.4" fill="#f3d796"/>
<rect y="1390" width="1" height="4.4" fill="#f3c788"/>
<rect y="1394" width="1" height="2.4" fill="#f3da99"/>
<rect y="1396" width="1" height="6.4" fill="#f3d796"/>
<rect y="1402" width="1" height="2.4" fill="#f3d695"/>
<rect y="1404" width="1" height="6.4" fill="#f3d191"/>
<rect y="1410" width="1" height="6.4" fill="#f3d595"/>
<rect y="1416" width="1" height="4.4" fill="#f3c889"/>
<rect y="1420" width="1" height="5.4" fill="#c9463a"/>
<rect y="1425" width="1" height="2.4" fill="#cd4b3c"/>
<rect y="1427" width="1" height="4.4" fill="#c9463a"/>
<rect y="1431" width="1" height="2.4" fill="#e67457"/>
<rect y="1433" width="1" height="2.4" fill="#e16c51"/>
<rect y="1435" width="1" height="2.4" fill="#ea7d5d"/>
<rect y="1437" width="1" height="4.4" fill="#e97a5b"/>
<rect y="1441" width="1" height="2.4" fill="#e26c51"/>
<rect y="1443" width="1" height="6.4" fill="#e8785a"/>
<rect y="1449" width="1" height="3.4" fill="#e26e53"/>
<rect y="1452" width="1" height="3.4" fill="#eb8561"/>
</g>
<g transform="translate(1419.00,0) scale(149.40,1)">
<rect y="1113" width="1" height="2.4" fill="#6c81a7"/>
<rect y="1115" width="1" height="6.4" fill="#7188ac"/>
<rect y="1121" width="1" height="2.4" fill="#7087ab"/>
<rect y="1123" width="1" height="3.4" fill="#6b7fa6"/>
<rect y="1126" width="1" height="6.4" fill="#6b80a6"/>
<rect y="1132" width="1" height="5.4" fill="#8da8c1"/>
<rect y="1137" width="1" height="6.4" fill="#89a3be"/>
<rect y="1143" width="1" height="4.4" fill="#849ebb"/>
<rect y="1147" width="1" height="2.4" fill="#6175a1"/>
<rect y="1149" width="1" height="3.4" fill="#596b99"/>
<rect y="1152" width="1" height="5.4" fill="#5a6d9b"/>
<rect y="1157" width="1" height="3.4" fill="#6075a0"/>
<rect y="1160" width="1" height="6.4" fill="#5c6e9c"/>
<rect y="1166" width="1" height="6.4" fill="#5c709d"/>
<rect y="1172" width="1" height="3.4" fill="#5d709d"/>
<rect y="1175" width="1" height="3.4" fill="#6479a3"/>
<rect y="1178" width="1" height="5.4" fill="#5c6f9c"/>
<rect y="1183" width="1" height="7.4" fill="#596b99"/>
<rect y="1190" width="1" height="6.4" fill="#6c83ab"/>
<rect y="1196" width="1" height="3.4" fill="#748eb3"/>
<rect y="1199" width="1" height="3.4" fill="#748db3"/>
<rect y="1202" width="1" height="6.4" fill="#718ab0"/>
<rect y="1208" width="1" height="3.4" fill="#6a81a9"/>
<rect y="1211" width="1" height="6.4" fill="#697fa8"/>
<rect y="1217" width="1" height="5.4" fill="#6d84ac"/>
<rect y="1222" width="1" height="5.4" fill="#879fbd"/>
<rect y="1227" width="1" height="6.4" fill="#879fbd"/>
<rect y="1233" width="1" height="4.4" fill="#7e96b7"/>
<rect y="1237" width="1" height="4.4" fill="#98b1c8"/>
<rect y="1241" width="1" height="5.4" fill="#8199b9"/>
<rect y="1246" width="1" height="3.4" fill="#94acc5"/>
<rect y="1249" width="1" height="4.4" fill="#92aac4"/>
<rect y="1253" width="1" height="5.4" fill="#829aba"/>
<rect y="1258" width="1" height="3.4" fill="#6d82a9"/>
<rect y="1261" width="1" height="5.4" fill="#697da5"/>
<rect y="1266" width="1" height="3.4" fill="#6c82a8"/>
<rect y="1269" width="1" height="6.4" fill="#728aae"/>
<rect y="1275" width="1" height="2.4" fill="#677ba3"/>
<rect y="1277" width="1" height="3.4" fill="#687ca4"/>
<rect y="1280" width="1" height="2.4" fill="#64789f"/>
<rect y="1282" width="1" height="3.4" fill="#5f709a"/>
<rect y="1285" width="1" height="2.4" fill="#5e6f99"/>
<rect y="1287" width="1" height="4.4" fill="#677ca2"/>
<rect y="1291" width="1" height="3.4" fill="#60729b"/>
<rect y="1294" width="1" height="3.4" fill="#687da3"/>
<rect y="1297" width="1" height="2.4" fill="#5f709a"/>
<rect y="1299" width="1" height="4.4" fill="#687da3"/>
<rect y="1303" width="1" height="2.4" fill="#677aa1"/>
<rect y="1305" width="1" height="5.4" fill="#6a7ea4"/>
<rect y="1310" width="1" height="2.4" fill="#697ea4"/>
<rect y="1312" width="1" height="4.4" fill="#5f719b"/>
<rect y="1316" width="1" height="2.4" fill="#6a7fa5"/>
<rect y="1318" width="1" height="5.4" fill="#9bb3c6"/>
<rect y="1323" width="1" height="4.4" fill="#acc3d2"/>
<rect y="1327" width="1" height="4.4" fill="#a2bacb"/>
<rect y="1331" width="1" height="5.4" fill="#9db5c8"/>
<rect y="1336" width="1" height="3.4" fill="#99b1c5"/>
<rect y="1339" width="1" height="5.4" fill="#a0b8ca"/>
<rect y="1344" width="1" height="6.4" fill="#a2bbcc"/>
<rect y="1350" width="1" height="2.4" fill="#aac1d0"/>
<rect y="1352" width="1" height="5.4" fill="#d8ded7"/>
<rect y="1357" width="1" height="7.4" fill="#c6d1d6"/>
<rect y="1364" width="1" height="2.4" fill="#a4bcce"/>
<rect y="1366" width="1" height="4.4" fill="#a0b8cc"/>
<rect y="1370" width="1" height="4.4" fill="#9db5ca"/>
<rect y="1374" width="1" height="4.4" fill="#a0b8cc"/>
<rect y="1378" width="1" height="4.4" fill="#b1c7d7"/>
<rect y="1382" width="1" height="4.4" fill="#a0b8cc"/>
<rect y="1386" width="1" height="2.4" fill="#a4bccf"/>
<rect y="1388" width="1" height="5.4" fill="#f1ebb8"/>
<rect y="1393" width="1" height="2.4" fill="#f1edbf"/>
<rect y="1395" width="1" height="6.4" fill="#f1eec0"/>
<rect y="1401" width="1" height="3.4" fill="#f2e7ae"/>
<rect y="1404" width="1" height="5.4" fill="#f2e7ac"/>
<rect y="1409" width="1" height="6.4" fill="#f2e7ad"/>
<rect y="1415" width="1" height="5.4" fill="#f1edbd"/>
<rect y="1420" width="1" height="6.4" fill="#e0eade"/>
<rect y="1426" width="1" height="4.4" fill="#dce8e0"/>
<rect y="1430" width="1" height="5.4" fill="#dfeae0"/>
<rect y="1435" width="1" height="3.4" fill="#dbe7e0"/>
<rect y="1438" width="1" height="2.4" fill="#dae7e0"/>
<rect y="1440" width="1" height="2.4" fill="#dee9e0"/>
<rect y="1442" width="1" height="5.4" fill="#acc4d3"/>
<rect y="1447" width="1" height="4.4" fill="#afc6d4"/>
<rect y="1451" width="1" height="2.4" fill="#9db5c9"/>
<rect y="1453" width="1" height="2.4" fill="#a9c1d0"/>
</g>
<g transform="translate(1568.00,0) scale(149.40,1)">
<rect y="1113" width="1" height="4.4" fill="#ed825a"/>
<rect y="1117" width="1" height="6.4" fill="#ed855c"/>
<rect y="1123" width="1" height="4.4" fill="#f09864"/>
<rect y="1127" width="1" height="5.4" fill="#ee8b5f"/>
<rect y="1132" width="1" height="2.4" fill="#ed855c"/>
<rect y="1134" width="1" height="2.4" fill="#db6148"/>
<rect y="1136" width="1" height="6.4" fill="#da6047"/>
<rect y="1142" width="1" height="3.4" fill="#e16c4f"/>
<rect y="1145" width="1" height="2.4" fill="#f3c585"/>
<rect y="1147" width="1" height="3.4" fill="#f3cf8d"/>
<rect y="1150" width="1" height="5.4" fill="#f3d493"/>
<rect y="1155" width="1" height="3.4" fill="#f3cf8e"/>
<rect y="1158" width="1" height="3.4" fill="#f3d594"/>
<rect y="1161" width="1" height="3.4" fill="#f3ce8d"/>
<rect y="1164" width="1" height="3.4" fill="#f3cf8d"/>
<rect y="1167" width="1" height="3.4" fill="#f3d694"/>
<rect y="1170" width="1" height="4.4" fill="#f3d492"/>
<rect y="1174" width="1" height="2.4" fill="#f3d593"/>
<rect y="1176" width="1" height="5.4" fill="#f3d694"/>
<rect y="1181" width="1" height="5.4" fill="#f3c988"/>
<rect y="1186" width="1" height="6.4" fill="#f3c988"/>
<rect y="1192" width="1" height="5.4" fill="#f3d896"/>
<rect y="1197" width="1" height="4.4" fill="#f3d694"/>
<rect y="1201" width="1" height="5.4" fill="#f2c082"/>
<rect y="1206" width="1" height="2.4" fill="#f3d291"/>
<rect y="1208" width="1" height="2.4" fill="#f3efbd"/>
<rect y="1210" width="1" height="3.4" fill="#eeefc8"/>
<rect y="1213" width="1" height="6.4" fill="#ecefcc"/>
<rect y="1219" width="1" height="3.4" fill="#f3f0bf"/>
<rect y="1222" width="1" height="6.4" fill="#f3f0c0"/>
<rect y="1228" width="1" height="6.4" fill="#e7eed4"/>
<rect y="1234" width="1" height="2.4" fill="#f3efbd"/>
<rect y="1236" width="1" height="4.4" fill="#d8e5e3"/>
<rect y="1240" width="1" height="3.4" fill="#e8ecd6"/>
<rect y="1243" width="1" height="2.4" fill="#e0eae2"/>
<rect y="1245" width="1" height="2.4" fill="#e9edd3"/>
<rect y="1247" width="1" height="6.4" fill="#e6ecd9"/>
<rect y="1253" width="1" height="2.4" fill="#e2ebe0"/>
<rect y="1255" width="1" height="2.4" fill="#d9e5e3"/>
<rect y="1257" width="1" height="3.4" fill="#e5ecdb"/>
<rect y="1260" width="1" height="4.4" fill="#ebeecd"/>
<rect y="1264" width="1" height="3.4" fill="#f3efbc"/>
<rect y="1267" width="1" height="6.4" fill="#eaeed0"/>
<rect y="1273" width="1" height="2.4" fill="#ebeece"/>
<rect y="1275" width="1" height="5.4" fill="#e6edd6"/>
<rect y="1280" width="1" height="3.4" fill="#f2f1b6"/>
<rect y="1283" width="1" height="3.4" fill="#f3eba6"/>
<rect y="1286" width="1" height="3.4" fill="#f3eca8"/>
<rect y="1289" width="1" height="2.4" fill="#f2efb1"/>
<rect y="1291" width="1" height="5.4" fill="#f4e69c"/>
<rect y="1296" width="1" height="3.4" fill="#f3eeaf"/>
<rect y="1299" width="1" height="5.4" fill="#f3eca8"/>
<rect y="1304" width="1" height="2.4" fill="#f3eca9"/>
<rect y="1306" width="1" height="5.4" fill="#f4e99f"/>
<rect y="1311" width="1" height="5.4" fill="#f3eaa2"/>
<rect y="1316" width="1" height="4.4" fill="#f3eca7"/>
<rect y="1320" width="1" height="5.4" fill="#aac2d1"/>
<rect y="1325" width="1" height="5.4" fill="#9cb4c8"/>
<rect y="1330" width="1" height="4.4" fill="#acc3d3"/>
<rect y="1334" width="1" height="4.4" fill="#aac1d1"/>
<rect y="1338" width="1" height="4.4" fill="#a5bece"/>
<rect y="1342" width="1" height="3.4" fill="#9ab2c7"/>
<rect y="1345" width="1" height="3.4" fill="#afc6d5"/>
<rect y="1348" width="1" height="4.4" fill="#b3c9d7"/>
<rect y="1352" width="1" height="5.4" fill="#a7bfcf"/>
<rect y="1357" width="1" height="3.4" fill="#b1c7d6"/>
<rect y="1360" width="1" height="3.4" fill="#a5bece"/>
<rect y="1363" width="1" height="6.4" fill="#e06048"/>
<rect y="1369" width="1" height="2.4" fill="#e05f47"/>
<rect y="1371" width="1" height="6.4" fill="#e06048"/>
<rect y="1377" width="1" height="5.4" fill="#e16048"/>
<rect y="1382" width="1" height="2.4" fill="#e4664c"/>
<rect y="1384" width="1" height="4.4" fill="#e4664c"/>
<rect y="1388" width="1" height="2.4" fill="#ee8c60"/>
<rect y="1390" width="1" height="2.4" fill="#ef9163"/>
<rect y="1392" width="1" height="2.4" fill="#f0a16a"/>
<rect y="1394" width="1" height="3.4" fill="#ee8c60"/>
<rect y="1397" width="1" height="5.4" fill="#ef9364"/>
<rect y="1402" width="1" height="3.4" fill="#e3644b"/>
<rect y="1405" width="1" height="2.4" fill="#e3644b"/>
<rect y="1407" width="1" height="2.4" fill="#e66a50"/>
<rect y="1409" width="1" height="4.4" fill="#e2624a"/>
<rect y="1413" width="1" height="5.4" fill="#e96f53"/>
<rect y="1418" width="1" height="2.4" fill="#e5684e"/>
<rect y="1420" width="1" height="6.4" fill="#f2efc9"/>
<rect y="1426" width="1" height="5.4" fill="#eceed4"/>
<rect y="1431" width="1" height="4.4" fill="#f2be82"/>
<rect y="1435" width="1" height="2.4" fill="#f2c98a"/>
<rect y="1437" width="1" height="2.4" fill="#f2c788"/>
<rect y="1439" width="1" height="2.4" fill="#f1b87d"/>
<rect y="1441" width="1" height="2.4" fill="#f1b57c"/>
<rect y="1443" width="1" height="6.4" fill="#f1b67c"/>
<rect y="1449" width="1" height="2.4" fill="#f1ba7f"/>
<rect y="1451" width="1" height="4.4" fill="#f2cf8f"/>
</g>
<g transform="translate(1121.00,0) scale(149.40,1)">
<rect y="1753" width="1" height="3.4" fill="#ef9a69"/>
<rect y="1756" width="1" height="5.4" fill="#f09f6c"/>
<rect y="1761" width="1" height="2.4" fill="#ee9266"/>
<rect y="1763" width="1" height="5.4" fill="#f0a26d"/>
<rect y="1768" width="1" height="4.4" fill="#f1a973"/>
<rect y="1772" width="1" height="2.4" fill="#ef9768"/>
<rect y="1774" width="1" height="6.4" fill="#f09c6a"/>
<rect y="1780" width="1" height="3.4" fill="#f1aa73"/>
<rect y="1783" width="1" height="4.4" fill="#ef9768"/>
<rect y="1787" width="1" height="2.4" fill="#f1aa73"/>
<rect y="1789" width="1" height="5.4" fill="#f1a973"/>
<rect y="1794" width="1" height="3.4" fill="#f3c889"/>
<rect y="1797" width="1" height="4.4" fill="#f3d393"/>
<rect y="1801" width="1" height="4.4" fill="#f3c687"/>
<rect y="1805" width="1" height="6.4" fill="#f3cc8d"/>
<rect y="1811" width="1" height="5.4" fill="#f3d090"/>
<rect y="1816" width="1" height="3.4" fill="#f3ca8b"/>
<rect y="1819" width="1" height="4.4" fill="#f3c687"/>
<rect y="1823" width="1" height="3.4" fill="#f3d897"/>
<rect y="1826" width="1" height="2.4" fill="#f3de9d"/>
<rect y="1828" width="1" height="6.4" fill="#f3d998"/>
<rect y="1834" width="1" height="4.4" fill="#f3dc9b"/>
<rect y="1838" width="1" height="6.4" fill="#f3cd8e"/>
<rect y="1844" width="1" height="4.4" fill="#f3d696"/>
<rect y="1848" width="1" height="5.4" fill="#e77759"/>
<rect y="1853" width="1" height="3.4" fill="#e57356"/>
<rect y="1856" width="1" height="2.4" fill="#e26d52"/>
<rect y="1858" width="1" height="6.4" fill="#ea7b5c"/>
<rect y="1864" width="1" height="4.4" fill="#d5553f"/>
<rect y="1868" width="1" height="5.4" fill="#d75841"/>
<rect y="1873" width="1" height="3.4" fill="#db5d43"/>
<rect y="1876" width="1" height="3.4" fill="#d04e3c"/>
<rect y="1879" width="1" height="3.4" fill="#d65740"/>
<rect y="1882" width="1" height="5.4" fill="#d3523d"/>
<rect y="1887" width="1" height="4.4" fill="#d4543f"/>
<rect y="1891" width="1" height="6.4" fill="#d3523e"/>
<rect y="1897" width="1" height="6.4" fill="#d2503d"/>
<rect y="1903" width="1" height="4.4" fill="#d14f3c"/>
<rect y="1907" width="1" height="2.4" fill="#d75841"/>
<rect y="1909" width="1" height="4.4" fill="#d85941"/>
<rect y="1913" width="1" height="7.4" fill="#d95a42"/>
<rect y="1920" width="1" height="2.4" fill="#da5c46"/>
<rect y="1922" width="1" height="3.4" fill="#da5c45"/>
<rect y="1925" width="1" height="2.4" fill="#d75844"/>
<rect y="1927" width="1" height="2.4" fill="#e2694e"/>
<rect y="1929" width="1" height="4.4" fill="#df654b"/>
<rect y="1933" width="1" height="4.4" fill="#d75843"/>
<rect y="1937" width="1" height="4.4" fill="#da5c46"/>
<rect y="1941" width="1" height="3.4" fill="#e0664c"/>
<rect y="1944" width="1" height="5.4" fill="#e1684e"/>
<rect y="1949" width="1" height="6.4" fill="#ec7f5b"/>
<rect y="1955" width="1" height="2.4" fill="#e77554"/>
<rect y="1957" width="1" height="3.4" fill="#ed865e"/>
<rect y="1960" width="1" height="4.4" fill="#e57151"/>
<rect y="1964" width="1" height="5.4" fill="#eb7d5a"/>
<rect y="1969" width="1" height="3.4" fill="#e87655"/>
<rect y="1972" width="1" height="2.4" fill="#e87755"/>
<rect y="1974" width="1" height="5.4" fill="#e57252"/>
<rect y="1979" width="1" height="4.4" fill="#ed8960"/>
<rect y="1983" width="1" height="6.4" fill="#e47051"/>
<rect y="1989" width="1" height="3.4" fill="#e97857"/>
<rect y="1992" width="1" height="3.4" fill="#e57051"/>
<rect y="1995" width="1" height="2.4" fill="#e46f50"/>
<rect y="1997" width="1" height="3.4" fill="#eb7c5a"/>
<rect y="2000" width="1" height="3.4" fill="#eb7d5a"/>
<rect y="2003" width="1" height="6.4" fill="#ea7a58"/>
<rect y="2009" width="1" height="3.4" fill="#e87555"/>
<rect y="2012" width="1" height="2.4" fill="#e57051"/>
<rect y="2014" width="1" height="6.4" fill="#e77554"/>
<rect y="2020" width="1" height="4.4" fill="#ec7e5b"/>
<rect y="2024" width="1" height="3.4" fill="#f09f6c"/>
<rect y="2027" width="1" height="3.4" fill="#f09e6b"/>
<rect y="2030" width="1" height="5.4" fill="#ee9166"/>
<rect y="2035" width="1" height="5.4" fill="#f09e6b"/>
<rect y="2040" width="1" height="2.4" fill="#f1aa73"/>
<rect y="2042" width="1" height="5.4" fill="#c9463a"/>
<rect y="2047" width="1" height="2.4" fill="#c9463a"/>
<rect y="2049" width="1" height="3.4" fill="#cc4a3c"/>
<rect y="2052" width="1" height="3.4" fill="#cb493b"/>
<rect y="2055" width="1" height="5.4" fill="#c9463a"/>
<rect y="2060" width="1" height="2.4" fill="#e77656"/>
<rect y="2062" width="1" height="4.4" fill="#e36e50"/>
<rect y="2066" width="1" height="6.4" fill="#e16a4d"/>
<rect y="2072" width="1" height="2.4" fill="#e26c4f"/>
<rect y="2074" width="1" height="2.4" fill="#e16a4e"/>
<rect y="2076" width="1" height="6.4" fill="#e87656"/>
<rect y="2082" width="1" height="3.4" fill="#e0684c"/>
<rect y="2085" width="1" height="5.4" fill="#e67455"/>
<rect y="2090" width="1" height="3.4" fill="#e67455"/>
</g>
<g transform="translate(1270.00,0) scale(149.40,1)">
<rect y="1753" width="1" height="7.4" fill="#6e84a7"/>
<rect y="1760" width="1" height="4.4" fill="#aac1d2"/>
<rect y="1764" width="1" height="5.4" fill="#97afc6"/>
<rect y="1769" width="1" height="2.4" fill="#9ab2c8"/>
<rect y="1771" width="1" height="4.4" fill="#97afc6"/>
<rect y="1775" width="1" height="3.4" fill="#b3c9d8"/>
<rect y="1778" width="1" height="2.4" fill="#b0c6d6"/>
<rect y="1780" width="1" height="4.4" fill="#cee1e6"/>
<rect y="1784" width="1" height="2.4" fill="#cadde7"/>
<rect y="1786" width="1" height="5.4" fill="#d0e2e6"/>
<rect y="1791" width="1" height="5.4" fill="#c9dde7"/>
<rect y="1796" width="1" height="3.4" fill="#cbdfe7"/>
<rect y="1799" width="1" height="3.4" fill="#c9dde7"/>
<rect y="1802" width="1" height="2.4" fill="#d0e1e6"/>
<rect y="1804" width="1" height="4.4" fill="#dae9e5"/>
<rect y="1808" width="1" height="4.4" fill="#cadde7"/>
<rect y="1812" width="1" height="6.4" fill="#7c92b3"/>
<rect y="1818" width="1" height="3.4" fill="#798fb1"/>
<rect y="1821" width="1" height="6.4" fill="#768caf"/>
<rect y="1827" width="1" height="6.4" fill="#7084a9"/>
<rect y="1833" width="1" height="5.4" fill="#6e82a8"/>
<rect y="1838" width="1" height="5.4" fill="#7c93b4"/>
<rect y="1843" width="1" height="2.4" fill="#7185aa"/>
<rect y="1845" width="1" height="2.4" fill="#7489ad"/>
<rect y="1847" width="1" height="4.4" fill="#7387ac"/>
<rect y="1851" width="1" height="3.4" fill="#abc3d1"/>
<rect y="1854" width="1" height="2.4" fill="#95aec3"/>
<rect y="1856" width="1" height="6.4" fill="#91aac0"/>
<rect y="1862" width="1" height="4.4" fill="#93acc1"/>
<rect y="1866" width="1" height="2.4" fill="#aac2d0"/>
<rect y="1868" width="1" height="6.4" fill="#9eb7c9"/>
<rect y="1874" width="1" height="2.4" fill="#94adc2"/>
<rect y="1876" width="1" height="4.4" fill="#d4e5e2"/>
<rect y="1880" width="1" height="5.4" fill="#cadee3"/>
<rect y="1885" width="1" height="6.4" fill="#dbe9e1"/>
<rect y="1891" width="1" height="2.4" fill="#f2e8ad"/>
<rect y="1893" width="1" height="4.4" fill="#f3e3a0"/>
<rect y="1897" width="1" height="5.4" fill="#f3e19e"/>
<rect y="1902" width="1" height="5.4" fill="#f3d997"/>
<rect y="1907" width="1" height="3.4" fill="#f3e5a4"/>
<rect y="1910" width="1" height="5.4" fill="#f3e19e"/>
<rect y="1915" width="1" height="5.4" fill="#f3db99"/>
<rect y="1920" width="1" height="3.4" fill="#f4e69e"/>
<rect y="1923" width="1" height="3.4" fill="#f3e8a2"/>
<rect y="1926" width="1" height="4.4" fill="#f3e7a0"/>
<rect y="1930" width="1" height="2.4" fill="#f3ecaf"/>
<rect y="1932" width="1" height="2.4" fill="#f3ecad"/>
<rect y="1934" width="1" height="2.4" fill="#f3eaa9"/>
<rect y="1936" width="1" height="5.4" fill="#f2edb1"/>
<rect y="1941" width="1" height="6.4" fill="#f3eaa7"/>
<rect y="1947" width="1" height="2.4" fill="#f3eaa9"/>
<rect y="1949" width="1" height="5.4" fill="#f2eeb3"/>
<rect y="1954" width="1" height="4.4" fill="#f4e79f"/>
<rect y="1958" width="1" height="3.4" fill="#f2efb8"/>
<rect y="1961" width="1" height="2.4" fill="#f3ecae"/>
<rect y="1963" width="1" height="6.4" fill="#f2eeb5"/>
<rect y="1969" width="1" height="6.4" fill="#f2efb5"/>
<rect y="1975" width="1" height="2.4" fill="#f2edb1"/>
<rect y="1977" width="1" height="6.4" fill="#e6edd1"/>
<rect y="1983" width="1" height="6.4" fill="#deebde"/>
<rect y="1989" width="1" height="6.4" fill="#e1ecd9"/>
<rect y="1995" width="1" height="5.4" fill="#e9edcc"/>
<rect y="2000" width="1" height="6.4" fill="#e5ecd2"/>
<rect y="2006" width="1" height="4.4" fill="#e9edcc"/>
<rect y="2010" width="1" height="3.4" fill="#e1ecd9"/>
<rect y="2013" width="1" height="6.4" fill="#cddee1"/>
<rect y="2019" width="1" height="5.4" fill="#ccdde1"/>
<rect y="2024" width="1" height="4.4" fill="#ebefcb"/>
<rect y="2028" width="1" height="2.4" fill="#f2eeb9"/>
<rect y="2030" width="1" height="3.4" fill="#f1f1c1"/>
<rect y="2033" width="1" height="4.4" fill="#f1f1c1"/>
<rect y="2037" width="1" height="5.4" fill="#e8efd1"/>
<rect y="2042" width="1" height="6.4" fill="#e1ebe0"/>
<rect y="2048" width="1" height="2.4" fill="#d1e2e7"/>
<rect y="2050" width="1" height="3.4" fill="#dfeae4"/>
<rect y="2053" width="1" height="6.4" fill="#99b2c7"/>
<rect y="2059" width="1" height="6.4" fill="#99b2c6"/>
<rect y="2065" width="1" height="2.4" fill="#a0b9cb"/>
<rect y="2067" width="1" height="2.4" fill="#f3c485"/>
<rect y="2069" width="1" height="5.4" fill="#f3d190"/>
<rect y="2074" width="1" height="3.4" fill="#f3d08e"/>
<rect y="2077" width="1" height="4.4" fill="#f3d593"/>
<rect y="2081" width="1" height="5.4" fill="#f3d694"/>
<rect y="2086" width="1" height="3.4" fill="#f3d694"/>
<rect y="2089" width="1" height="4.4" fill="#f3c988"/>
</g>
<g transform="translate(1419.00,0) scale(149.40,1)">
<rect y="1753" width="1" height="3.4" fill="#f3ebb8"/>
<rect y="1756" width="1" height="4.4" fill="#f3e9b4"/>
<rect y="1760" width="1" height="5.4" fill="#99b1c7"/>
<rect y="1765" width="1" height="5.4" fill="#a5bdcf"/>
<rect y="1770" width="1" height="4.4" fill="#acc2d3"/>
<rect y="1774" width="1" height="6.4" fill="#a2bbcd"/>
<rect y="1780" width="1" height="4.4" fill="#90aabe"/>
<rect y="1784" width="1" height="6.4" fill="#87a1b9"/>
<rect y="1790" width="1" height="6.4" fill="#839cb6"/>
<rect y="1796" width="1" height="5.4" fill="#89a3ba"/>
<rect y="1801" width="1" height="5.4" fill="#b1c8d4"/>
<rect y="1806" width="1" height="3.4" fill="#b5cbd6"/>
<rect y="1809" width="1" height="6.4" fill="#a6bfcd"/>
<rect y="1815" width="1" height="4.4" fill="#eceec7"/>
<rect y="1819" width="1" height="4.4" fill="#e8edcf"/>
<rect y="1823" width="1" height="4.4" fill="#eeeec4"/>
<rect y="1827" width="1" height="5.4" fill="#e8edcf"/>
<rect y="1832" width="1" height="2.4" fill="#f1ecb9"/>
<rect y="1834" width="1" height="3.4" fill="#f1ebb7"/>
<rect y="1837" width="1" height="3.4" fill="#e7ecd1"/>
<rect y="1840" width="1" height="3.4" fill="#f0eec1"/>
<rect y="1843" width="1" height="5.4" fill="#ebedc9"/>
<rect y="1848" width="1" height="6.4" fill="#cde0e6"/>
<rect y="1854" width="1" height="6.4" fill="#d7e7e6"/>
<rect y="1860" width="1" height="6.4" fill="#d8e7e6"/>
<rect y="1866" width="1" height="2.4" fill="#d8e7e5"/>
<rect y="1868" width="1" height="4.4" fill="#dbe9e5"/>
<rect y="1872" width="1" height="4.4" fill="#dceae5"/>
<rect y="1876" width="1" height="4.4" fill="#d0e1e6"/>
<rect y="1880" width="1" height="3.4" fill="#778fb2"/>
<rect y="1883" width="1" height="5.4" fill="#748baf"/>
<rect y="1888" width="1" height="2.4" fill="#7c94b5"/>
<rect y="1890" width="1" height="2.4" fill="#778fb2"/>
<rect y="1892" width="1" height="6.4" fill="#88a1bd"/>
<rect y="1898" width="1" height="5.4" fill="#88a1bd"/>
<rect y="1903" width="1" height="4.4" fill="#7e96b6"/>
<rect y="1907" width="1" height="2.4" fill="#829ab8"/>
<rect y="1909" width="1" height="3.4" fill="#758db0"/>
<rect y="1912" width="1" height="4.4" fill="#7e96b6"/>
<rect y="1916" width="1" height="6.4" fill="#7990b2"/>
<rect y="1922" width="1" height="5.4" fill="#839bb9"/>
<rect y="1927" width="1" height="5.4" fill="#8ba3bf"/>
<rect y="1932" width="1" height="2.4" fill="#859dba"/>
<rect y="1934" width="1" height="2.4" fill="#849cba"/>
<rect y="1936" width="1" height="3.4" fill="#8aa3be"/>
<rect y="1939" width="1" height="3.4" fill="#768db0"/>
<rect y="1942" width="1" height="2.4" fill="#687ea6"/>
<rect y="1944" width="1" height="6.4" fill="#6b82a9"/>
<rect y="1950" width="1" height="6.4" fill="#687fa7"/>
<rect y="1956" width="1" height="5.4" fill="#5d709d"/>
<rect y="1961" width="1" height="5.4" fill="#667ca5"/>
<rect y="1966" width="1" height="3.4" fill="#5f739f"/>
<rect y="1969" width="1" height="6.4" fill="#687fa7"/>
<rect y="1975" width="1" height="5.4" fill="#6277a1"/>
<rect y="1980" width="1" height="4.4" fill="#677da6"/>
<rect y="1984" width="1" height="5.4" fill="#6377a2"/>
<rect y="1989" width="1" height="2.4" fill="#60739f"/>
<rect y="1991" width="1" height="3.4" fill="#677da6"/>
<rect y="1994" width="1" height="6.4" fill="#677ca6"/>
<rect y="2000" width="1" height="5.4" fill="#6277a1"/>
<rect y="2005" width="1" height="4.4" fill="#60739f"/>
<rect y="2009" width="1" height="2.4" fill="#5f729e"/>
<rect y="2011" width="1" height="4.4" fill="#5f729e"/>
<rect y="2015" width="1" height="2.4" fill="#6377a2"/>
<rect y="2017" width="1" height="6.4" fill="#6479a3"/>
<rect y="2023" width="1" height="4.4" fill="#5e719d"/>
<rect y="2027" width="1" height="3.4" fill="#6175a0"/>
<rect y="2030" width="1" height="5.4" fill="#6479a3"/>
<rect y="2035" width="1" height="7.4" fill="#6175a0"/>
<rect y="2042" width="1" height="2.4" fill="#e4ebdf"/>
<rect y="2044" width="1" height="2.4" fill="#e2eae3"/>
<rect y="2046" width="1" height="3.4" fill="#d6e3e7"/>
<rect y="2049" width="1" height="4.4" fill="#f2d798"/>
<rect y="2053" width="1" height="6.4" fill="#f1e5aa"/>
<rect y="2059" width="1" height="2.4" fill="#f1e5aa"/>
<rect y="2061" width="1" height="6.4" fill="#f2db9b"/>
<rect y="2067" width="1" height="2.4" fill="#f1e5ac"/>
<rect y="2069" width="1" height="2.4" fill="#f2d496"/>
<rect y="2071" width="1" height="3.4" fill="#93acbe"/>
<rect y="2074" width="1" height="4.4" fill="#7e97b0"/>
<rect y="2078" width="1" height="4.4" fill="#9eb7ca"/>
<rect y="2082" width="1" height="4.4" fill="#9db6c9"/>
<rect y="2086" width="1" height="7.4" fill="#abc2d2"/>
</g>
<g transform="translate(1568.00,0) scale(149.40,1)">
<rect y="1753" width="1" height="3.4" fill="#f0ad78"/>
<rect y="1756" width="1" height="2.4" fill="#f1b880"/>
<rect y="1758" width="1" height="2.4" fill="#f0aa76"/>
<rect y="1760" width="1" height="4.4" fill="#eb805f"/>
<rect y="1764" width="1" height="5.4" fill="#e67357"/>
<rect y="1769" width="1" height="3.4" fill="#e16c51"/>
<rect y="1772" width="1" height="5.4" fill="#eb8561"/>
<rect y="1777" width="1" height="4.4" fill="#e67457"/>
<rect y="1781" width="1" height="5.4" fill="#eb8561"/>
<rect y="1786" width="1" height="5.4" fill="#e57357"/>
<rect y="1791" width="1" height="6.4" fill="#e47155"/>
<rect y="1797" width="1" height="4.4" fill="#e8785a"/>
<rect y="1801" width="1" height="2.4" fill="#e77658"/>
<rect y="1803" width="1" height="2.4" fill="#e57356"/>
<rect y="1805" width="1" height="3.4" fill="#de6249"/>
<rect y="1808" width="1" height="4.4" fill="#d75944"/>
<rect y="1812" width="1" height="3.4" fill="#de6249"/>
<rect y="1815" width="1" height="3.4" fill="#e26a4f"/>
<rect y="1818" width="1" height="4.4" fill="#de634a"/>
<rect y="1822" width="1" height="5.4" fill="#e0664c"/>
<rect y="1827" width="1" height="4.4" fill="#d75843"/>
<rect y="1831" width="1" height="6.4" fill="#e36b50"/>
<rect y="1837" width="1" height="3.4" fill="#d75944"/>
<rect y="1840" width="1" height="6.4" fill="#e1684d"/>
<rect y="1846" width="1" height="2.4" fill="#e0674c"/>
<rect y="1848" width="1" height="4.4" fill="#f0aa76"/>
<rect y="1852" width="1" height="6.4" fill="#f0b37c"/>
<rect y="1858" width="1" height="4.4" fill="#f1bd83"/>
<rect y="1862" width="1" height="2.4" fill="#f3e8aa"/>
<rect y="1864" width="1" height="3.4" fill="#f2eab2"/>
<rect y="1867" width="1" height="2.4" fill="#f2e9ad"/>
<rect y="1869" width="1" height="3.4" fill="#f3e8ab"/>
<rect y="1872" width="1" height="4.4" fill="#f3dd9a"/>
<rect y="1876" width="1" height="4.4" fill="#f3e7a9"/>
<rect y="1880" width="1" height="6.4" fill="#f2eab0"/>
<rect y="1886" width="1" height="3.4" fill="#f3e09d"/>
<rect y="1889" width="1" height="3.4" fill="#f3dd9a"/>
<rect y="1892" width="1" height="2.4" fill="#f2ebb3"/>
<rect y="1894" width="1" height="2.4" fill="#f3e8ab"/>
<rect y="1896" width="1" height="4.4" fill="#f3e8ac"/>
<rect y="1900" width="1" height="5.4" fill="#f3de9b"/>
<rect y="1905" width="1" height="3.4" fill="#f2e9af"/>
<rect y="1908" width="1" height="5.4" fill="#f3e6a4"/>
<rect y="1913" width="1" height="7.4" fill="#f3e6a5"/>
<rect y="1920" width="1" height="4.4" fill="#f3d995"/>
<rect y="1924" width="1" height="5.4" fill="#f3e49f"/>
<rect y="1929" width="1" height="2.4" fill="#f3d491"/>
<rect y="1931" width="1" height="4.4" fill="#f3d592"/>
<rect y="1935" width="1" height="3.4" fill="#f3d995"/>
<rect y="1938" width="1" height="3.4" fill="#f3e5a2"/>
<rect y="1941" width="1" height="4.4" fill="#f3d996"/>
<rect y="1945" width="1" height="6.4" fill="#f3e19c"/>
<rect y="1951" width="1" height="3.4" fill="#f3d592"/>
<rect y="1954" width="1" height="4.4" fill="#f3d591"/>
<rect y="1958" width="1" height="6.4" fill="#f3d592"/>
<rect y="1964" width="1" height="2.4" fill="#f3d390"/>
<rect y="1966" width="1" height="4.4" fill="#f3e49f"/>
<rect y="1970" width="1" height="4.4" fill="#f3e5a2"/>
<rect y="1974" width="1" height="3.4" fill="#f3e5a2"/>
<rect y="1977" width="1" height="4.4" fill="#f2c685"/>
<rect y="1981" width="1" height="5.4" fill="#f0b377"/>
<rect y="1986" width="1" height="5.4" fill="#f1c181"/>
<rect y="1991" width="1" height="4.4" fill="#f1b97b"/>
<rect y="1995" width="1" height="5.4" fill="#f1c382"/>
<rect y="2000" width="1" height="5.4" fill="#f0ae74"/>
<rect y="2005" width="1" height="5.4" fill="#f0b478"/>
<rect y="2010" width="1" height="4.4" fill="#f1b77a"/>
<rect y="2014" width="1" height="6.4" fill="#f0af74"/>
<rect y="2020" width="1" height="2.4" fill="#ef9968"/>
<rect y="2022" width="1" height="6.4" fill="#ed8c62"/>
<rect y="2028" width="1" height="6.4" fill="#ee9264"/>
<rect y="2034" width="1" height="4.4" fill="#ef9d69"/>
<rect y="2038" width="1" height="2.4" fill="#ef9666"/>
<rect y="2040" width="1" height="2.4" fill="#f0a36d"/>
<rect y="2042" width="1" height="3.4" fill="#d2e3e6"/>
<rect y="2045" width="1" height="3.4" fill="#dceae5"/>
<rect y="2048" width="1" height="4.4" fill="#dbe9e6"/>
<rect y="2052" width="1" height="4.4" fill="#d4e4e6"/>
<rect y="2056" width="1" height="4.4" fill="#dceae5"/>
<rect y="2060" width="1" height="4.4" fill="#758cad"/>
<rect y="2064" width="1" height="7.4" fill="#7991b1"/>
<rect y="2071" width="1" height="6.4" fill="#a8c0ce"/>
<rect y="2077" width="1" height="4.4" fill="#b2c9d4"/>
<rect y="2081" width="1" height="6.4" fill="#c3d7df"/>
<rect y="2087" width="1" height="3.4" fill="#b9ced9"/>
<rect y="2090" width="1" height="3.4" fill="#b5cbd6"/>
</g>
</g>
<defs><linearGradient id="cb" x1="0" y1="0" x2="0" y2="1"><stop offset="0" stop-color="#c9453a"/><stop offset="0.16" stop-color="#e8705a"/><stop offset="0.26" stop-color="#f0a06c"/><stop offset="0.37" stop-color="#f3d490"/><stop offset="0.47" stop-color="#f3eea8"/><stop offset="0.57" stop-color="#eef0c0"/><stop offset="0.63" stop-color="#dfeae0"/><stop offset="0.7" stop-color="#c6d9e2"/><stop offset="0.78" stop-color="#9db5ca"/><stop offset="0.88" stop-color="#7890b0"/><stop offset="1.0" stop-color="#5d6c96"/></linearGradient></defs>
<rect x="1741" y="62" width="34" height="506" fill="url(#cb)"/>
<rect x="265" y="57" width="10.5" height="1878" fill="#141010"/>
<rect x="258" y="1935" width="17.5" height="167" fill="#141010"/>
<path d="M267 59.3H262V63.7H267M267 71H263.2V74H267M267 67.8H261.2V72.5H263.2M262 61.5H259.2V70.7H261.2M267 80.2H263.2V82.8H267M267 77.4H261.2V81.9H263.2M259.2 66.2H257.2V80H261.2M267 86.4H263.8V89.7H267M267 92.1H263.7V94.7H267M263.8 87.9H261.7V93.9H263.7M267 97.5H264.1V100.2H267M261.7 90.5H259.7V99.2H264.1M267 103.8H262.8V107.6H267M259.7 93.2H255.4V105.8H262.8M257.2 70.8H250.4V97.1H255.4M267 111.4H261.2V115.6H267M267 120.1H262.9V123.3H267M262.9 121.2H260.9V125.8H267M261.2 113.8H258.9V122.6H260.9M267 128.1H263.1V130.9H267M267 134.6H261.8V138.5H267M263.1 129.9H259.8V136.7H261.8M258.9 118.4H252.9V133.9H259.8M267 141.8H262.6V144.7H267M267 148.9H263.3V152.3H267M267 154.5H262.7V158.1H267M263.3 150H259.6V156.9H262.7M262.6 143.6H257.6V153.5H259.6M267 165.8H261.8V169.5H267M267 162.3H259.8V167.9H261.8M257.6 150.5H255.6V166H259.8M252.9 125.1H250.9V156.1H255.6M267 172.9H262.9V176.5H267M262.9 175.1H260.9V180.8H267M267 183.9H263.5V186.6H267M263.5 185.6H261.5V190.1H267M267 193.2H263.5V196.7H267M267 200.5H264V203.2H267M264 201.5H261.8V205.5H267M263.5 195.4H259.8V202.8H261.8M261.5 187.4H257.8V199.3H259.8M260.9 177.3H252.3V194.8H257.8M267 207.8H263V210.7H267M267 217.3H264.5V219.9H267M267 214.3H262.5V218.8H264.5M263 209.5H260V216.9H262.5M267 222.7H263V225.9H267M260 214H258V224.6H263M267 229.6H262.4V232.9H267M267 235.7H263.8V239.1H267M262.4 231.1H259.3V237.9H263.8M267 243.2H263.8V246.4H267M259.3 234.5H257.3V244.4H263.8M267 252.6H263V255.2H267M267 249.1H261V253.4H263M261 251.8H259V258.1H267M267 264H262.7V266.8H267M267 261.7H260.7V265.9H262.7M259 253.9H257V264.5H260.7M257.3 237.7H254.9V258.2H257M258 217.2H248V248.3H254.9M267 269.7H264.1V272.4H267M264.1 271.5H262V276.1H267M267 279.2H262.9V281.9H267M262.9 280.8H260.9V285.8H267M267 289H264V291.8H267M260.9 283.1H258.9V290.9H264M262 273.4H256.9V285.9H258.9M267 295.3H264.2V298.2H267M267 301.1H262.1V304.7H267M264.2 296.6H259.3V303.1H262.1M267 308.6H263.7V312.1H267M263.7 310.2H259.7V316.4H264.6M267 320.9H264.4V323.7H267M264.4 321.8H261.6V326.6H267M259.7 312.8H257.7V323.8H261.6M259.3 300.2H253.2V317.6H257.7M256.9 281.3H250.7V311.2H253.2M267 330.2H263.3V332.9H267M263.3 331.3H261.3V335.4H267M267 338.6H263.9V341.4H267M261.3 332.7H259.3V339.5H263.9M267 343.6H263.1V346.3H267M263.1 345H261.1V349.2H267M261.1 346.5H259.1V352.8H267M259.3 335.4H256.2V348.6H259.1M267 356.2H262.7V359.7H267M267 364.1H262.7V367H267M262.7 358.5H260.1V365H262.7M267 369.5H263.6V372H267M267 374.6H262.7V377.6H267M263.6 370.5H260.7V376.2H262.7M260.1 361.5H256.2V373.6H260.7M267 381.7H262.2V386.3H267M267 390.7H262.6V394.6H267M267 398.5H263.6V401.9H267M267 403.8H263.9V406.6H267M263.6 399.7H260.5V405.8H263.9M262.6 392.4H258.5V402.4H260.5M262.2 383.8H256.5V398.5H258.5M256.2 367.1H248V393.9H256.5M256.2 341.8H248V381.8H248M267 413H263.2V415.5H267M267 410.2H261.2V414.3H263.2M267 419H263.5V422.2H267M261.2 412.7H259.2V420.1H263.5M267 427.6H263.1V430.3H267M267 424.8H261.1V428.9H263.1M267 433.8H263.6V437.1H267M263.6 434.9H261.6V440.5H267M261.1 427.5H259V437.2H261.6M259.2 415.9H256.3V433H259M267 444.4H262.8V447.8H267M267 450.8H263V453.6H267M267 457.1H263.7V459.8H267M263 452.4H261V457.9H263.7M262.8 446.2H259V455.2H261M256.3 425.7H248V451.7H259M267 466.6H264.4V469.5H267M267 462.8H262.4V467.7H264.4M267 472.7H263.5V477.1H267M262.4 465.6H257.6V475H263.5M267 480.3H264.5V483H267M267 486.9H262.7V490.9H267M264.5 482H260.3V488.7H262.7M257.6 470H254.4V486.1H260.3M267 499.2H263.3V501.9H267M264.6 495.3H261.3V500.5H263.3M267 504.8H262.6V508.3H267M267 511.6H263.3V514.2H267M263.3 512.8H261.3V517.8H267M262.6 506.7H258.3V515.3H261.3M261.3 498H254.3V511.8H258.3M267 522.6H262.6V526.1H267M267 534.1H262V538.5H267M267 529.6H259.2V536.4H262M262.6 523.8H257.2V534H259.2M254.3 506.5H251V530.6H257.2M267 542.3H263.1V545.4H267M263.1 543.9H261.1V548.4H267M267 551.4H263V554.2H267M261.1 545.3H259.1V552.6H263M267 557.6H263.3V561.5H267M259.1 548.1H256.1V559.2H263.3M251 516.8H248V552H256.1M267 565.4H263.3V569H267M263.3 566.7H261.3V572H267M267 575.6H262.5V579H267M267 582.5H263.8V586.2H267M262.5 577.2H259.3V584.4H263.8M261.3 568.5H257.3V581H259.3M267 593H262.8V596.1H267M267 589.9H260.8V594.7H262.8M267 598.9H263.4V601.8H267M260.8 593H258.8V600.7H263.4M257.3 575.6H250.8V595.9H258.8M267 604.6H264.3V607.1H267M264.3 606.2H262.3V609.9H267M267 612.7H262.3V616.5H267M262.3 607.4H259.7V614.9H262.3M267 620.5H262.2V624H267M259.7 611.2H257.7V622.2H262.2M267 627.3H262.3V630.7H267M267 633.8H262.7V636.9H267M262.7 635.7H260.7V640.4H267M262.3 629.2H258.7V637.3H260.7M257.7 614.7H253.3V633.9H258.7M250.8 583.4H248.8V622.8H253.3M267 648.6H263.1V652.3H267M263.1 650.4H260.8V655.8H267M267 644.4H258.8V652.1H260.8M267 659.3H264.1V662.5H267M267 665.6H263.3V668.9H267M264.1 660.6H259.3V667.2H263.3M258.8 649.7H253.9V663.9H259.3M267 671.4H263.7V674.3H267M267 677.9H262.7V680.9H267M263.7 673.3H260.7V679H262.7M267 683.3H262.7V686.9H267M267 690.3H262.7V693.5H267M262.7 692.4H260.7V697.2H267M262.7 685.6H258.7V694H260.7M260.7 676.2H256.7V690.4H258.7M253.9 656.2H248V684.6H256.7M267 704.8H263.7V708.4H267M267 700.7H261.4V706.3H263.7M267 714.7H263.5V717.4H267M267 711.8H261.5V716.4H263.5M261.4 704.4H259.1V714.5H261.5M267 720.3H263.9V723.3H267M267 726.9H263.2V729.8H267M263.9 722.2H261.1V728.2H263.2M267 733.5H261.4V737.9H267M261.4 735.5H259.4V742.4H267M261.1 725.1H255.8V738H259.4M259.1 709H249.5V732H255.8M267 750.4H262.9V753.2H267M267 746.6H260.9V751.2H262.9M260.9 749.4H258.9V756.3H267M267 764H262.5V767.2H267M267 760.7H260.5V766.1H262.5M267 771.7H263.6V775.5H267M260.5 764H258.5V773.1H263.6M258.9 751.7H254.2V767.7H258.5M267 778.4H263.1V780.9H267M267 782.9H263.5V785.7H267M263.5 784.8H261.5V788.9H267M263.1 779.4H259.5V786H261.5M267 791.2H264V794.4H267M267 801.9H262.8V805.5H267M267 798.3H260.8V803.6H262.8M264 793.4H258.8V801.9H260.8M267 813.6H261.8V817.5H267M267 809.7H259.3V816H261.8M258.8 798.7H253.4V813.7H259.3M259.5 783.5H251.4V805.1H253.4M254.2 760.9H249.4V798.5H251.4M267 826.1H263.9V828.6H267M267 822.4H261.6V827.3H263.9M267 835.5H264.3V838.1H267M264.3 836.4H262.3V840.9H267M267 831.8H260V838.3H262.3M261.6 824.9H258V836.3H260M267 843.8H263.5V846.6H267M267 853.3H262.6V856.5H267M267 849.8H260.6V854.4H262.6M263.5 845.6H258.6V853H260.6M258 831.4H253.1V850.2H258.6M267 860.1H260.6V865.1H267M267 868.6H263V871.3H267M263 870.2H261V874.5H267M260.6 862.6H257.9V871.8H261M267 878.1H262.6V881.2H267M267 884.4H262.3V888H267M262.6 879.2H259.8V885.9H262.3M267 891.4H262.1V895.4H267M259.8 882.8H257.8V893.6H262.1M257.9 866.8H254.6V886.8H257.8M253.1 838.8H249.2V877.6H254.6M267 899.6H263.4V903.4H267M267 907.1H263.1V910.1H267M263.4 901.3H261.1V908.1H263.1M267 912.4H264V914.9H267M264 913.6H260.7V918.4H267M267 922.8H262.4V926.5H267M260.7 915.9H258.5V924.4H262.4M261.1 904.3H252.9V919.6H258.5M267 933.6H264.2V936.6H267M267 930.2H262.2V935.2H264.2M267 939.8H263.9V943.2H267M262.2 933.2H260.2V941.7H263.9M267 947.6H262.1V952.2H267M262.1 949.8H258.8V956.9H267M260.2 936.6H255.2V952.2H258.8M267 961.7H261.5V966.3H267M267 970.4H264.1V973.3H267M267 975.4H263.3V978.5H267M267 982.2H264.1V985.4H267M263.3 977.3H259.5V983.7H264.1M264.1 971.3H257.5V980.6H259.5M261.5 963.8H255.5V977.6H257.5M267 988.9H262.8V993.4H267M267 998H262.6V1001.9H267M262.8 991.4H260.5V999.7H262.6M255.5 973.1H250.7V995.2H260.5M267 1013.2H264V1016.3H267M267 1010.1H261V1015.3H264M267 1005.8H259V1013.2H261M267 1022.9H262.8V1025.7H267M267 1019.7H260.8V1023.8H262.8M267 1028.3H263.8V1031.1H267M260.8 1022.5H258.8V1029.3H263.8M267 1034.4H263.5V1037.9H267M258.8 1025.2H256.8V1035.5H263.5M259 1011H251.6V1028.7H256.8M250.7 981.4H248V1021.3H251.6M267 1045.6H262.6V1049.7H267M267 1041.2H260.6V1047.4H262.6M267 1056.8H263.7V1060.4H267M267 1053.2H261.7V1058.6H263.7M260.6 1045.3H256.9V1056.9H261.7M267 1063.5H263V1066.8H267M267 1070.5H262.3V1074.1H267M263 1065.5H260.3V1072.4H262.3M256.9 1050.6H250.8V1069.1H260.3M267 1077.3H263.9V1080.6H267M263.9 1079.3H260.3V1084.9H267M267 1088.8H263.5V1091.4H267M260.3 1081.6H258.3V1089.8H263.5M250.8 1057.5H248.8V1084.2H258.3M267 1093.6H263.9V1096.6H267M263.9 1095.4H260.5V1100.5H267M267 1104.2H264.5V1106.9H267M264.5 1105.2H262.5V1109.2H267M260.5 1097.4H258.5V1106.5H262.5M267 1112.6H263.7V1116.3H267M267 1120.1H263.5V1124.2H267M263.7 1114.2H261.5V1122.1H263.5M258.5 1101.5H253.8V1118.4H261.5M267 1128.2H262.4V1132.6H267M267 1136.3H263.3V1139.9H267M262.4 1130.6H259V1138.5H263.3M267 1146.2H262.7V1149.3H267M267 1143.6H260.7V1148.2H262.7M267 1153H264.2V1155.6H267M260.7 1146.7H258.7V1154H264.2M259 1134.1H256.7V1149.4H258.7M253.8 1109.3H248V1141.5H256.7M267 1158.8H262V1162.9H267M267 1166.5H263.2V1170.1H267M263.2 1168.4H261.2V1173.8H267M262 1160.8H257.4V1170.2H261.2M267 1179.3H263.5V1182H267M267 1177H261.5V1181.1H263.5M257.4 1166.1H255.4V1179.7H261.5M267 1184.8H264.1V1187.5H267M264.1 1186.6H261.8V1191.1H267M267 1198.6H262V1202.7H267M267 1194.8H260V1201H262M261.8 1188.3H258V1199H260M255.4 1170.3H253.4V1194.5H258M267 1211.9H262.3V1216H267M267 1207.3H259.6V1213.6H262.3M267 1219.4H262.3V1222.9H267M262.3 1221.3H260.3V1226.6H267M267 1229.4H264V1231.9H267M260.3 1223H258.3V1230.9H264M259.6 1211.4H254.1V1225.6H258.3M267 1235.1H263V1239.1H267M267 1242.4H263.9V1245.1H267M267 1247.7H263V1251H267M263.9 1243.9H260.3V1249.8H263M263 1237.3H258.3V1247.1H260.3M254.1 1219.3H248.9V1243.2H258.3M267 1254.8H263.6V1259H267M263.6 1257.3H260.8V1263.8H267M267 1268.2H262.2V1272.5H267M260.8 1259.5H256V1270.3H262.2M267 1280.9H261.7V1285.2H267M267 1276.6H259.7V1283H261.7M267 1291.4H263.1V1294H267M267 1288.6H261.1V1292.5H263.1M259.7 1280.9H257.7V1291.2H261.1M267 1296.8H263.2V1299.7H267M267 1306.1H262.8V1309.3H267M267 1302.9H260.8V1308H262.8M263.2 1297.9H258.8V1306H260.8M257.7 1284.8H254.9V1303.1H258.8M256 1263.8H250.9V1292.9H254.9M267 1313.1H262.2V1316.5H267M262.2 1314.5H260.2V1320.2H267M267 1324.5H262.3V1327.9H267M262.3 1326H260.3V1331.4H267M260.2 1316.9H256.4V1328H260.3M267 1334.8H263.2V1337.6H267M263.2 1336.1H261V1341.2H267M261 1338.4H259V1345.7H267M267 1349.9H263.5V1353.7H267M259 1340.7H256.8V1351.9H263.5M256.4 1322.3H248.5V1344.6H256.8M267 1356.8H263.7V1359.6H267M267 1367.3H264.4V1370.1H267M267 1363.4H262.4V1368.2H264.4M263.7 1358.6H260.4V1366.2H262.4M267 1372.2H264.1V1375.3H267M264.1 1374.2H261.8V1379.4H267M267 1383.6H261.6V1387.7H267M261.8 1376.2H259.6V1385.5H261.6M260.4 1363.4H257.4V1380.3H259.6M248.5 1333.5H248V1372.7H257.4M267 1390.6H264.3V1393.1H267M264.3 1392.1H262.3V1396.8H267M267 1400.3H262.6V1403.6H267M262.3 1394.3H260.3V1402.4H262.6M267 1407.7H263.1V1411.7H267M263.1 1409.7H259.6V1416.1H267M267 1420.3H262.5V1424.2H267M262.5 1422.5H259.8V1428.4H267M259.6 1412.1H257.4V1424.5H259.8M260.3 1397.6H255.2V1418.1H257.4M267 1432H263.3V1435.1H267M267 1438.2H261.7V1441.9H267M263.3 1433.5H259.7V1440.4H261.7M267 1448.2H263.8V1450.7H267M267 1445.8H261.8V1450H263.8M259.7 1437.3H256.6V1448.3H261.8M267 1454.2H264V1457.2H267M264 1455.5H262V1460.8H267M256.6 1441.5H254.6V1457.7H262M267 1464H263.6V1466.8H267M263.6 1465.7H261.6V1469.6H267M267 1472.7H264.3V1475.8H267M261.6 1466.8H259.3V1473.9H264.3M267 1477.9H264V1480.7H267M264 1479.8H261.8V1484.2H267M261.8 1481.4H259.8V1488.3H267M259.3 1470H256.6V1483.9H259.8M267 1492.1H263.2V1494.6H267M263.2 1493.3H261.2V1497H267M267 1500.5H262.9V1504.4H267M261.2 1494.4H258.6V1502H262.9M256.6 1476.8H254.6V1498.3H258.6M267 1507.2H262.2V1510.8H267M267 1514.6H263.4V1518H267M262.2 1509.5H260.2V1516.6H263.4M267 1521.4H263.2V1524.2H267M267 1527.3H262.3V1531.1H267M263.2 1522.8H260.3V1529.4H262.3M260.2 1513H257.2V1526.6H260.3M267 1534H264V1536.6H267M264 1535.8H261.6V1540.5H267M267 1543.5H263.5V1546.2H267M261.6 1537.9H259.6V1545.2H263.5M267 1548.9H262.1V1552.2H267M259.6 1540.6H256.9V1551.2H262.1M267 1556.9H262.9V1561.3H267M267 1564.8H263.7V1568H267M267 1571.2H263V1575H267M263.7 1566.4H259.9V1573.4H263M262.9 1558.9H257.9V1570.2H259.9M256.9 1543.9H254.8V1565.9H257.9M257.2 1519.6H248V1555.2H254.8M267 1583.2H264.3V1585.9H267M267 1579.3H262.3V1584.2H264.3M267 1588.1H262.7V1591.5H267M262.3 1582.1H258.9V1590.4H262.7M267 1595H263V1597.8H267M267 1600.2H264.3V1602.7H267M264.3 1601.8H262.3V1606.5H267M263 1596.5H260.3V1604H262.3M258.9 1585.5H256.1V1601.2H260.3M267 1615.2H263.1V1618.6H267M263.1 1617H261.1V1622H267M267 1611.2H259.1V1618.7H261.1M256.1 1593H249.4V1616.2H259.1M267 1628.3H262.6V1631.7H267M267 1625.2H260.6V1630.2H262.6M267 1635.6H262.7V1639.1H267M262.7 1637.1H260.7V1642.8H267M260.6 1628.6H258.6V1639.3H260.7M267 1646.2H263.3V1649.6H267M267 1653.2H263.2V1655.9H267M263.3 1648.4H260.1V1654.5H263.2M267 1662H262.9V1664.7H267M267 1658.8H260.9V1663.1H262.9M267 1667.4H262.9V1671H267M260.9 1661.5H258.9V1669.4H262.9M260.1 1651.1H255.2V1665.1H258.9M258.6 1634.3H248V1659H255.2M267 1674.4H264.2V1677.1H267M264.2 1675.6H262.2V1679.6H267M267 1682.2H263.4V1684.8H267M267 1687.6H261.7V1691.5H267M263.4 1683.4H259.7V1689.8H261.7M262.2 1676.9H257.7V1687.3H259.7M267 1698.9H263V1701.5H267M263 1700.6H261V1704.5H267M267 1695.8H259V1701.8H261M257.7 1683.4H254.8V1699.7H259M267 1707.9H262.7V1711H267M262.7 1708.8H260.7V1713.5H267M267 1721H262.8V1723.8H267M262.8 1722.7H260.8V1727.1H267M267 1717.5H258.8V1724.3H260.8M260.7 1710.4H256.1V1721.9H258.8M254.8 1689.3H252.7V1717.2H256.1M267 1729.9H262.5V1732.9H267M267 1737.2H262.8V1741.6H267M262.8 1739.1H260.2V1745.6H267M262.5 1731.7H257.9V1741.2H260.2M267 1748.6H264V1751.5H267M264 1750.7H262V1755.3H267M267 1761.1H263.6V1763.7H267M267 1758.5H261.6V1762.6H263.6M262 1752.4H259.3V1761.1H261.6M267 1767.4H262.8V1771.7H267M267 1774.8H262.6V1778.2H267M267 1781.6H262.8V1784.4H267M262.6 1777.1H260.6V1783.4H262.8M262.8 1769.4H258.5V1779.9H260.6M259.3 1756.4H254.4V1775.7H258.5M257.9 1738.3H248.4V1767H254.4M267 1787.8H263.9V1790.4H267M263.9 1788.7H261.9V1792.8H267M261.9 1790.2H259.9V1796H267M267 1799.7H262.6V1803.6H267M262.6 1801.6H260.6V1807.5H267M259.9 1791.9H255.7V1803.6H260.6M267 1810.6H262.7V1813.9H267M267 1817.9H263.3V1820.8H267M263.3 1819.1H261.3V1823.6H267M262.7 1812.9H259.3V1820.6H261.3M255.7 1797.9H253V1817.3H259.3M267 1829.3H263.6V1832H267M267 1826.5H261.6V1830.7H263.6M267 1835H263.6V1837.8H267M267 1845.1H263.2V1848.6H267M267 1841.3H261.2V1847.1H263.2M263.6 1836.2H259.2V1844.8H261.2M261.6 1829.3H254.9V1842H259.2M253 1805.6H248V1837.8H254.9M267 1857.5H262.7V1861.1H267M267 1853H259.9V1858.9H262.7M267 1863.8H262.3V1867.4H267M259.9 1856.6H257.9V1866.2H262.3M267 1873.2H264V1875.8H267M267 1871H262V1874.8H264M262 1873.6H260V1879.2H267M267 1883.2H263.2V1886.7H267M263.2 1884.5H261.2V1889.8H267M260 1875.4H257.7V1886.3H261.2M257.9 1860.2H255.7V1880.7H257.7M267 1893.9H263.4V1897.4H267M267 1900.3H263.8V1902.9H267M263.8 1901.1H261.8V1905H267M267 1907.8H261.8V1911.7H267M261.8 1902.4H258.6V1910.1H261.8M263.4 1895.1H256.6V1906.2H258.6M255.7 1871.1H248V1902.7H256.6M267 1919.8H262.2V1923.1H267M267 1915.8H260.2V1921H262.2M267 1925.4H262.7V1928.3H267M262.7 1927.2H260.7V1932.6H267M260.2 1919.1H258.2V1929.6H260.7M260 1936.2H255.6V1939.8H260M255.6 1938.5H252.8V1944.6H260M260 1948.6H257V1951.9H260M252.8 1941H250.8V1950.3H257M260 1959.3H257.1V1962H260M260 1955.6H255.1V1960.4H257.1M250.8 1944.3H248.8V1958.4H255.1M260 1964.9H255.7V1967.9H260M260 1971.1H256.5V1974.8H260M255.7 1966.2H253.7V1972.8H256.5M260 1978H257V1980.8H260M257 1979.2H255V1983.4H260M253.7 1969.8H251.7V1980.6H255M260 1986.1H256.6V1988.9H260M260 1991.2H256.2V1994.2H260M256.6 1987.5H254.2V1993.2H256.2M260 1997.2H256.3V1999.8H260M254.2 1990.5H252.2V1998.8H256.3M251.7 1974H248.3V1993H252.2M248.8 1949.1H241V1982.2H248.3M260 2006.5H255.7V2009.4H260M260 2003H253.7V2007.5H255.7M260 2012.4H254.9V2016.5H260M253.7 2005.8H251.7V2014.5H254.9M260 2023.2H256.5V2025.8H260M260 2020.3H254.5V2024.4H256.5M260 2029.4H254.8V2033.6H260M254.5 2022.9H252.5V2031.2H254.8M260 2037.5H254.7V2041.6H260M252.5 2027.1H249.3V2039.5H254.7M251.7 2010H245.7V2031.1H249.3M260 2050.7H256.1V2054.9H260M260 2046H253.9V2052.6H256.1M260 2058.4H256.3V2060.9H260M256.3 2059.3H254.3V2063.5H260M253.9 2050.2H251.2V2061H254.3M260 2067.1H256.8V2070.9H260M260 2074.6H255.7V2077.9H260M256.8 2069H253.1V2076.1H255.7M260 2080.5H257.5V2083.2H260M260 2087.2H255.3V2091.8H260M257.5 2082.2H253.3V2089.5H255.3M260 2095.7H254.9V2099.7H260M253.3 2086.8H251.3V2098H254.9M253.1 2072.3H244.4V2090.7H251.3M251.2 2054.4H241.6V2083.6H244.4" fill="none" stroke="#141010" stroke-width="3.6" stroke-linejoin="miter" stroke-linecap="square"/>
<path d="M171 649.7H101V2005.4H115M195.4 310.6H171V988H178.3M222.2 123.9H195.4V500.4H208.4M237.6 98.7H222.2V150.6H266M252.2 79.2H237.6V118.2H266M266 66.2H252.2V93.8H266M231 379.5H208.4V622.1H219.7M245.7 274.8H231V484.2H239.2M266 228.6H245.7V321H266M266 445.2H239.2V519.9H266M266 587.2H219.7V656.2H226.2M266 646.5H226.2V664.4H266M206.8 752.7H178.3V1219.4H188.9M223 722H206.8V785.2H216.5M266 703.3H223V741.4H266M266 772.2H216.5V795H266M200.3 848.5H188.9V1591.8H197M266 803.9H200.3V892.3H223M266 822.5H223V965.4H230.3M266 903.7H230.3V1025.5H239.2M266 1006H239.2V1045H266M216.5 1279.4H197V1901.9H211.9M226.2 1100.8H216.5V1457H226M266 1078H226.2V1125.2H237.6M266 1104H237.6V1144.7H266M239.2 1300.5H226V1613H237.6M266 1222.6H239.2V1378.4H266M266 1499.3H237.6V1728H266M238.6 1865.2H211.9V1938.6H266M266 1845.2H238.6V1886.9H266M176 1962H115V2047.2H155.1M266 1957H176V1968H266M191.8 2028H155.1V2070.5H185.2M215.2 2007.1H191.8V2048.8H266M266 1990.4H215.2V2022.1H266M266 2062.2H185.2V2077.2H205.2M266 2073.9H205.2V2087.2H218.6M266 2078.9H218.6V2097.2H266" fill="none" stroke="#141010" stroke-width="4.5" stroke-linejoin="miter" stroke-linecap="square"/>
<rect x="1101" y="68" width="19.5" height="56" fill="#141010"/>
<rect x="1083" y="124" width="37.5" height="44" fill="#141010"/>
<rect x="1099" y="168" width="21.5" height="112" fill="#141010"/>
<rect x="1090" y="280" width="30.5" height="20" fill="#141010"/>
<rect x="1099" y="300" width="21.5" height="60" fill="#141010"/>
<rect x="1093" y="360" width="27.5" height="70" fill="#141010"/>
<rect x="1099" y="430" width="21.5" height="26" fill="#141010"/>
<rect x="1087" y="456" width="33.5" height="65" fill="#141010"/>
<rect x="1098" y="521" width="22.5" height="152" fill="#141010"/>
<rect x="1091" y="673" width="29.5" height="126" fill="#141010"/>
<path d="M1103 70.2H1099.5V73.2H1103M1103 80.1H1098.6V82.6H1103M1098.6 81.5H1096.6V86H1103M1103 76.6H1093.7V83.5H1096.6M1099.5 71.1H1091.7V81.1H1093.7M1103 89.4H1100.2V91.9H1103M1100.2 90.5H1097.1V94.2H1103M1103 97H1099.4V99.8H1103M1097.1 91.7H1095.1V98.3H1099.4M1103 103.1H1098.5V106.3H1103M1095.1 94.5H1091.3V104.2H1098.5M1103 109.3H1097.9V112.7H1103M1097.9 110.9H1095.9V115.9H1103M1103 118.8H1097.5V122.1H1103M1095.9 112.5H1093.9V120.8H1097.5M1091.3 97.7H1086.2V115.7H1093.9M1091.7 78H1081V106H1086.2M1085 125H1082V127.9H1085M1082 126.8H1079V131.8H1085M1085 134.8H1080V137.7H1085M1079 128.9H1076.8V136.8H1080M1085 141.6H1079.5V144.9H1085M1085 148H1080.4V151.8H1085M1079.5 143H1077V150.2H1080.4M1085 155.6H1080.8V158.5H1085M1085 161.8H1079.4V165.9H1085M1080.8 157H1077.4V163.9H1079.4M1077 146.9H1075V161H1077.4M1076.8 131.9H1063.8V153.9H1075M1101 170.4H1096.3V173.9H1101M1096.3 171.5H1094.3V176.7H1101M1101 183.5H1097.1V186.2H1101M1097.1 185.2H1095.1V189.2H1101M1101 180.5H1093.1V186.6H1095.1M1094.3 173.2H1091.1V184.5H1093.1M1101 195.2H1095.9V198.5H1101M1101 192.1H1093.9V196.8H1095.9M1101 201.8H1097.8V204.8H1101M1101 212.2H1096.4V214.8H1101M1101 208.3H1094.4V213.2H1096.4M1097.8 203.1H1091.3V210.9H1094.4M1093.9 195.3H1089.3V207.9H1091.3M1091.1 179.3H1083V203.2H1089.3M1101 217.9H1096.4V221.8H1101M1101 225.2H1096.5V227.8H1101M1096.4 219.6H1093.4V226.2H1096.5M1101 233.3H1096.3V236.5H1101M1101 230.3H1094.3V234.9H1096.3M1094.3 233.5H1092.3V240.3H1101M1093.4 222.3H1087.9V235.7H1092.3M1101 246.8H1096.4V249.3H1101M1101 244.2H1094.4V248.5H1096.4M1101 255.5H1097.3V258.6H1101M1101 252.7H1094.2V257.4H1097.3M1094.4 246.8H1092.2V255.8H1094.2M1087.9 229.1H1085.9V251.5H1092.2M1101 262.1H1097.2V265.4H1101M1101 268.8H1096.1V271.6H1101M1101 275.1H1097.4V278.7H1101M1096.1 269.9H1094.1V276.4H1097.4M1097.2 263.8H1089.7V273.6H1094.1M1085.9 238.1H1083.9V270.3H1089.7M1092 286.1H1087.7V288.8H1092M1092 282.2H1085.7V287.2H1087.7M1092 295.1H1088.3V298.2H1092M1092 291.9H1086.3V297H1088.3M1085.7 285H1081.5V295H1086.3M1101 306.8H1095V311.5H1101M1101 302.2H1093V309.2H1095M1101 314.7H1096.6V317.4H1101M1101 320.1H1096.8V322.9H1101M1096.6 316.6H1093V322.1H1096.8M1093 306.9H1087.7V319.4H1093M1101 326.2H1098V328.7H1101M1101 331.7H1095V335.7H1101M1098 327.4H1092.6V333.9H1095M1087.7 312.4H1085.7V331.4H1092.6M1101 344.8H1095V348.7H1101M1101 340.2H1093V346.3H1095M1101 356.3H1097.1V359H1101M1101 352.4H1095.1V357.3H1097.1M1093 344H1091V355.1H1095.1M1095 362.2H1089.2V365.7H1095M1095 368H1091.5V370.6H1095M1089.2 363.5H1086.8V369.6H1091.5M1095 373.8H1089.9V377.4H1095M1089.9 375.8H1087.9V381.8H1095M1086.8 366.1H1084.8V378.1H1087.9M1095 393.8H1091.2V396.4H1095M1095 390.7H1087.9V395.4H1091.2M1095 386.3H1085.9V393.3H1087.9M1084.8 372.1H1079.4V391H1085.9M1095 398.8H1090.2V401.5H1095M1090.2 400.6H1088.2V405.1H1095M1095 408.4H1092V411.1H1095M1092 409.4H1090V413.6H1095M1088.2 402.4H1086.2V411H1090M1095 416.9H1091.5V419.4H1095M1091.5 417.7H1089.5V421.4H1095M1095 424.8H1090.6V428.5H1095M1089.5 418.9H1085.2V426.3H1090.6M1086.2 406.6H1078.4V422.6H1085.2M1101 431.3H1097.3V434.3H1101M1097.3 433H1095.3V438.3H1101M1101 441.7H1095.6V445H1101M1095.3 435.3H1093.2V443.9H1095.6M1101 451.2H1097.7V454.3H1101M1101 448.5H1095.7V453H1097.7M1093.2 438.6H1090.4V451.6H1095.7M1089 458H1082.6V462.4H1089M1089 470.7H1084.1V473.6H1089M1089 467H1081.5V472.1H1084.1M1082.6 460.4H1079.5V469.9H1081.5M1089 477.2H1084.7V480.3H1089M1089 482.2H1085.7V484.8H1089M1089 488.3H1084.8V492.4H1089M1085.7 483.9H1082.8V490.6H1084.8M1084.7 478.1H1076.9V488H1082.8M1079.5 465.5H1071V484.9H1076.9M1089 496.8H1085.1V500.8H1089M1085.1 498.8H1082.5V505.2H1089M1089 509.7H1084.6V512.7H1089M1089 515.5H1083.9V519.1H1089M1084.6 510.7H1081.9V517.4H1083.9M1082.5 501.2H1076.1V514.3H1081.9M1100 524.1H1096.9V526.7H1100M1100 522.1H1094.9V525.8H1096.9M1100 529.6H1095.7V532.8H1100M1095.7 531.5H1093.4V536.8H1100M1094.9 524.7H1090.5V533.6H1093.4M1100 541.1H1095.2V544.5H1100M1100 546.9H1095.2V550.2H1100M1100 553.4H1096.1V556.4H1100M1096.1 555.1H1094.1V559.6H1100M1095.2 548.9H1092.1V556.6H1094.1M1095.2 542.2H1090.1V553.3H1092.1M1090.5 529.9H1080.8V549.9H1090.1M1100 567H1095.2V570H1100M1100 563H1093.2V568H1095.2M1100 572.5H1095.5V575.5H1100M1093.2 566H1091.2V573.9H1095.5M1100 578.4H1094.8V582.4H1100M1100 586.2H1094.8V589.5H1100M1094.8 580.8H1092.8V588.1H1094.8M1091.2 568.9H1083.7V584.1H1092.8M1080.8 541H1078.2V576.2H1083.7M1100 593.4H1096.5V596.8H1100M1100 599.6H1094.8V603H1100M1100 606H1095.6V608.8H1100M1094.8 601.6H1092.2V607.8H1095.6M1096.5 594.8H1090.2V604.4H1092.2M1100 612.4H1094.6V616.3H1100M1100 619.4H1096.1V622.2H1100M1100 625.2H1095.3V627.9H1100M1095.3 626.9H1093.3V631.2H1100M1096.1 621.4H1091.3V628.5H1093.3M1094.6 614.6H1089.3V625.6H1091.3M1090.2 601H1085V621.7H1089.3M1100 640.2H1094.8V645.2H1100M1100 635.3H1092.4V642.7H1094.8M1100 649.5H1096V653.1H1100M1100 655.7H1095.6V658.2H1100M1096 651.2H1093.6V657.3H1095.6M1100 669.1H1095.9V671.9H1100M1100 665.8H1093.5V670.1H1095.9M1100 662.1H1091.5V668.7H1093.5M1093.6 653.8H1089.5V666.4H1091.5M1092.4 640.2H1084.8V660.3H1089.5M1093 676.5H1089.1V679.1H1093M1093 674.2H1087.1V678H1089.1M1093 682.5H1088.9V685.3H1093M1088.9 683.4H1086.4V687.8H1093M1087.1 676.8H1083.8V684.9H1086.4M1093 690.2H1088.4V692.7H1093M1088.4 691.8H1085.8V696.7H1093M1083.8 681.1H1081.6V694.2H1085.8M1093 700.8H1088V703.8H1093M1093 706.4H1088.8V709.2H1093M1093 712.9H1089.3V716.2H1093M1088.8 708H1086.8V714.2H1089.3M1088 702.2H1083.2V711.4H1086.8M1093 719.7H1088.8V723.2H1093M1093 726.8H1088.2V731.6H1093M1093 734.9H1089.9V737.7H1093M1088.2 729.3H1086V736.8H1089.9M1088.8 721H1081.2V732.1H1086M1083.2 708.3H1074.7V728.6H1081.2M1081.6 686.1H1071V719.4H1074.7M1093 740.7H1088.5V744.1H1093M1093 750.7H1089.5V753.2H1093M1093 748.1H1087.5V752.3H1089.5M1088.5 743H1083.3V750.6H1087.5M1093 761.2H1088.2V764.2H1093M1093 757H1086.2V762.2H1088.2M1083.3 747.2H1079V760.1H1086.2M1093 767.3H1088.7V770.5H1093M1093 772.5H1089.6V775.5H1093M1088.7 768.4H1086.7V774.6H1089.6M1093 779.9H1087.3V783.7H1093M1086.7 771.4H1084.7V781.3H1087.3M1079 752.4H1077V775.1H1084.7M1093 786.2H1089.3V788.9H1093M1093 795.1H1089.6V797.8H1093M1093 792H1086.6V796.3H1089.6M1089.3 787.7H1084.6V794.7H1086.6" fill="none" stroke="#141010" stroke-width="3.6" stroke-linejoin="miter" stroke-linecap="square"/>
<path d="M973.8 176.7H946V539.4H950.8M1015 109.8H973.8V242.8H984M1058.8 89.2H1015V129.5H1043.3M1102 73.7H1058.8V104.6H1102M1102 125H1043.3V135H1102M1034.7 166.4H984V319.2H996.1M1102 152.7H1034.7V181.9H1046.7M1102 174.2H1046.7V190.5H1102M1030.4 250.6H996.1V387.9H1020.1M1062.2 223.1H1030.4V279.7H1057M1102 209.4H1062.2V236.8H1102M1102 267.7H1057V291.8H1102M1062.2 322.7H1020.1V451H1038.5M1102 308H1062.2V348.4H1102M1102 425.4H1038.5V476H1102M1102 490.9H950.8V587.5H1002M1036.7 500.7H1002V673.2H1028.6M1102 496H1036.7V508.6H1102M1058.4 628H1028.6V716.6H1041.2M1068.3 590.9H1058.4V666H1067.4M1102 554.7H1068.3V628H1102M1102 653.3H1067.4V675H1102M1102 691.2H1041.2V740H1051.2M1102 720.2H1051.2V756.3H1067.4M1102 743.7H1067.4V774.4H1083.7M1102 763.6H1083.7V781.7H1102" fill="none" stroke="#141010" stroke-width="5.0" stroke-linejoin="miter" stroke-linecap="square"/>
<rect x="1099" y="1113" width="21.5" height="239" fill="#141010"/>
<rect x="1082" y="1352" width="38.5" height="103" fill="#141010"/>
<path d="M1101 1115.3H1095.5V1119.5H1101M1101 1122.8H1096.3V1126.8H1101M1096.3 1125.3H1094.3V1131.3H1101M1095.5 1117.2H1092.3V1127.3H1094.3M1101 1135.4H1096.6V1139.5H1101M1096.6 1137.4H1093.8V1143.5H1101M1092.3 1123.1H1088.4V1139.3H1093.8M1101 1151.6H1098.1V1154.8H1101M1101 1147.7H1095.2V1153.2H1098.1M1101 1158.5H1095.3V1163H1101M1101 1167.4H1097.2V1170.5H1101M1095.3 1160.9H1093.3V1168.4H1097.2M1095.2 1150.9H1091.3V1163.9H1093.3M1088.4 1129.2H1086.4V1158.4H1091.3M1101 1174H1097.4V1178.2H1101M1097.4 1175.7H1095.4V1182H1101M1101 1185.7H1097.7V1189.7H1101M1101 1193.4H1097.5V1196.5H1101M1101 1199.4H1098.2V1202.3H1101M1097.5 1195.2H1095.5V1201.2H1098.2M1097.7 1188.1H1091V1198.1H1095.5M1095.4 1177.8H1087.7V1194.2H1091M1101 1208.2H1098V1210.9H1101M1101 1205.7H1096V1210H1098M1101 1213.9H1097.8V1217.2H1101M1101 1220.4H1097.8V1223H1101M1097.8 1221.8H1095.8V1226.4H1101M1097.8 1215.9H1093.8V1223.8H1095.8M1096 1208.4H1090V1220.6H1093.8M1101 1233.1H1097.5V1236.2H1101M1101 1230H1095.4V1234.7H1097.5M1101 1243H1097.6V1245.7H1101M1097.6 1244.9H1095.6V1249.1H1101M1101 1240H1093.6V1246.3H1095.6M1095.4 1233.1H1090.2V1244.2H1093.6M1090 1216.3H1084.3V1239.5H1090.2M1087.7 1187.9H1082.3V1227.4H1084.3M1101 1255.3H1096.9V1258.4H1101M1101 1252.1H1094.9V1256.8H1096.9M1101 1262.3H1096.6V1267.1H1101M1101 1271.9H1097V1275.4H1101M1097 1273H1095V1278.4H1101M1096.6 1264.7H1093V1274.9H1095M1094.9 1255.2H1088.2V1270.1H1093M1101 1285.3H1096.5V1288.9H1101M1101 1282.2H1094.5V1287.5H1096.5M1101 1292.7H1097V1295.6H1101M1101 1298.8H1097.6V1301.6H1101M1097.6 1299.8H1095.6V1304H1101M1097 1294H1092.9V1301.1H1095.6M1094.5 1285.7H1089.3V1298.2H1092.9M1088.2 1265.4H1082V1292.8H1089.3M1101 1307.7H1097.1V1311.9H1101M1101 1314.7H1097.5V1318.1H1101M1097.1 1309.4H1093.8V1317H1097.5M1101 1322.6H1097.1V1326.8H1101M1093.8 1312.8H1091.8V1324.6H1097.1M1101 1330.6H1097.3V1333.2H1101M1101 1336H1097.2V1338.8H1101M1097.2 1336.8H1095.2V1342.1H1101M1097.3 1331.4H1092.3V1339.3H1095.2M1101 1346.3H1095.9V1350H1101M1092.3 1336.7H1090.2V1348.3H1095.9M1091.8 1317.1H1088.2V1340.4H1090.2M1084 1353.9H1080.9V1356.9H1084M1080.9 1355H1078.9V1359.9H1084M1084 1363.7H1079.6V1366.7H1084M1079.6 1364.9H1077.6V1369.9H1084M1084 1374.1H1080.9V1377.8H1084M1080.9 1375.4H1078.9V1381.5H1084M1077.6 1366.8H1073.3V1377.9H1078.9M1078.9 1356.9H1071.3V1372.9H1073.3M1084 1385.5H1080V1389H1084M1084 1393.2H1079.9V1397.9H1084M1080 1387.5H1077.9V1395.6H1079.9M1084 1405.6H1080V1409.3H1084M1084 1402.3H1078V1408H1080M1084 1413.2H1080.1V1416.2H1084M1084 1418.8H1081.4V1421.6H1084M1080.1 1414.7H1078.1V1420.5H1081.4M1084 1424.8H1080.3V1428.3H1084M1078.1 1417.5H1076.1V1426.8H1080.3M1078 1406H1074V1421H1076.1M1077.9 1392.1H1066.3V1415.3H1074M1084 1431.4H1080.3V1434.1H1084M1084 1436.9H1081.1V1440.2H1084M1080.3 1433H1078.3V1438.9H1081.1M1084 1444.1H1080.2V1448.5H1084M1080.2 1446.6H1076.3V1453H1084M1078.3 1436.2H1073.6V1448.6H1076.3" fill="none" stroke="#141010" stroke-width="3.6" stroke-linejoin="miter" stroke-linecap="square"/>
<path d="M1012.1 1218.5H946.1V1385.4H972.3M1053.6 1150.8H1012.1V1288H1034.1M1080.7 1122H1053.6V1179.6H1073.1M1100 1115.2H1080.7V1130.5H1100M1100 1162.7H1073.1V1198.2H1100M1062.9 1243.1H1034.1V1333.7H1056.2M1100 1222H1062.9V1264.3H1073.1M1100 1245.6H1073.1V1282H1100M1100 1321H1056.2V1344.7H1063.8M1100 1328.6H1063.8V1357.4H1100M1100 1360.8H972.3V1408.2H983.3M1017.2 1384.5H983.3V1434.5H1012.1M1100 1373.5H1017.2V1394.7H1029.9M1100 1388H1029.9V1404.8H1100M1100 1425.1H1012.1V1443.8H1041.8M1100 1437H1041.8V1450H1100" fill="none" stroke="#141010" stroke-width="5.0" stroke-linejoin="miter" stroke-linecap="square"/>
<rect x="1097" y="1753" width="23.5" height="97" fill="#141010"/>
<rect x="1084" y="1850" width="36.5" height="243" fill="#141010"/>
<path d="M1099 1754.2H1096.4V1757.3H1099M1099 1763.9H1095.9V1767.4H1099M1099 1761.1H1093.9V1766.3H1095.9M1096.4 1756.1H1090.2V1764.5H1093.9M1099 1771H1096V1773.7H1099M1096 1772.5H1093.9V1777.1H1099M1090.2 1761.4H1088.2V1774.4H1093.9M1096.6 1781.6H1094.6V1785.6H1099M1099 1789H1096.4V1791.7H1099M1099 1794.7H1096.4V1797.6H1099M1096.4 1795.6H1094.2V1801H1099M1096.4 1789.8H1092.2V1798H1094.2M1094.6 1783.1H1087.9V1795.3H1092.2M1088.2 1766H1085.9V1791.2H1087.9M1099 1805.1H1095V1808.1H1099M1099 1810.3H1095.2V1813.3H1099M1099 1817.3H1095V1820.7H1099M1095.2 1812.4H1093V1818.7H1095M1095 1806.4H1090.2V1815.7H1093M1099 1824.2H1095.3V1828.3H1099M1099 1832H1094.5V1835.6H1099M1095.3 1826.2H1091.7V1833.9H1094.5M1099 1839.2H1095.2V1841.9H1099M1099 1844.1H1095.9V1847.6H1099M1095.2 1840.2H1093.2V1846.5H1095.9M1091.7 1829.7H1089.7V1843.7H1093.2M1090.2 1812.7H1082.8V1836H1089.7M1086 1854.8H1082.8V1857.9H1086M1086 1851.9H1080.3V1856.9H1082.8M1086 1861.1H1082.4V1864.5H1086M1086 1867.7H1082.5V1870.6H1086M1082.4 1863.4H1080.4V1869.6H1082.5M1080.3 1855H1078.3V1866.2H1080.4M1086 1874.2H1082.6V1876.9H1086M1082.6 1875.2H1080.6V1880.1H1086M1078.3 1861.3H1074.1V1877.4H1080.6M1086 1890.9H1082.8V1893.5H1086M1086 1887.7H1080.8V1892H1082.8M1086 1884.1H1078.8V1890.3H1080.8M1086 1901.4H1082.8V1904.8H1086M1086 1896.9H1080.8V1902.5H1082.8M1086 1907.4H1081.7V1910.7H1086M1080.8 1900.2H1078.3V1909.1H1081.7M1078.8 1888.4H1075.2V1903.4H1078.3M1074.1 1866.1H1069V1897.3H1075.2M1086 1914.6H1080.6V1918.8H1086M1086 1925.5H1081.4V1928.9H1086M1086 1922.5H1079.4V1927.5H1081.4M1080.6 1916.6H1077.4V1925.9H1079.4M1086 1933.2H1083.1V1936.6H1086M1086 1939.5H1082.4V1942.2H1086M1083.1 1934.3H1080.4V1940.4H1082.4M1086 1945.3H1082.7V1948.7H1086M1086 1951.9H1082.3V1955.2H1086M1082.7 1946.6H1080.3V1953.3H1082.3M1080.4 1937H1077.7V1949.8H1080.3M1077.4 1921.6H1072.8V1943.7H1077.7M1086 1962.1H1082.5V1965.2H1086M1086 1958.5H1080.5V1963.5H1082.5M1086 1968.2H1081.6V1971.4H1086M1086 1977.8H1081.9V1980.6H1086M1086 1974.5H1079.9V1978.7H1081.9M1081.6 1969.8H1077.9V1977.3H1079.9M1080.5 1961.6H1075.9V1974.1H1077.9M1086 1984H1081.3V1988.1H1086M1081.3 1985.7H1079.3V1991.6H1086M1075.9 1969.1H1073.9V1987.6H1079.3M1086 2000.2H1082.9V2003.5H1086M1086 1996H1080.9V2001.8H1082.9M1086 2009.4H1082.4V2012.9H1086M1086 2006.7H1080.4V2011.7H1082.4M1086 2020H1082.1V2022.7H1086M1086 2017.1H1080.1V2021.8H1082.1M1086 2026.6H1081.6V2030.3H1086M1080.1 2019.8H1078.1V2028.2H1081.6M1080.4 2010.1H1075.8V2023.5H1078.1M1080.9 1999.3H1073.8V2018.5H1075.8M1086 2036.7H1083.2V2039.9H1086M1086 2033.3H1081.2V2037.9H1083.2M1086 2042H1082.7V2044.8H1086M1081.2 2036.5H1078.4V2043.9H1082.7M1086 2048H1082.1V2051.9H1086M1082.1 2050.5H1079.4V2056.2H1086M1078.4 2039.3H1074.5V2052.4H1079.4M1073.8 2012.7H1068V2045H1074.5M1086 2059.1H1083.1V2061.7H1086M1086 2064.8H1083.3V2067.7H1086M1083.3 2066.1H1081.3V2070.7H1086M1083.1 2060.7H1079.3V2067.8H1081.3M1086 2074.4H1082V2077.7H1086M1086 2081.3H1082.2V2084.7H1086M1082 2075.7H1080V2082.5H1082.2M1086 2087.6H1081.6V2091.2H1086M1080 2079.2H1078V2089.5H1081.6M1079.3 2065.3H1076V2082.7H1078" fill="none" stroke="#141010" stroke-width="3.6" stroke-linejoin="miter" stroke-linecap="square"/>
<path d="M970 1784.2H945.9V1990.4H965.1M1098 1755H970V1812.6H1020.2M1057.7 1789.2H1020.2V1836.8H1034.3M1075.2 1778.4H1057.7V1802.6H1098M1098 1771H1075.2V1785H1098M1098 1828.5H1034.3V1845.2H1098M1003.5 1917H965.1V2063H983.4M1044.4 1864.4H1003.5V1972H1033.5M1098 1855.2H1044.4V1875.2H1060.2M1098 1868.5H1060.2V1881.9H1098M1059.4 1923.6H1033.5V2017.1H1060.2M1098 1902H1059.4V1947H1067.7M1098 1930.3H1067.7V1963.7H1078.6M1098 1954H1078.6V1972H1098M1071.9 2003.8H1060.2V2033H1098M1098 1994H1071.9V2015H1098M1017.6 2050.5H983.4V2076.4H1007.6M1098 2045.5H1017.6V2055.5H1098M1098 2070.5H1007.6V2080.6H1098" fill="none" stroke="#141010" stroke-width="5.0" stroke-linejoin="miter" stroke-linecap="square"/>
<text x="32" y="109.8" font-size="101" font-family="'Liberation Sans', Arial, sans-serif" fill="#111">A</text>
<text x="895" y="109.8" font-size="101" font-family="'Liberation Sans', Arial, sans-serif" fill="#111">B</text>
<text x="895" y="1119.4" font-size="101" font-family="'Liberation Sans', Arial, sans-serif" fill="#111">C</text>
<text x="895" y="1743" font-size="101" font-family="'Liberation Sans', Arial, sans-serif" fill="#111">D</text>
<text x="1785" y="172.7" font-size="68" font-family="'Liberation Sans', Arial, sans-serif" fill="#111">1</text>
<text x="1788.2" y="341" font-size="68" font-family="'Liberation Sans', Arial, sans-serif" fill="#111">0</text>
<text x="1781" y="510.7" font-size="68" font-family="'Liberation Sans', Arial, sans-serif" fill="#111">−1</text>
<text x="0" y="0" transform="translate(369.4,2145) rotate(-45)" text-anchor="end" font-size="65" font-family="'Liberation Sans', Arial, sans-serif" fill="#111">M313_C</text>
<text x="0" y="0" transform="translate(518.1,2145) rotate(-45)" text-anchor="end" font-size="65" font-family="'Liberation Sans', Arial, sans-serif" fill="#111">M313_T</text>
<text x="0" y="0" transform="translate(666.9,2145) rotate(-45)" text-anchor="end" font-size="65" font-family="'Liberation Sans', Arial, sans-serif" fill="#111">M016_C</text>
<text x="0" y="0" transform="translate(815.6,2145) rotate(-45)" text-anchor="end" font-size="65" font-family="'Liberation Sans', Arial, sans-serif" fill="#111">M016_T</text>
<text x="0" y="0" transform="translate(1250.5,858) rotate(-45)" text-anchor="end" font-size="65" font-family="'Liberation Sans', Arial, sans-serif" fill="#111">M313_C</text>
<text x="0" y="0" transform="translate(1399.5,858) rotate(-45)" text-anchor="end" font-size="65" font-family="'Liberation Sans', Arial, sans-serif" fill="#111">M313_T</text>
<text x="0" y="0" transform="translate(1548.5,858) rotate(-45)" text-anchor="end" font-size="65" font-family="'Liberation Sans', Arial, sans-serif" fill="#111">M016_C</text>
<text x="0" y="0" transform="translate(1697.5,858) rotate(-45)" text-anchor="end" font-size="65" font-family="'Liberation Sans', Arial, sans-serif" fill="#111">M016_T</text>
<text x="0" y="0" transform="translate(1250.5,1505.5) rotate(-45)" text-anchor="end" font-size="65" font-family="'Liberation Sans', Arial, sans-serif" fill="#111">M016_C</text>
<text x="0" y="0" transform="translate(1399.5,1505.5) rotate(-45)" text-anchor="end" font-size="65" font-family="'Liberation Sans', Arial, sans-serif" fill="#111">M016_T</text>
<text x="0" y="0" transform="translate(1548.5,1505.5) rotate(-45)" text-anchor="end" font-size="65" font-family="'Liberation Sans', Arial, sans-serif" fill="#111">M313_C</text>
<text x="0" y="0" transform="translate(1697.5,1505.5) rotate(-45)" text-anchor="end" font-size="65" font-family="'Liberation Sans', Arial, sans-serif" fill="#111">M313_T</text>
<text x="0" y="0" transform="translate(1250.5,2145.5) rotate(-45)" text-anchor="end" font-size="65" font-family="'Liberation Sans', Arial, sans-serif" fill="#111">M016_C</text>
<text x="0" y="0" transform="translate(1399.5,2145.5) rotate(-45)" text-anchor="end" font-size="65" font-family="'Liberation Sans', Arial, sans-serif" fill="#111">M016_T</text>
<text x="0" y="0" transform="translate(1548.5,2145.5) rotate(-45)" text-anchor="end" font-size="65" font-family="'Liberation Sans', Arial, sans-serif" fill="#111">M313_C</text>
<text x="0" y="0" transform="translate(1697.5,2145.5) rotate(-45)" text-anchor="end" font-size="65" font-family="'Liberation Sans', Arial, sans-serif" fill="#111">M313_T</text>
</svg></div></body></html>
